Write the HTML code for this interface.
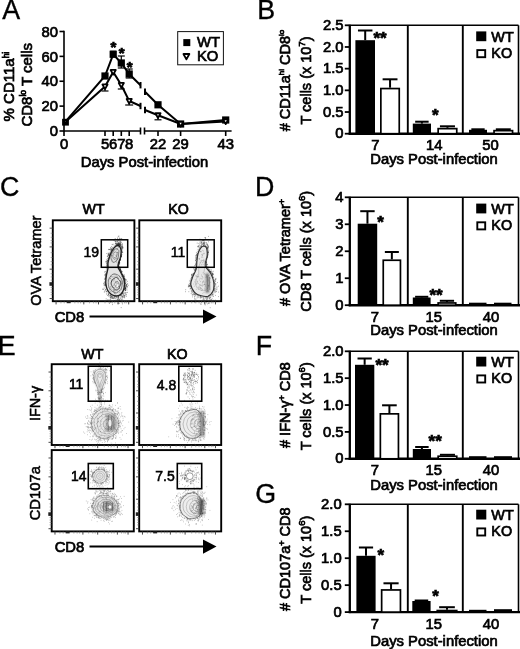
<!DOCTYPE html>
<html><head><meta charset="utf-8"><title>Figure</title>
<style>html,body{margin:0;padding:0;background:#fff}svg{display:block}text{font-family:"Liberation Sans",Arial,Helvetica,sans-serif;fill:#000;stroke:#000;stroke-width:0.7px}</style>
</head><body>
<svg width="520" height="649" viewBox="0 0 520 649">
<rect x="0" y="0" width="520" height="649" fill="#fff"/>
<defs><filter id="b1" x="-30%" y="-30%" width="160%" height="160%"><feGaussianBlur stdDeviation="1.2"/></filter><filter id="b2" x="-30%" y="-30%" width="160%" height="160%"><feGaussianBlur stdDeviation="0.5"/></filter></defs>
<text x="2.2" y="18.6" font-size="26.8" style="stroke-width:0.35px">A</text>
<text x="257.2" y="18.6" font-size="26.8" style="stroke-width:0.35px">B</text>
<text x="0" y="195.6" font-size="26.8" style="stroke-width:0.35px">C</text>
<text x="254.9" y="195.5" font-size="26.8" style="stroke-width:0.35px">D</text>
<text x="-2.2" y="354.6" font-size="26.8" style="stroke-width:0.35px">E</text>
<text x="255.7" y="354.6" font-size="26.8" style="stroke-width:0.35px">F</text>
<text x="255.3" y="502.9" font-size="26.8" style="stroke-width:0.35px">G</text>
<line x1="64" y1="30.75" x2="64" y2="131.75" stroke="#000" stroke-width="1.6"/>
<line x1="59.5" y1="131.0" x2="64" y2="131.0" stroke="#000" stroke-width="1.6"/>
<text x="58" y="136.2" text-anchor="end" font-size="14.8">0</text>
<line x1="59.5" y1="106.125" x2="64" y2="106.125" stroke="#000" stroke-width="1.6"/>
<text x="58" y="111.325" text-anchor="end" font-size="14.8">20</text>
<line x1="59.5" y1="81.25" x2="64" y2="81.25" stroke="#000" stroke-width="1.6"/>
<text x="58" y="86.45" text-anchor="end" font-size="14.8">40</text>
<line x1="59.5" y1="56.375" x2="64" y2="56.375" stroke="#000" stroke-width="1.6"/>
<text x="58" y="61.575" text-anchor="end" font-size="14.8">60</text>
<line x1="59.5" y1="31.5" x2="64" y2="31.5" stroke="#000" stroke-width="1.6"/>
<text x="58" y="36.7" text-anchor="end" font-size="14.8">80</text>
<line x1="64" y1="131" x2="140.5" y2="131" stroke="#000" stroke-width="1.6"/>
<line x1="144.5" y1="131" x2="231.6" y2="131" stroke="#000" stroke-width="1.6"/>
<line x1="140.5" y1="127.5" x2="140.5" y2="134.5" stroke="#000" stroke-width="1.6"/>
<line x1="144.5" y1="127.5" x2="144.5" y2="134.5" stroke="#000" stroke-width="1.6"/>
<line x1="64" y1="131" x2="64" y2="136" stroke="#000" stroke-width="1.6"/>
<text x="64" y="148.5" text-anchor="middle" font-size="14.8">0</text>
<line x1="105" y1="131" x2="105" y2="136" stroke="#000" stroke-width="1.6"/>
<text x="105" y="148.5" text-anchor="middle" font-size="14.8">5</text>
<line x1="113.2" y1="131" x2="113.2" y2="136" stroke="#000" stroke-width="1.6"/>
<text x="113.2" y="148.5" text-anchor="middle" font-size="14.8">6</text>
<line x1="121.3" y1="131" x2="121.3" y2="136" stroke="#000" stroke-width="1.6"/>
<text x="121.3" y="148.5" text-anchor="middle" font-size="14.8">7</text>
<line x1="129.2" y1="131" x2="129.2" y2="136" stroke="#000" stroke-width="1.6"/>
<text x="129.2" y="148.5" text-anchor="middle" font-size="14.8">8</text>
<line x1="158" y1="131" x2="158" y2="136" stroke="#000" stroke-width="1.6"/>
<text x="158" y="148.5" text-anchor="middle" font-size="14.8">22</text>
<line x1="180.6" y1="131" x2="180.6" y2="136" stroke="#000" stroke-width="1.6"/>
<text x="180.6" y="148.5" text-anchor="middle" font-size="14.8">29</text>
<line x1="225.7" y1="131" x2="225.7" y2="136" stroke="#000" stroke-width="1.6"/>
<text x="225.7" y="148.5" text-anchor="middle" font-size="14.8">43</text>
<text x="144.5" y="166.5" text-anchor="middle" font-size="14.8">Days Post-infection</text>
<text transform="translate(14.3,86.6) rotate(-90)" text-anchor="middle" font-size="15">% CD11a<tspan dy="-5.5" font-size="8.5">hi</tspan><tspan dy="5.5" font-size="14.8">&#8203;</tspan></text>
<text transform="translate(31.6,84.8) rotate(-90)" text-anchor="middle" font-size="15">CD8<tspan dy="-5.5" font-size="8.5">lo</tspan><tspan dy="5.5" font-size="14.8">&#8203;</tspan> T cells</text>
<polyline fill="none" stroke="#000" stroke-width="2" points="65,122.2 105,76 113.2,54.3 121.3,63 129.2,74 140.5,85.2"/>
<polyline fill="none" stroke="#000" stroke-width="2" points="145,91.7 158,104.8 180.6,124 225.7,120"/>
<polyline fill="none" stroke="#000" stroke-width="2" points="65,122.2 105,86.5 113.2,72 121.3,85 129.2,101 140.5,106"/>
<polyline fill="none" stroke="#000" stroke-width="2" points="145,110 158,115.3 180.6,124 225.7,121.5"/>
<line x1="140.5" y1="82.0" x2="140.5" y2="88.4" stroke="#000" stroke-width="2"/>
<line x1="145" y1="88.5" x2="145" y2="94.9" stroke="#000" stroke-width="2"/>
<line x1="140.5" y1="102.8" x2="140.5" y2="109.2" stroke="#000" stroke-width="2"/>
<line x1="145" y1="106.8" x2="145" y2="113.2" stroke="#000" stroke-width="2"/>
<line x1="121.3" y1="56" x2="121.3" y2="68" stroke="#000" stroke-width="1.2"/>
<line x1="117.8" y1="56" x2="124.8" y2="56" stroke="#000" stroke-width="1.2"/>
<line x1="117.8" y1="68" x2="124.8" y2="68" stroke="#000" stroke-width="1.2"/>
<line x1="129.2" y1="69" x2="129.2" y2="78" stroke="#000" stroke-width="1.2"/>
<line x1="125.69999999999999" y1="69" x2="132.7" y2="69" stroke="#000" stroke-width="1.2"/>
<line x1="125.69999999999999" y1="78" x2="132.7" y2="78" stroke="#000" stroke-width="1.2"/>
<line x1="105" y1="86.5" x2="105" y2="91.0" stroke="#000" stroke-width="1.2"/>
<line x1="101.5" y1="91.0" x2="108.5" y2="91.0" stroke="#000" stroke-width="1.2"/>
<line x1="121.3" y1="85" x2="121.3" y2="89" stroke="#000" stroke-width="1.2"/>
<line x1="117.8" y1="89" x2="124.8" y2="89" stroke="#000" stroke-width="1.2"/>
<line x1="129.2" y1="101" x2="129.2" y2="105" stroke="#000" stroke-width="1.2"/>
<line x1="125.19999999999999" y1="105" x2="133.2" y2="105" stroke="#000" stroke-width="1.2"/>
<line x1="158" y1="115.3" x2="158" y2="119.8" stroke="#000" stroke-width="1.2"/>
<line x1="154.5" y1="119.8" x2="161.5" y2="119.8" stroke="#000" stroke-width="1.2"/>
<line x1="113.2" y1="51.3" x2="113.2" y2="54.3" stroke="#000" stroke-width="1.2"/>
<line x1="110.2" y1="51.3" x2="116.2" y2="51.3" stroke="#000" stroke-width="1.2"/>
<rect x="101.4" y="72.4" width="7.2" height="7.2" fill="#000"/>
<rect x="109.60000000000001" y="50.699999999999996" width="7.2" height="7.2" fill="#000"/>
<rect x="117.7" y="59.4" width="7.2" height="7.2" fill="#000"/>
<rect x="125.6" y="70.4" width="7.2" height="7.2" fill="#000"/>
<rect x="154.4" y="101.2" width="7.2" height="7.2" fill="#000"/>
<rect x="177.0" y="120.4" width="7.2" height="7.2" fill="#000"/>
<rect x="222.1" y="116.4" width="7.2" height="7.2" fill="#000"/>
<polygon points="102.45,84.45 107.55,84.45 105,89.15" fill="#fff" stroke="#000" stroke-width="1.8" stroke-linejoin="round"/>
<polygon points="110.65,69.95 115.75,69.95 113.2,74.65" fill="#fff" stroke="#000" stroke-width="1.8" stroke-linejoin="round"/>
<polygon points="118.75,82.95 123.85,82.95 121.3,87.65" fill="#fff" stroke="#000" stroke-width="1.8" stroke-linejoin="round"/>
<polygon points="126.65,98.95 131.75,98.95 129.2,103.65" fill="#fff" stroke="#000" stroke-width="1.8" stroke-linejoin="round"/>
<polygon points="155.45,113.25 160.55,113.25 158,117.95" fill="#fff" stroke="#000" stroke-width="1.8" stroke-linejoin="round"/>
<polygon points="178.05,121.95 183.15,121.95 180.6,126.65" fill="#fff" stroke="#000" stroke-width="1.8" stroke-linejoin="round"/>
<polygon points="223.15,119.45 228.25,119.45 225.7,124.15" fill="#fff" stroke="#000" stroke-width="1.8" stroke-linejoin="round"/>
<rect x="62.1" y="118.8" width="6.8" height="6.8" fill="#000"/>
<polygon points="63.70,120.64 67.30,120.64 65.5,123.96" fill="#fff" stroke="#000" stroke-width="1.8" stroke-linejoin="round"/>
<text x="113.3" y="52" text-anchor="middle" font-size="15" font-weight="bold">*</text>
<text x="121.7" y="58.2" text-anchor="middle" font-size="15" font-weight="bold">*</text>
<text x="129.6" y="71.8" text-anchor="middle" font-size="15" font-weight="bold">*</text>
<rect x="177.7" y="31.6" width="45.7" height="33.2" fill="none" stroke="#111" stroke-width="1"/>
<rect x="183.3" y="39.1" width="7" height="7" fill="#000"/>
<text x="197" y="47" text-anchor="start" font-size="14.8">WT</text>
<polygon points="183.45,53.99 189.35,53.99 186.4,59.41" fill="#fff" stroke="#000" stroke-width="1.8" stroke-linejoin="round"/>
<text x="197" y="61" text-anchor="start" font-size="14.8">KO</text>
<line x1="349.8" y1="24.7" x2="349.8" y2="134.7" stroke="#000" stroke-width="2.3"/>
<line x1="349.8" y1="25.3" x2="518.5" y2="25.3" stroke="#000" stroke-width="1.6"/>
<line x1="518.5" y1="25.3" x2="518.5" y2="133.7" stroke="#000" stroke-width="1.6"/>
<line x1="348.7" y1="133.7" x2="520" y2="133.7" stroke="#000" stroke-width="2.4"/>
<line x1="407.8" y1="25.3" x2="407.8" y2="133.7" stroke="#000" stroke-width="1.9"/>
<line x1="462.8" y1="25.3" x2="462.8" y2="133.7" stroke="#000" stroke-width="1.9"/>
<line x1="344.8" y1="133.7" x2="349.8" y2="133.7" stroke="#000" stroke-width="1.8"/>
<text x="343.5" y="138.29999999999998" text-anchor="end" font-size="14.8">0</text>
<line x1="344.8" y1="112.01999999999998" x2="349.8" y2="112.01999999999998" stroke="#000" stroke-width="1.8"/>
<text x="343.5" y="116.61999999999998" text-anchor="end" font-size="14.8">0.5</text>
<line x1="344.8" y1="90.33999999999999" x2="349.8" y2="90.33999999999999" stroke="#000" stroke-width="1.8"/>
<text x="343.5" y="94.93999999999998" text-anchor="end" font-size="14.8">1.0</text>
<line x1="344.8" y1="68.66" x2="349.8" y2="68.66" stroke="#000" stroke-width="1.8"/>
<text x="343.5" y="73.25999999999999" text-anchor="end" font-size="14.8">1.5</text>
<line x1="344.8" y1="46.97999999999999" x2="349.8" y2="46.97999999999999" stroke="#000" stroke-width="1.8"/>
<text x="343.5" y="51.57999999999999" text-anchor="end" font-size="14.8">2.0</text>
<line x1="344.8" y1="25.299999999999983" x2="349.8" y2="25.299999999999983" stroke="#000" stroke-width="1.8"/>
<text x="343.5" y="29.899999999999984" text-anchor="end" font-size="14.8">2.5</text>
<line x1="365.2" y1="30.5" x2="365.2" y2="40.2" stroke="#000" stroke-width="2"/>
<line x1="357.948" y1="30.5" x2="372.452" y2="30.5" stroke="#000" stroke-width="2"/>
<rect x="355.4" y="40.2" width="19.600000000000023" height="93.49999999999999" fill="#000"/>
<line x1="390.05" y1="79.3" x2="390.05" y2="87.7" stroke="#000" stroke-width="2"/>
<line x1="382.613" y1="79.3" x2="397.487" y2="79.3" stroke="#000" stroke-width="2"/>
<rect x="380.85" y="88.55" width="18.400000000000023" height="45.149999999999984" fill="#fff" stroke="#000" stroke-width="1.7"/>
<line x1="421.9" y1="121.7" x2="421.9" y2="123.6" stroke="#000" stroke-width="2"/>
<line x1="415.166" y1="121.7" x2="428.63399999999996" y2="121.7" stroke="#000" stroke-width="2"/>
<rect x="412.8" y="123.6" width="18.19999999999999" height="10.099999999999994" fill="#000"/>
<line x1="447.45000000000005" y1="126.3" x2="447.45000000000005" y2="127.8" stroke="#000" stroke-width="2"/>
<line x1="439.939" y1="126.3" x2="454.96100000000007" y2="126.3" stroke="#000" stroke-width="2"/>
<rect x="438.15000000000003" y="128.65" width="18.600000000000012" height="5.049999999999992" fill="#fff" stroke="#000" stroke-width="1.7"/>
<line x1="478.0" y1="129.3" x2="478.0" y2="129.8" stroke="#000" stroke-width="2"/>
<line x1="471.34" y1="129.3" x2="484.66" y2="129.3" stroke="#000" stroke-width="2"/>
<rect x="469" y="129.8" width="18" height="3.8999999999999773" fill="#000"/>
<line x1="503.29999999999995" y1="129.3" x2="503.29999999999995" y2="129.8" stroke="#000" stroke-width="2"/>
<line x1="495.82599999999996" y1="129.3" x2="510.77399999999994" y2="129.3" stroke="#000" stroke-width="2"/>
<rect x="494.05" y="130.65" width="18.49999999999999" height="3.049999999999977" fill="#fff" stroke="#000" stroke-width="1.7"/>
<text x="380" y="44.1" text-anchor="middle" font-size="17" font-weight="bold">**</text>
<text x="435.4" y="120.6" text-anchor="middle" font-size="17" font-weight="bold">*</text>
<text x="375.4" y="149.9" text-anchor="middle" font-size="14.8">7</text>
<text x="434.2" y="149.9" text-anchor="middle" font-size="14.8">14</text>
<text x="490.5" y="149.9" text-anchor="middle" font-size="14.8">50</text>
<text x="434" y="164" text-anchor="middle" font-size="14.8">Days Post-infection</text>
<text transform="translate(289.5,80.5) rotate(-90)" text-anchor="middle" font-size="14.5"># CD11a<tspan dy="-5.6" font-size="8">hi</tspan><tspan dy="5.6" font-size="14.8">&#8203;</tspan> CD8<tspan dy="-5.6" font-size="8">lo</tspan><tspan dy="5.6" font-size="14.8">&#8203;</tspan></text>
<text transform="translate(310.5,80.5) rotate(-90)" text-anchor="middle" font-size="14.5">T cells (x 10<tspan dy="-5.3" font-size="9.5">7</tspan><tspan dy="5.3" font-size="14.8">&#8203;</tspan>)</text>
<rect x="476.2" y="31.4" width="10.1" height="9.8" fill="#000"/>
<text x="491.3" y="41.6" text-anchor="start" font-size="14.4">WT</text>
<rect x="477.3" y="50.1" width="7.9" height="7.1" fill="#fff" stroke="#000" stroke-width="1.9"/>
<text x="491.3" y="58.1" text-anchor="start" font-size="14.4">KO</text>
<line x1="349.8" y1="196.70000000000002" x2="349.8" y2="306.2" stroke="#000" stroke-width="2.3"/>
<line x1="349.8" y1="197.3" x2="518.5" y2="197.3" stroke="#000" stroke-width="1.6"/>
<line x1="518.5" y1="197.3" x2="518.5" y2="305.2" stroke="#000" stroke-width="1.6"/>
<line x1="348.7" y1="305.2" x2="520" y2="305.2" stroke="#000" stroke-width="2.4"/>
<line x1="407.8" y1="197.3" x2="407.8" y2="305.2" stroke="#000" stroke-width="1.9"/>
<line x1="462.8" y1="197.3" x2="462.8" y2="305.2" stroke="#000" stroke-width="1.9"/>
<line x1="344.8" y1="305.2" x2="349.8" y2="305.2" stroke="#000" stroke-width="1.8"/>
<text x="343.5" y="309.8" text-anchor="end" font-size="14.8">0</text>
<line x1="344.8" y1="278.225" x2="349.8" y2="278.225" stroke="#000" stroke-width="1.8"/>
<text x="343.5" y="282.82500000000005" text-anchor="end" font-size="14.8">1</text>
<line x1="344.8" y1="251.25" x2="349.8" y2="251.25" stroke="#000" stroke-width="1.8"/>
<text x="343.5" y="255.85" text-anchor="end" font-size="14.8">2</text>
<line x1="344.8" y1="224.275" x2="349.8" y2="224.275" stroke="#000" stroke-width="1.8"/>
<text x="343.5" y="228.875" text-anchor="end" font-size="14.8">3</text>
<line x1="344.8" y1="197.3" x2="349.8" y2="197.3" stroke="#000" stroke-width="1.8"/>
<text x="343.5" y="201.9" text-anchor="end" font-size="14.8">4</text>
<line x1="367.45" y1="211.2" x2="367.45" y2="223.7" stroke="#000" stroke-width="2"/>
<line x1="360.235" y1="211.2" x2="374.66499999999996" y2="211.2" stroke="#000" stroke-width="2"/>
<rect x="357.7" y="223.7" width="19.5" height="81.5" fill="#000"/>
<line x1="391.85" y1="252" x2="391.85" y2="259.4" stroke="#000" stroke-width="2"/>
<line x1="384.857" y1="252" x2="398.843" y2="252" stroke="#000" stroke-width="2"/>
<rect x="383.25" y="260.25" width="17.200000000000035" height="44.95000000000001" fill="#fff" stroke="#000" stroke-width="1.7"/>
<line x1="421.70000000000005" y1="296.8" x2="421.70000000000005" y2="297.5" stroke="#000" stroke-width="2"/>
<line x1="415.11400000000003" y1="296.8" x2="428.28600000000006" y2="296.8" stroke="#000" stroke-width="2"/>
<rect x="412.8" y="297.5" width="17.80000000000001" height="7.699999999999989" fill="#000"/>
<line x1="446.95000000000005" y1="300.8" x2="446.95000000000005" y2="302.1" stroke="#000" stroke-width="2"/>
<line x1="439.809" y1="300.8" x2="454.09100000000007" y2="300.8" stroke="#000" stroke-width="2"/>
<rect x="438.15000000000003" y="302.95000000000005" width="17.600000000000012" height="2.249999999999966" fill="#fff" stroke="#000" stroke-width="1.7"/>
<rect x="469" y="302.7" width="17.5" height="2.5" fill="#000"/>
<rect x="494" y="302.7" width="17.5" height="2.5" fill="#000"/>
<text x="380.5" y="227.6" text-anchor="middle" font-size="17" font-weight="bold">*</text>
<text x="436" y="300.8" text-anchor="middle" font-size="17" font-weight="bold">**</text>
<text x="374.8" y="321.6" text-anchor="middle" font-size="14.8">7</text>
<text x="433.8" y="321.6" text-anchor="middle" font-size="14.8">15</text>
<text x="491" y="321.6" text-anchor="middle" font-size="14.8">40</text>
<text x="434" y="334.8" text-anchor="middle" font-size="14.8">Days Post-infection</text>
<text transform="translate(289.5,252.45) rotate(-90)" text-anchor="middle" font-size="14.5"># OVA Tetramer<tspan dy="-4.2" font-size="9">+</tspan><tspan dy="4.2" font-size="14.8">&#8203;</tspan></text>
<text transform="translate(310.5,251.25) rotate(-90)" text-anchor="middle" font-size="14.5">CD8 T cells (x 10<tspan dy="-5.3" font-size="9.5">6</tspan><tspan dy="5.3" font-size="14.8">&#8203;</tspan>)</text>
<rect x="476.2" y="203.6" width="10.1" height="9.8" fill="#000"/>
<text x="491.3" y="213.79999999999998" text-anchor="start" font-size="14.4">WT</text>
<rect x="477.3" y="222.29999999999998" width="7.9" height="7.1" fill="#fff" stroke="#000" stroke-width="1.9"/>
<text x="491.3" y="230.29999999999998" text-anchor="start" font-size="14.4">KO</text>
<line x1="349.8" y1="350.7" x2="349.8" y2="459.8" stroke="#000" stroke-width="2.3"/>
<line x1="349.8" y1="351.3" x2="518.5" y2="351.3" stroke="#000" stroke-width="1.6"/>
<line x1="518.5" y1="351.3" x2="518.5" y2="458.8" stroke="#000" stroke-width="1.6"/>
<line x1="348.7" y1="458.8" x2="520" y2="458.8" stroke="#000" stroke-width="2.4"/>
<line x1="407.8" y1="351.3" x2="407.8" y2="458.8" stroke="#000" stroke-width="1.9"/>
<line x1="462.8" y1="351.3" x2="462.8" y2="458.8" stroke="#000" stroke-width="1.9"/>
<line x1="344.8" y1="458.8" x2="349.8" y2="458.8" stroke="#000" stroke-width="1.8"/>
<text x="343.5" y="463.40000000000003" text-anchor="end" font-size="14.8">0</text>
<line x1="344.8" y1="431.925" x2="349.8" y2="431.925" stroke="#000" stroke-width="1.8"/>
<text x="343.5" y="436.52500000000003" text-anchor="end" font-size="14.8">0.5</text>
<line x1="344.8" y1="405.05" x2="349.8" y2="405.05" stroke="#000" stroke-width="1.8"/>
<text x="343.5" y="409.65000000000003" text-anchor="end" font-size="14.8">1.0</text>
<line x1="344.8" y1="378.175" x2="349.8" y2="378.175" stroke="#000" stroke-width="1.8"/>
<text x="343.5" y="382.77500000000003" text-anchor="end" font-size="14.8">1.5</text>
<line x1="344.8" y1="351.3" x2="349.8" y2="351.3" stroke="#000" stroke-width="1.8"/>
<text x="343.5" y="355.90000000000003" text-anchor="end" font-size="14.8">2.0</text>
<line x1="364.65" y1="358.5" x2="364.65" y2="364.8" stroke="#000" stroke-width="2"/>
<line x1="357.50899999999996" y1="358.5" x2="371.791" y2="358.5" stroke="#000" stroke-width="2"/>
<rect x="355" y="364.8" width="19.30000000000001" height="94.0" fill="#000"/>
<line x1="389.4" y1="405.3" x2="389.4" y2="413" stroke="#000" stroke-width="2"/>
<line x1="382.07399999999996" y1="405.3" x2="396.726" y2="405.3" stroke="#000" stroke-width="2"/>
<rect x="380.35" y="413.85" width="18.100000000000012" height="44.95000000000001" fill="#fff" stroke="#000" stroke-width="1.7"/>
<line x1="421.9" y1="447" x2="421.9" y2="449" stroke="#000" stroke-width="2"/>
<line x1="415.166" y1="447" x2="428.63399999999996" y2="447" stroke="#000" stroke-width="2"/>
<rect x="412.8" y="449" width="18.19999999999999" height="9.800000000000011" fill="#000"/>
<line x1="447.45000000000005" y1="454.8" x2="447.45000000000005" y2="455.4" stroke="#000" stroke-width="2"/>
<line x1="439.939" y1="454.8" x2="454.96100000000007" y2="454.8" stroke="#000" stroke-width="2"/>
<rect x="438.15000000000003" y="456.25" width="18.600000000000012" height="2.550000000000034" fill="#fff" stroke="#000" stroke-width="1.7"/>
<rect x="469" y="456.2" width="17.5" height="2.6000000000000227" fill="#000"/>
<rect x="494" y="456.2" width="18" height="2.6000000000000227" fill="#000"/>
<text x="382" y="370.70000000000005" text-anchor="middle" font-size="17" font-weight="bold">**</text>
<text x="435.2" y="447.20000000000005" text-anchor="middle" font-size="17" font-weight="bold">**</text>
<text x="374.8" y="475.1" text-anchor="middle" font-size="14.8">7</text>
<text x="433.8" y="475.1" text-anchor="middle" font-size="14.8">15</text>
<text x="491" y="475.1" text-anchor="middle" font-size="14.8">40</text>
<text x="434" y="489.5" text-anchor="middle" font-size="14.8">Days Post-infection</text>
<text transform="translate(289.5,405.05) rotate(-90)" text-anchor="middle" font-size="14.5"># IFN-&#947;<tspan dy="-4.2" font-size="9">+</tspan><tspan dy="4.2" font-size="14.8">&#8203;</tspan> CD8</text>
<text transform="translate(310.5,406.25) rotate(-90)" text-anchor="middle" font-size="14.5">T cells (x 10<tspan dy="-5.3" font-size="9.5">6</tspan><tspan dy="5.3" font-size="14.8">&#8203;</tspan>)</text>
<rect x="476.2" y="356.7" width="10.1" height="9.8" fill="#000"/>
<text x="491.3" y="366.90000000000003" text-anchor="start" font-size="14.4">WT</text>
<rect x="477.3" y="375.40000000000003" width="7.9" height="7.1" fill="#fff" stroke="#000" stroke-width="1.9"/>
<text x="491.3" y="383.40000000000003" text-anchor="start" font-size="14.4">KO</text>
<line x1="349.8" y1="503.7" x2="349.8" y2="613.1" stroke="#000" stroke-width="2.3"/>
<line x1="349.8" y1="504.3" x2="518.5" y2="504.3" stroke="#000" stroke-width="1.6"/>
<line x1="518.5" y1="504.3" x2="518.5" y2="612.1" stroke="#000" stroke-width="1.6"/>
<line x1="348.7" y1="612.1" x2="520" y2="612.1" stroke="#000" stroke-width="2.4"/>
<line x1="407.8" y1="504.3" x2="407.8" y2="612.1" stroke="#000" stroke-width="1.9"/>
<line x1="462.8" y1="504.3" x2="462.8" y2="612.1" stroke="#000" stroke-width="1.9"/>
<line x1="344.8" y1="612.1" x2="349.8" y2="612.1" stroke="#000" stroke-width="1.8"/>
<text x="341.7" y="616.7" text-anchor="end" font-size="14.8">0</text>
<line x1="344.8" y1="585.15" x2="349.8" y2="585.15" stroke="#000" stroke-width="1.8"/>
<text x="341.7" y="589.75" text-anchor="end" font-size="14.8">0.5</text>
<line x1="344.8" y1="558.2" x2="349.8" y2="558.2" stroke="#000" stroke-width="1.8"/>
<text x="341.7" y="562.8000000000001" text-anchor="end" font-size="14.8">1.0</text>
<line x1="344.8" y1="531.25" x2="349.8" y2="531.25" stroke="#000" stroke-width="1.8"/>
<text x="341.7" y="535.85" text-anchor="end" font-size="14.8">1.5</text>
<line x1="344.8" y1="504.3" x2="349.8" y2="504.3" stroke="#000" stroke-width="1.8"/>
<text x="341.7" y="508.90000000000003" text-anchor="end" font-size="14.8">2.0</text>
<line x1="366.0" y1="547.5" x2="366.0" y2="555.8" stroke="#000" stroke-width="2"/>
<line x1="358.89599999999996" y1="547.5" x2="373.10400000000004" y2="547.5" stroke="#000" stroke-width="2"/>
<rect x="356.4" y="555.8" width="19.200000000000045" height="56.30000000000007" fill="#000"/>
<line x1="391.05" y1="583.3" x2="391.05" y2="589.1" stroke="#000" stroke-width="2"/>
<line x1="383.46500000000003" y1="583.3" x2="398.635" y2="583.3" stroke="#000" stroke-width="2"/>
<rect x="381.65000000000003" y="589.95" width="18.8" height="22.15" fill="#fff" stroke="#000" stroke-width="1.7"/>
<line x1="421.45000000000005" y1="600.5" x2="421.45000000000005" y2="601" stroke="#000" stroke-width="2"/>
<line x1="414.67900000000003" y1="600.5" x2="428.22100000000006" y2="600.5" stroke="#000" stroke-width="2"/>
<rect x="412.3" y="601" width="18.30000000000001" height="11.100000000000023" fill="#000"/>
<line x1="447.0" y1="607.2" x2="447.0" y2="609.7" stroke="#000" stroke-width="2"/>
<line x1="439.156" y1="607.2" x2="454.844" y2="607.2" stroke="#000" stroke-width="2"/>
<rect x="437.25" y="610.5500000000001" width="19.500000000000046" height="1.5499999999999772" fill="#fff" stroke="#000" stroke-width="1.7"/>
<rect x="469" y="609.8" width="17.5" height="2.300000000000068" fill="#000"/>
<rect x="494" y="609.2" width="18" height="2.8999999999999773" fill="#000"/>
<text x="380.8" y="560.7" text-anchor="middle" font-size="17" font-weight="bold">*</text>
<text x="435.6" y="602.1" text-anchor="middle" font-size="17" font-weight="bold">*</text>
<text x="374.8" y="628.6" text-anchor="middle" font-size="14.8">7</text>
<text x="433.8" y="628.6" text-anchor="middle" font-size="14.8">15</text>
<text x="491" y="628.6" text-anchor="middle" font-size="14.8">40</text>
<text x="434" y="645.6" text-anchor="middle" font-size="14.8">Days Post-infection</text>
<text transform="translate(289.5,559.2) rotate(-90)" text-anchor="middle" font-size="14.5"># CD107a<tspan dy="-4.2" font-size="9">+</tspan><tspan dy="4.2" font-size="14.8">&#8203;</tspan> CD8</text>
<text transform="translate(310.5,559.7) rotate(-90)" text-anchor="middle" font-size="14.5">T cells (x 10<tspan dy="-5.3" font-size="9.5">6</tspan><tspan dy="5.3" font-size="14.8">&#8203;</tspan>)</text>
<rect x="476.2" y="509.7" width="10.1" height="9.8" fill="#000"/>
<text x="491.3" y="519.9" text-anchor="start" font-size="14.4">WT</text>
<rect x="477.3" y="528.4" width="7.9" height="7.1" fill="#fff" stroke="#000" stroke-width="1.9"/>
<text x="491.3" y="536.4" text-anchor="start" font-size="14.4">KO</text>
<rect x="52.8" y="220.3" width="81.60000000000001" height="80.89999999999998" fill="none" stroke="#000" stroke-width="1.9"/>
<line x1="49.599999999999994" y1="228.1473" x2="52.8" y2="228.1473" stroke="#333" stroke-width="0.9"/>
<line x1="49.599999999999994" y1="246.9161" x2="52.8" y2="246.9161" stroke="#333" stroke-width="0.9"/>
<line x1="49.599999999999994" y1="269.1636" x2="52.8" y2="269.1636" stroke="#333" stroke-width="0.9"/>
<line x1="49.599999999999994" y1="298.5303" x2="52.8" y2="298.5303" stroke="#333" stroke-width="0.9"/>
<line x1="50.599999999999994" y1="233.244" x2="52.8" y2="233.244" stroke="#666" stroke-width="0.5"/>
<line x1="50.599999999999994" y1="237.28900000000002" x2="52.8" y2="237.28900000000002" stroke="#666" stroke-width="0.5"/>
<line x1="50.599999999999994" y1="240.525" x2="52.8" y2="240.525" stroke="#666" stroke-width="0.5"/>
<line x1="50.599999999999994" y1="242.952" x2="52.8" y2="242.952" stroke="#666" stroke-width="0.5"/>
<line x1="50.599999999999994" y1="252.66" x2="52.8" y2="252.66" stroke="#666" stroke-width="0.5"/>
<line x1="50.599999999999994" y1="257.514" x2="52.8" y2="257.514" stroke="#666" stroke-width="0.5"/>
<line x1="50.599999999999994" y1="261.55899999999997" x2="52.8" y2="261.55899999999997" stroke="#666" stroke-width="0.5"/>
<line x1="50.599999999999994" y1="264.795" x2="52.8" y2="264.795" stroke="#666" stroke-width="0.5"/>
<line x1="50.599999999999994" y1="273.694" x2="52.8" y2="273.694" stroke="#666" stroke-width="0.5"/>
<line x1="50.599999999999994" y1="276.93" x2="52.8" y2="276.93" stroke="#666" stroke-width="0.5"/>
<line x1="50.599999999999994" y1="280.166" x2="52.8" y2="280.166" stroke="#666" stroke-width="0.5"/>
<line x1="50.599999999999994" y1="287.447" x2="52.8" y2="287.447" stroke="#666" stroke-width="0.5"/>
<line x1="50.599999999999994" y1="289.874" x2="52.8" y2="289.874" stroke="#666" stroke-width="0.5"/>
<line x1="50.599999999999994" y1="292.301" x2="52.8" y2="292.301" stroke="#666" stroke-width="0.5"/>
<line x1="50.599999999999994" y1="294.728" x2="52.8" y2="294.728" stroke="#666" stroke-width="0.5"/>
<line x1="56.064" y1="301.2" x2="56.064" y2="304.4" stroke="#333" stroke-width="0.9"/>
<line x1="83.80799999999999" y1="301.2" x2="83.80799999999999" y2="304.4" stroke="#333" stroke-width="0.9"/>
<line x1="98.49600000000001" y1="301.2" x2="98.49600000000001" y2="304.4" stroke="#333" stroke-width="0.9"/>
<line x1="118.08000000000001" y1="301.2" x2="118.08000000000001" y2="304.4" stroke="#333" stroke-width="0.9"/>
<line x1="128.688" y1="301.2" x2="128.688" y2="304.4" stroke="#333" stroke-width="0.9"/>
<line x1="60.96" y1="301.2" x2="60.96" y2="303.4" stroke="#666" stroke-width="0.5"/>
<line x1="64.224" y1="301.2" x2="64.224" y2="303.4" stroke="#666" stroke-width="0.5"/>
<line x1="74.832" y1="301.2" x2="74.832" y2="303.4" stroke="#666" stroke-width="0.5"/>
<line x1="78.096" y1="301.2" x2="78.096" y2="303.4" stroke="#666" stroke-width="0.5"/>
<line x1="80.544" y1="301.2" x2="80.544" y2="303.4" stroke="#666" stroke-width="0.5"/>
<line x1="89.52000000000001" y1="301.2" x2="89.52000000000001" y2="303.4" stroke="#666" stroke-width="0.5"/>
<line x1="93.6" y1="301.2" x2="93.6" y2="303.4" stroke="#666" stroke-width="0.5"/>
<line x1="96.048" y1="301.2" x2="96.048" y2="303.4" stroke="#666" stroke-width="0.5"/>
<line x1="105.024" y1="301.2" x2="105.024" y2="303.4" stroke="#666" stroke-width="0.5"/>
<line x1="109.104" y1="301.2" x2="109.104" y2="303.4" stroke="#666" stroke-width="0.5"/>
<line x1="112.368" y1="301.2" x2="112.368" y2="303.4" stroke="#666" stroke-width="0.5"/>
<line x1="114.816" y1="301.2" x2="114.816" y2="303.4" stroke="#666" stroke-width="0.5"/>
<line x1="122.16" y1="301.2" x2="122.16" y2="303.4" stroke="#666" stroke-width="0.5"/>
<line x1="124.608" y1="301.2" x2="124.608" y2="303.4" stroke="#666" stroke-width="0.5"/>
<line x1="126.24000000000001" y1="301.2" x2="126.24000000000001" y2="303.4" stroke="#666" stroke-width="0.5"/>
<rect x="49.4" y="282.1885" width="3" height="3.6" fill="#222"/>
<rect x="66.672" y="301.2" width="4" height="2" fill="#222"/>
<rect x="139.3" y="220.3" width="81.89999999999998" height="80.89999999999998" fill="none" stroke="#000" stroke-width="1.9"/>
<line x1="136.10000000000002" y1="228.1473" x2="139.3" y2="228.1473" stroke="#333" stroke-width="0.9"/>
<line x1="136.10000000000002" y1="246.9161" x2="139.3" y2="246.9161" stroke="#333" stroke-width="0.9"/>
<line x1="136.10000000000002" y1="269.1636" x2="139.3" y2="269.1636" stroke="#333" stroke-width="0.9"/>
<line x1="136.10000000000002" y1="298.5303" x2="139.3" y2="298.5303" stroke="#333" stroke-width="0.9"/>
<line x1="137.10000000000002" y1="233.244" x2="139.3" y2="233.244" stroke="#666" stroke-width="0.5"/>
<line x1="137.10000000000002" y1="237.28900000000002" x2="139.3" y2="237.28900000000002" stroke="#666" stroke-width="0.5"/>
<line x1="137.10000000000002" y1="240.525" x2="139.3" y2="240.525" stroke="#666" stroke-width="0.5"/>
<line x1="137.10000000000002" y1="242.952" x2="139.3" y2="242.952" stroke="#666" stroke-width="0.5"/>
<line x1="137.10000000000002" y1="252.66" x2="139.3" y2="252.66" stroke="#666" stroke-width="0.5"/>
<line x1="137.10000000000002" y1="257.514" x2="139.3" y2="257.514" stroke="#666" stroke-width="0.5"/>
<line x1="137.10000000000002" y1="261.55899999999997" x2="139.3" y2="261.55899999999997" stroke="#666" stroke-width="0.5"/>
<line x1="137.10000000000002" y1="264.795" x2="139.3" y2="264.795" stroke="#666" stroke-width="0.5"/>
<line x1="137.10000000000002" y1="273.694" x2="139.3" y2="273.694" stroke="#666" stroke-width="0.5"/>
<line x1="137.10000000000002" y1="276.93" x2="139.3" y2="276.93" stroke="#666" stroke-width="0.5"/>
<line x1="137.10000000000002" y1="280.166" x2="139.3" y2="280.166" stroke="#666" stroke-width="0.5"/>
<line x1="137.10000000000002" y1="287.447" x2="139.3" y2="287.447" stroke="#666" stroke-width="0.5"/>
<line x1="137.10000000000002" y1="289.874" x2="139.3" y2="289.874" stroke="#666" stroke-width="0.5"/>
<line x1="137.10000000000002" y1="292.301" x2="139.3" y2="292.301" stroke="#666" stroke-width="0.5"/>
<line x1="137.10000000000002" y1="294.728" x2="139.3" y2="294.728" stroke="#666" stroke-width="0.5"/>
<line x1="142.57600000000002" y1="301.2" x2="142.57600000000002" y2="304.4" stroke="#333" stroke-width="0.9"/>
<line x1="170.422" y1="301.2" x2="170.422" y2="304.4" stroke="#333" stroke-width="0.9"/>
<line x1="185.164" y1="301.2" x2="185.164" y2="304.4" stroke="#333" stroke-width="0.9"/>
<line x1="204.82" y1="301.2" x2="204.82" y2="304.4" stroke="#333" stroke-width="0.9"/>
<line x1="215.46699999999998" y1="301.2" x2="215.46699999999998" y2="304.4" stroke="#333" stroke-width="0.9"/>
<line x1="147.49" y1="301.2" x2="147.49" y2="303.4" stroke="#666" stroke-width="0.5"/>
<line x1="150.76600000000002" y1="301.2" x2="150.76600000000002" y2="303.4" stroke="#666" stroke-width="0.5"/>
<line x1="161.413" y1="301.2" x2="161.413" y2="303.4" stroke="#666" stroke-width="0.5"/>
<line x1="164.689" y1="301.2" x2="164.689" y2="303.4" stroke="#666" stroke-width="0.5"/>
<line x1="167.14600000000002" y1="301.2" x2="167.14600000000002" y2="303.4" stroke="#666" stroke-width="0.5"/>
<line x1="176.155" y1="301.2" x2="176.155" y2="303.4" stroke="#666" stroke-width="0.5"/>
<line x1="180.25" y1="301.2" x2="180.25" y2="303.4" stroke="#666" stroke-width="0.5"/>
<line x1="182.707" y1="301.2" x2="182.707" y2="303.4" stroke="#666" stroke-width="0.5"/>
<line x1="191.716" y1="301.2" x2="191.716" y2="303.4" stroke="#666" stroke-width="0.5"/>
<line x1="195.81099999999998" y1="301.2" x2="195.81099999999998" y2="303.4" stroke="#666" stroke-width="0.5"/>
<line x1="199.087" y1="301.2" x2="199.087" y2="303.4" stroke="#666" stroke-width="0.5"/>
<line x1="201.54399999999998" y1="301.2" x2="201.54399999999998" y2="303.4" stroke="#666" stroke-width="0.5"/>
<line x1="208.915" y1="301.2" x2="208.915" y2="303.4" stroke="#666" stroke-width="0.5"/>
<line x1="211.37199999999999" y1="301.2" x2="211.37199999999999" y2="303.4" stroke="#666" stroke-width="0.5"/>
<line x1="213.01" y1="301.2" x2="213.01" y2="303.4" stroke="#666" stroke-width="0.5"/>
<rect x="135.9" y="282.1885" width="3" height="3.6" fill="#222"/>
<rect x="153.223" y="301.2" width="4" height="2" fill="#222"/>
<text x="93.6" y="214.3" text-anchor="middle" font-size="14.2" style="stroke-width:0.7px">WT</text>
<text x="178.6" y="214.3" text-anchor="middle" font-size="14.2" style="stroke-width:0.7px">KO</text>
<text transform="translate(40.5,260.7) rotate(-90)" text-anchor="middle" font-size="14.6" style="stroke-width:0.55px">OVA Tetramer</text>
<path d="M119.1 242.9C120.1 243.6 121.3 245.8 121.6 247.9C121.9 250.0 121.5 253.2 121.0 255.6C120.6 258.0 119.3 260.4 118.8 262.2C118.4 264.0 117.9 265.0 118.3 266.6C118.7 268.2 120.0 270.1 121.0 272.1C122.1 274.1 123.6 276.5 124.3 278.7C125.1 280.9 125.5 283.1 125.5 285.3C125.5 287.5 125.1 290.0 124.3 291.9C123.6 293.8 122.3 295.8 121.0 296.9C119.8 298.0 118.3 298.5 116.7 298.5C115.0 298.5 112.8 298.0 111.2 296.9C109.5 295.8 107.8 294.0 106.8 291.9C105.7 289.8 105.1 286.9 104.9 284.2C104.7 281.4 105.2 278.1 105.7 275.4C106.1 272.6 107.0 269.9 107.3 267.7C107.6 265.5 107.0 264.2 107.3 262.2C107.6 260.2 108.2 257.8 109.0 255.6C109.7 253.4 110.6 250.9 111.7 249.0C112.8 247.1 114.3 245.1 115.5 244.1C116.8 243.0 118.1 242.3 119.1 242.9Z" fill="#777" opacity="0.3" filter="url(#b1)"/>
<path d="M107.0 272.5h.7M125.5 286.0h.7M119.1 300.2h.7M118.7 300.3h.7M121.6 254.3h.7M121.1 271.8h.7M104.5 284.4h.7M114.7 241.3h.7M114.8 298.4h.7M105.2 275.1h.7M119.5 260.5h.7M120.9 254.5h.7M118.9 303.4h.7M117.7 295.9h.7M111.0 296.8h.7M118.3 264.8h.7M125.1 283.7h.7M105.1 284.8h.7M106.5 266.9h.7M120.4 271.1h.7M109.5 253.1h.7M105.1 284.3h.7M118.7 266.9h.7M120.8 242.8h.7M112.6 249.8h.7M110.0 253.2h.7M112.7 244.3h.7M118.2 239.7h.7M122.5 247.9h.7M109.1 249.5h.7M105.4 290.1h.7M123.7 278.6h.7M125.6 282.4h.7M119.0 261.8h.7M120.3 269.4h.7M119.0 261.6h.7M117.2 238.9h.7M117.2 238.0h.7M120.1 259.8h.7M107.7 265.4h.7M120.2 257.9h.7M106.0 261.8h.7M122.9 275.6h.7M109.2 303.3h.7M111.8 251.4h.7M119.7 259.7h.7M122.9 295.3h.7M124.8 288.6h.7M108.1 260.5h.7M127.2 286.6h.7M106.0 285.2h.7M107.2 295.4h.7M121.1 246.6h.7M118.6 245.0h.7M107.5 269.3h.7M110.6 297.8h.7M118.5 263.6h.7M119.1 242.7h.7M119.0 239.3h.7M119.0 261.7h.7M118.2 266.4h.7M106.0 261.4h.7M105.0 277.6h.7M104.4 291.1h.7M119.2 260.9h.7M119.8 269.9h.7M106.3 269.0h.7M106.2 263.1h.7M110.7 294.6h.7M118.3 265.0h.7M120.0 268.8h.7M125.5 279.9h.7M123.9 279.9h.7M123.5 297.4h.7M118.2 267.2h.7M114.8 238.5h.7M107.5 258.6h.7M109.4 254.6h.7M107.3 262.0h.7M120.7 248.1h.7M119.4 267.0h.7M109.4 256.0h.7M106.9 256.4h.7M109.5 256.2h.7M124.0 279.9h.7M108.4 253.9h.7M120.3 257.9h.7M107.4 260.6h.7M123.5 296.1h.7M124.2 288.9h.7M121.3 296.3h.7M106.1 274.3h.7M118.7 263.9h.7M103.7 285.1h.7M117.6 297.7h.7M110.7 295.3h.7M120.9 271.9h.7M102.2 289.2h.7M123.9 278.3h.7M105.7 275.4h.7M106.5 288.5h.7M110.9 297.8h.7M110.4 253.4h.7M107.9 257.3h.7M107.8 253.1h.7M125.7 294.6h.7M118.6 262.9h.7M123.7 274.6h.7M120.8 271.1h.7M123.8 296.3h.7M111.0 246.7h.7M120.5 257.2h.7M124.3 275.9h.7M119.6 260.1h.7M119.4 260.4h.7M118.7 264.0h.7M110.4 302.5h.7M116.1 241.6h.7M106.5 253.5h.7M124.8 293.6h.7M125.8 285.5h.7M125.2 281.1h.7M108.8 258.5h.7M126.0 296.2h.7M121.0 246.4h.7M107.7 266.6h.7M106.0 274.5h.7M106.8 264.3h.7M105.5 283.7h.7M125.2 287.8h.7M119.1 269.0h.7M118.2 266.9h.7M124.0 297.0h.7M105.2 285.0h.7M118.2 295.9h.7M121.3 273.0h.7M105.6 275.4h.7M109.8 253.2h.7M120.8 255.9h.7M120.2 243.3h.7M120.1 258.5h.7M109.2 258.3h.7M120.7 256.7h.7M121.4 251.0h.7M119.4 295.6h.7M108.0 254.9h.7M120.0 270.2h.7M103.1 289.4h.7M107.7 267.1h.7M122.0 252.0h.7M108.7 258.9h.7M122.0 271.7h.7M108.8 259.5h.7M114.8 246.7h.7M126.7 287.8h.7M118.5 264.1h.7M106.0 271.1h.7M125.6 289.7h.7M121.5 238.9h.7M108.8 253.9h.7M108.0 262.5h.7M119.3 260.9h.7M124.5 289.8h.7M105.1 271.7h.7M106.4 291.7h.7M121.1 253.0h.7M124.3 279.1h.7M118.3 298.0h.7M118.4 266.6h.7M118.3 265.5h.7M106.6 265.7h.7M107.5 269.6h.7M108.0 249.6h.7M119.6 245.4h.7M119.6 260.2h.7M122.6 292.5h.7M125.7 280.3h.7M121.5 297.9h.7M119.9 269.9h.7M118.5 265.3h.7M125.1 289.0h.7M121.2 272.1h.7M106.4 263.1h.7M104.6 281.7h.7M116.0 297.7h.7M111.9 298.0h.7M118.1 266.7h.7M119.6 295.5h.7M120.8 256.6h.7M107.8 290.4h.7M121.0 294.1h.7M118.1 296.8h.7M118.7 268.2h.7M126.2 285.1h.7M105.6 276.4h.7M109.9 249.8h.7M120.5 257.0h.7M120.5 270.1h.7M119.2 299.8h.7M122.7 275.3h.7M115.1 295.8h.7M124.4 297.8h.7M125.7 288.2h.7M122.9 276.2h.7M121.0 256.1h.7M125.1 288.5h.7M111.2 296.7h.7M124.0 279.7h.7M122.2 274.4h.7M121.5 295.2h.7M124.4 283.3h.7M104.8 278.1h.7M124.2 280.6h.7M122.1 293.7h.7M110.0 299.6h.7M123.6 278.6h.7M125.1 288.0h.7M117.4 299.4h.7M120.1 239.5h.7M107.1 262.1h.7M105.8 267.1h.7M107.8 254.6h.7M106.2 273.4h.7M109.1 256.3h.7M118.2 266.6h.7M104.5 275.3h.7M122.0 246.7h.7M121.6 251.9h.7M116.9 299.7h.7M105.0 278.4h.7M118.9 262.4h.7M127.4 284.0h.7M125.6 292.6h.7M106.9 273.1h.7M113.0 298.6h.7M125.1 289.4h.7M121.2 248.9h.7M119.7 242.8h.7M105.6 282.6h.7M109.8 297.6h.7M120.8 254.3h.7M105.9 291.5h.7M117.8 298.5h.7M123.8 279.9h.7M124.2 279.8h.7M121.5 301.6h.7M117.2 244.8h.7M105.5 276.3h.7M121.1 255.1h.7M124.7 279.1h.7M116.0 244.9h.7M106.6 287.2h.7M112.0 304.6h.7M115.6 295.9h.7M107.6 255.4h.7M105.6 284.8h.7M114.2 296.7h.7M120.0 258.6h.7M118.2 265.2h.7M117.6 300.0h.7M105.6 282.7h.7M111.4 249.3h.7M124.0 280.1h.7M104.2 283.0h.7M107.0 290.9h.7M121.0 251.5h.7M119.0 261.8h.7M115.7 243.6h.7M111.6 296.6h.7M119.4 238.8h.7M120.6 256.9h.7M106.5 267.8h.7M103.7 288.2h.7M121.2 271.7h.7M121.3 272.2h.7M119.8 270.0h.7M111.4 301.8h.7M115.8 244.6h.7M124.7 281.2h.7M121.6 250.7h.7M108.6 249.3h.7M120.2 258.0h.7M122.4 252.4h.7M104.7 274.5h.7M119.8 268.7h.7M111.0 248.5h.7M118.2 265.9h.7M123.4 294.5h.7M122.9 290.9h.7M119.2 268.1h.7M112.4 247.6h.7M124.5 287.9h.7M125.2 290.6h.7M121.6 248.4h.7M107.8 263.4h.7M110.6 298.7h.7M120.6 300.2h.7M112.5 248.6h.7M120.4 257.7h.7M122.1 296.7h.7M119.7 241.0h.7M124.7 279.2h.7M115.8 296.7h.7M118.2 242.5h.7M125.0 283.8h.7M110.1 297.4h.7M121.2 299.4h.7M107.7 267.6h.7M118.3 265.9h.7M109.3 255.2h.7M122.2 274.6h.7M120.8 307.6h.7M121.7 249.4h.7M105.2 283.6h.7M108.1 294.4h.7M120.2 244.8h.7M122.3 274.8h.7M108.8 295.9h.7M121.4 272.9h.7M107.1 289.9h.7M118.5 245.4h.7M109.9 295.6h.7M107.2 260.6h.7M124.4 280.4h.7M120.8 256.0h.7M107.3 289.5h.7M118.2 240.9h.7M125.3 290.4h.7M118.4 244.3h.7M124.4 279.0h.7M107.8 261.5h.7M124.2 278.8h.7M111.2 249.6h.7M116.1 301.5h.7M117.3 241.6h.7M103.8 282.9h.7M125.0 288.2h.7M105.5 274.2h.7M120.8 245.4h.7M118.0 245.5h.7M107.3 269.0h.7M121.1 255.6h.7M105.5 280.7h.7M122.2 246.2h.7M118.3 267.3h.7M106.0 260.0h.7M108.3 255.3h.7M122.1 243.9h.7M118.0 244.6h.7M107.3 266.1h.7M122.7 276.2h.7M108.3 294.3h.7M123.9 292.9h.7M106.0 274.2h.7M108.2 254.0h.7M117.2 245.3h.7M114.6 296.8h.7M122.6 296.8h.7M107.1 289.2h.7M107.5 262.0h.7M106.1 294.0h.7M118.6 263.6h.7M110.1 248.8h.7M123.8 295.7h.7M108.1 295.9h.7M105.0 273.9h.7M118.8 238.0h.7M123.3 293.4h.7M115.3 241.4h.7M121.9 248.2h.7M118.6 300.1h.7M121.4 249.2h.7M124.4 288.6h.7M113.2 249.0h.7M118.8 264.0h.7M118.3 296.3h.7M124.3 280.6h.7M121.4 247.8h.7M124.3 289.3h.7M120.3 271.4h.7M122.3 291.9h.7M111.6 251.1h.7M118.6 236.1h.7M107.0 266.2h.7M119.5 241.3h.7M124.7 285.4h.7M119.9 259.9h.7M119.6 268.8h.7M107.4 256.4h.7M116.1 246.1h.7M122.3 303.9h.7M105.2 261.8h.7M121.2 238.7h.7M119.6 260.0h.7M105.6 274.1h.7M121.0 250.8h.7M121.5 293.7h.7M104.4 279.0h.7M108.8 255.6h.7M126.9 281.4h.7M108.0 262.8h.7M125.7 285.3h.7M115.6 300.2h.7M104.6 285.6h.7M110.0 251.8h.7M120.8 242.1h.7M124.3 288.1h.7M117.6 243.1h.7M115.2 246.3h.7M118.3 265.3h.7M121.7 274.2h.7M121.1 250.3h.7M120.7 254.8h.7M114.6 246.1h.7M125.8 284.8h.7M120.0 259.4h.7M107.1 289.7h.7M121.0 255.5h.7M119.2 261.1h.7M118.8 262.7h.7M124.4 280.4h.7M109.9 295.9h.7M120.4 295.1h.7M117.9 236.4h.7M118.6 299.8h.7M105.9 279.1h.7M118.5 264.0h.7M126.1 284.6h.7M119.5 260.0h.7M107.1 260.1h.7M122.2 245.8h.7M123.5 277.9h.7M113.1 248.0h.7M122.1 274.0h.7M124.6 283.8h.7M120.0 258.8h.7M111.1 250.1h.7M104.8 285.0h.7M120.1 258.4h.7M120.0 298.1h.7M109.6 249.5h.7M125.7 294.3h.7M119.4 269.6h.7M122.5 247.0h.7M113.7 298.3h.7M110.8 249.9h.7M122.2 275.0h.7M125.5 286.5h.7M106.9 270.5h.7M124.1 295.4h.7M116.1 244.5h.7M113.3 297.7h.7M110.6 295.0h.7M118.8 262.9h.7M118.6 263.4h.7M117.8 297.6h.7M103.3 283.7h.7M124.8 295.8h.7M103.9 292.1h.7M106.0 277.6h.7M109.4 257.0h.7M121.9 293.5h.7M107.4 290.3h.7M113.7 240.6h.7M105.3 276.9h.7M115.0 241.9h.7M123.5 276.6h.7M118.2 266.4h.7M124.2 289.7h.7M122.4 299.3h.7M107.1 265.0h.7M124.2 278.2h.7M112.2 298.5h.7M118.9 262.1h.7M109.6 254.3h.7M127.8 285.4h.7M118.4 265.9h.7M107.8 265.3h.7M107.4 299.8h.7M126.6 286.9h.7M121.7 274.4h.7M116.8 243.9h.7M121.1 250.9h.7M119.9 259.0h.7M105.3 278.7h.7M119.1 262.4h.7M104.8 284.9h.7M106.5 287.1h.7M121.2 272.9h.7M126.8 283.9h.7M111.2 252.0h.7M105.3 280.0h.7M117.9 300.1h.7M106.3 265.1h.7M125.1 287.0h.7M105.5 278.2h.7M107.8 267.9h.7M125.1 290.3h.7M113.9 300.7h.7M110.4 296.3h.7M117.7 303.4h.7M112.3 297.6h.7M119.9 269.5h.7M120.0 241.7h.7M119.2 260.9h.7M120.6 271.3h.7M123.3 277.0h.7M105.4 285.6h.7M123.7 276.5h.7M121.0 256.6h.7M111.3 251.1h.7M124.9 282.2h.7M107.0 270.3h.7M105.4 281.7h.7M120.0 269.1h.7M120.1 270.5h.7M127.0 292.4h.7M119.4 244.1h.7M114.0 301.1h.7M106.3 272.5h.7M106.1 275.2h.7M108.4 293.7h.7M119.8 238.6h.7M112.3 296.7h.7M119.5 262.8h.7M121.1 250.8h.7M104.6 279.3h.7M108.7 299.5h.7M108.1 258.3h.7M114.3 297.2h.7M109.4 256.1h.7M106.9 265.2h.7M108.9 255.5h.7M125.2 283.2h.7M118.5 263.9h.7M115.5 243.3h.7M120.0 259.2h.7M106.0 287.2h.7M121.0 252.0h.7M107.8 264.8h.7M121.7 252.4h.7M116.1 243.2h.7M118.4 244.5h.7M107.3 270.6h.7M120.9 272.6h.7M118.2 266.5h.7M120.2 243.9h.7M110.2 247.7h.7M119.9 295.6h.7M114.2 247.9h.7M122.6 247.8h.7M105.8 278.7h.7M105.3 289.6h.7M115.5 246.2h.7M119.5 269.3h.7M107.7 266.8h.7M119.7 270.1h.7M118.0 266.9h.7M120.8 256.5h.7M122.2 296.3h.7M124.2 286.9h.7M105.8 298.9h.7M120.8 270.6h.7M107.1 265.0h.7M121.0 295.1h.7M121.1 249.8h.7M115.8 243.8h.7M125.6 279.5h.7M106.8 263.9h.7M104.2 272.0h.7M121.2 273.0h.7M123.6 276.5h.7M105.8 279.5h.7M122.3 297.8h.7M113.1 248.5h.7M116.9 240.2h.7M118.1 243.3h.7M118.2 295.6h.7M125.0 287.7h.7M125.6 292.7h.7M117.9 297.0h.7M123.2 276.1h.7M122.2 247.6h.7M111.8 244.5h.7M110.7 250.4h.7M119.8 259.3h.7M107.4 263.4h.7M126.7 290.0h.7M121.3 252.9h.7M121.9 293.2h.7M120.9 247.5h.7M108.3 291.4h.7M125.3 288.5h.7M108.4 260.9h.7M108.6 259.0h.7M123.8 277.5h.7M119.7 299.0h.7M108.9 256.9h.7M126.1 286.5h.7M118.3 264.5h.7" stroke="#222" stroke-width="0.7" fill="none" opacity="0.8"/>
<path d="M118.7 245.5C119.6 246.1 120.7 248.1 121.0 250.0C121.3 251.9 120.9 254.8 120.5 257.0C120.1 259.2 118.9 261.3 118.5 263.0C118.1 264.7 117.7 265.5 118.0 267.0C118.3 268.5 119.6 270.2 120.5 272.0C121.4 273.8 122.8 276.0 123.5 278.0C124.2 280.0 124.5 282.0 124.5 284.0C124.5 286.0 124.2 288.2 123.5 290.0C122.8 291.8 121.7 293.5 120.5 294.5C119.3 295.5 118.0 296.0 116.5 296.0C115.0 296.0 113.0 295.5 111.5 294.5C110.0 293.5 108.5 291.9 107.5 290.0C106.5 288.1 106.0 285.5 105.8 283.0C105.6 280.5 106.1 277.5 106.5 275.0C106.9 272.5 107.8 270.0 108.0 268.0C108.2 266.0 107.8 264.8 108.0 263.0C108.2 261.2 108.8 259.0 109.5 257.0C110.2 255.0 111.0 252.8 112.0 251.0C113.0 249.2 114.4 247.4 115.5 246.5C116.6 245.6 117.8 244.9 118.7 245.5Z" fill="#e6e6e6" fill-opacity="0.9" stroke="#222" stroke-width="1.3"/>
<path d="M122.3 282.6C122.3 283.8 122.2 285.0 121.9 286.2C121.7 287.4 121.3 288.8 120.7 289.7C120.1 290.6 119.2 291.2 118.5 291.7C117.8 292.2 117.2 292.8 116.4 292.9C115.5 292.9 114.3 292.6 113.5 292.2C112.6 291.8 112.0 291.1 111.3 290.4C110.5 289.6 109.5 288.6 109.0 287.6C108.5 286.6 108.5 285.3 108.4 284.2C108.3 283.0 108.2 281.8 108.4 280.7C108.6 279.6 109.2 278.6 109.7 277.6C110.3 276.7 111.1 275.4 111.8 274.8C112.6 274.3 113.3 274.1 114.2 274.1C115.2 274.1 116.4 274.2 117.4 274.7C118.3 275.1 119.2 275.9 119.9 276.7C120.6 277.5 121.3 278.5 121.7 279.5C122.0 280.4 122.2 281.5 122.3 282.6Z" fill="#ddd" fill-opacity="0.6" stroke="#555" stroke-width="0.7"/>
<path d="M120.9 283.5C120.9 284.2 120.3 284.9 120.1 285.5C119.8 286.2 119.6 286.8 119.4 287.4C119.2 288.0 119.1 288.7 118.6 289.1C118.1 289.6 117.0 290.0 116.3 290.0C115.7 290.0 115.2 289.6 114.7 289.2C114.2 288.9 113.8 288.4 113.4 288.0C113.1 287.6 112.8 287.4 112.5 286.7C112.1 286.1 111.4 284.9 111.2 284.2C111.0 283.4 111.2 282.9 111.3 282.1C111.5 281.4 111.9 280.4 112.3 279.8C112.8 279.2 113.5 278.9 114.1 278.5C114.6 278.1 115.0 277.5 115.5 277.4C116.0 277.2 116.6 277.3 117.2 277.6C117.7 277.9 118.1 278.8 118.6 279.4C119.1 280.0 119.7 280.3 120.1 281.0C120.5 281.7 120.9 282.7 120.9 283.5Z" fill="none" stroke="#333" stroke-width="0.9"/>
<path d="M119.3 284.4C119.3 284.7 119.1 285.1 119.0 285.5C118.9 285.9 118.8 286.2 118.6 286.5C118.4 286.9 118.2 287.3 118.0 287.5C117.8 287.7 117.7 287.8 117.4 287.9C117.1 287.9 116.5 287.9 116.2 287.7C115.9 287.5 115.8 287.0 115.6 286.7C115.4 286.3 115.2 286.0 115.1 285.7C114.9 285.4 114.7 285.0 114.7 284.7C114.6 284.4 114.7 284.1 114.8 283.8C114.9 283.4 115.2 283.2 115.4 282.8C115.5 282.4 115.5 281.7 115.7 281.5C115.9 281.4 116.1 281.8 116.4 281.8C116.6 281.8 117.1 281.4 117.4 281.5C117.7 281.6 117.8 281.9 118.1 282.2C118.3 282.5 118.6 283.0 118.8 283.4C119.0 283.7 119.2 284.0 119.3 284.4Z" fill="#fff" fill-opacity="0.7" stroke="#666" stroke-width="0.6"/>
<path d="M118.3 256.3C118.1 257.4 118.0 258.4 117.6 259.3C117.1 260.1 116.2 261.0 115.6 261.5C115.0 262.0 114.4 262.2 113.9 262.2C113.4 262.3 112.9 262.3 112.6 262.0C112.2 261.7 111.9 261.0 111.7 260.3C111.4 259.6 110.9 258.7 110.9 257.7C110.9 256.8 111.2 255.4 111.5 254.4C111.8 253.4 112.2 252.5 112.6 251.8C113.1 251.0 113.8 250.2 114.4 249.7C114.9 249.2 115.5 248.8 116.0 248.7C116.4 248.6 116.8 248.7 117.2 249.0C117.7 249.3 118.6 249.8 118.8 250.5C119.1 251.2 118.8 252.1 118.7 253.1C118.6 254.0 118.5 255.3 118.3 256.3Z" fill="#ddd" fill-opacity="0.5" stroke="#555" stroke-width="0.7"/>
<path d="M116.7 255.9C116.6 256.4 116.4 256.9 116.2 257.4C116.0 257.9 115.9 258.6 115.6 258.9C115.2 259.2 114.7 259.3 114.4 259.3C114.0 259.3 113.9 259.2 113.7 259.0C113.5 258.8 113.2 258.5 113.1 258.1C113.0 257.7 113.1 257.4 113.1 256.9C113.1 256.4 113.0 255.6 113.1 255.0C113.2 254.4 113.3 253.9 113.6 253.4C113.8 253.0 114.1 252.5 114.5 252.2C114.8 251.9 115.3 251.8 115.6 251.8C115.9 251.7 116.0 251.6 116.2 251.9C116.4 252.1 116.7 252.6 116.9 253.0C117.1 253.4 117.2 253.9 117.2 254.4C117.2 254.9 116.9 255.4 116.7 255.9Z" fill="#eee" fill-opacity="0.6" stroke="#777" stroke-width="0.6"/>
<path d="M118.6 244.0h.7M117.9 243.8h.7M117.8 244.2h.7M120.3 245.1h.7M117.3 241.8h.7M119.3 244.5h.7M117.2 244.8h.7M117.5 243.8h.7M120.3 244.4h.7M118.6 243.6h.7M119.3 245.9h.7M117.0 244.4h.7M121.4 244.7h.7M117.5 244.5h.7M120.2 242.9h.7M121.8 244.3h.7M119.7 245.6h.7M119.2 243.7h.7M119.5 244.4h.7M115.3 243.4h.7M119.1 244.5h.7M118.3 243.7h.7M115.4 246.1h.7M119.2 245.8h.7M118.6 247.4h.7M119.3 246.5h.7M116.9 248.8h.7M120.4 245.2h.7M119.1 244.7h.7M119.4 243.5h.7M117.4 243.7h.7M117.7 245.3h.7M117.7 246.1h.7M118.3 246.1h.7M115.8 245.6h.7M120.0 246.2h.7M119.9 246.4h.7M118.8 246.8h.7M118.7 246.4h.7M116.9 246.2h.7" stroke="#222" stroke-width="0.7" fill="none" opacity="0.8"/>
<path d="M116.3 283.0h.7M110.9 276.6h.7M110.2 278.6h.7M123.0 285.9h.7M119.9 285.6h.7M109.4 289.4h.7M113.7 273.6h.7M108.0 279.2h.7M113.1 289.8h.7M111.1 281.2h.7M119.3 290.7h.7M110.8 291.7h.7M114.9 282.5h.7M118.0 286.5h.7M113.7 287.9h.7M113.5 278.9h.7M110.9 286.8h.7M120.7 283.4h.7M122.9 286.7h.7M116.9 283.1h.7M119.5 277.0h.7M120.8 279.2h.7M110.3 276.4h.7M117.8 284.3h.7M116.0 284.4h.7M115.4 285.7h.7M118.9 287.7h.7M116.3 285.8h.7M122.7 280.8h.7M117.2 281.6h.7M108.8 277.8h.7M110.0 286.4h.7M121.0 276.5h.7M111.6 280.8h.7M114.7 274.1h.7M114.1 290.7h.7M114.0 278.6h.7M110.8 288.8h.7M110.2 291.2h.7M113.5 290.7h.7M115.9 281.7h.7M113.6 287.6h.7M107.7 280.4h.7M109.2 289.9h.7M119.4 292.6h.7M113.3 289.1h.7M114.4 293.7h.7M115.7 286.1h.7M121.2 284.6h.7M111.6 279.5h.7M112.1 276.9h.7M117.7 277.9h.7M115.8 275.6h.7M121.9 282.9h.7M120.0 280.6h.7M113.8 279.9h.7M117.1 291.7h.7M114.1 293.4h.7M121.4 289.2h.7M122.3 278.3h.7M114.6 292.2h.7M110.8 276.7h.7M113.1 285.3h.7M110.3 287.9h.7M119.0 288.2h.7M118.4 283.3h.7M117.8 278.8h.7M113.4 281.0h.7M119.3 276.2h.7M114.2 289.8h.7M111.8 289.9h.7M110.0 278.5h.7M122.2 283.9h.7M120.2 283.1h.7M113.5 291.2h.7M117.0 276.6h.7M112.5 287.2h.7M117.3 277.8h.7M121.4 281.8h.7M115.5 289.8h.7M122.7 281.7h.7M116.5 283.0h.7M115.0 293.9h.7M113.5 291.2h.7M112.9 291.5h.7M108.6 287.3h.7M114.5 276.4h.7M113.7 284.0h.7M112.9 276.9h.7M117.4 283.7h.7" stroke="#444" stroke-width="0.7" fill="none" opacity="0.55"/>
<path d="M115.3 261.1h.7M111.8 256.0h.7M116.4 254.6h.7M116.0 260.8h.7M112.1 260.1h.7M117.5 252.4h.7M113.8 249.5h.7M117.0 258.6h.7M114.3 257.6h.7M114.4 259.1h.7M113.8 252.4h.7M112.9 262.4h.7M111.1 255.6h.7M113.0 251.8h.7M115.7 252.7h.7M117.0 252.8h.7M117.8 258.2h.7M117.4 259.7h.7M112.7 251.0h.7M114.9 255.2h.7M118.4 256.1h.7M111.4 253.5h.7M114.0 257.5h.7M115.7 256.1h.7M116.6 262.3h.7M111.6 252.9h.7M117.3 252.5h.7M116.1 258.8h.7M113.8 254.2h.7M112.2 255.3h.7M116.1 256.4h.7M117.7 254.2h.7M112.4 257.1h.7M116.0 249.9h.7M113.8 250.4h.7M116.2 259.1h.7M114.9 257.4h.7M112.4 250.6h.7M116.0 255.4h.7M116.1 261.9h.7" stroke="#444" stroke-width="0.7" fill="none" opacity="0.55"/>
<path d="M203.4 243.6C204.5 243.5 206.3 243.8 206.9 245.6C207.6 247.4 207.8 251.3 207.6 254.2C207.4 257.0 205.8 260.5 205.5 262.6C205.3 264.8 205.1 264.9 206.2 266.8C207.2 268.8 210.4 271.4 211.9 274.2C213.4 277.0 214.6 280.6 215.0 283.8C215.3 286.9 215.1 290.8 214.0 293.2C212.9 295.7 210.7 297.8 208.6 298.6C206.5 299.4 203.7 298.9 201.2 298.2C198.8 297.5 195.8 296.4 193.9 294.3C191.9 292.3 190.0 288.7 189.7 285.9C189.3 283.0 190.8 280.2 191.8 277.4C192.8 274.6 194.8 271.7 195.6 268.9C196.4 266.1 196.1 263.3 196.4 260.4C196.7 257.6 197.0 254.4 197.6 252.0C198.2 249.6 199.3 247.5 200.2 246.2C201.2 244.8 202.3 243.7 203.4 243.6Z" fill="#888" opacity="0.3" filter="url(#b1)"/>
<path d="M191.3 290.4h.7M205.7 262.2h.7M196.4 262.1h.7M214.6 288.3h.7M188.5 285.5h.7M191.0 286.9h.7M210.3 297.4h.7M209.2 270.9h.7M197.7 254.5h.7M190.2 284.0h.7M193.1 274.2h.7M199.1 250.5h.7M210.0 299.9h.7M204.8 304.9h.7M197.2 255.6h.7M200.9 245.7h.7M206.6 264.4h.7M191.1 277.5h.7M207.7 269.2h.7M213.7 281.2h.7M211.7 293.8h.7M191.6 278.9h.7M200.0 295.5h.7M200.3 297.1h.7M191.1 275.6h.7M212.6 273.9h.7M212.1 274.5h.7M190.3 279.0h.7M205.6 246.4h.7M192.9 274.5h.7M206.3 261.9h.7M211.3 300.6h.7M207.4 248.2h.7M200.0 298.0h.7M208.2 246.7h.7M212.6 300.8h.7M200.9 242.0h.7M191.6 278.0h.7M205.8 266.5h.7M207.7 252.4h.7M207.2 255.3h.7M193.4 291.5h.7M190.0 280.4h.7M195.4 268.8h.7M214.9 300.1h.7M195.3 264.4h.7M191.7 287.3h.7M196.0 252.8h.7M218.0 292.1h.7M208.5 270.5h.7M214.9 284.1h.7M208.3 303.4h.7M215.4 283.9h.7M209.2 300.0h.7M213.0 277.6h.7M200.3 296.8h.7M199.6 250.0h.7M202.5 243.7h.7M211.4 273.7h.7M209.7 271.1h.7M212.1 294.8h.7M215.1 281.5h.7M210.9 271.1h.7M214.5 284.5h.7M201.2 297.0h.7M206.0 296.2h.7M205.9 265.7h.7M192.7 289.3h.7M190.8 282.9h.7M197.9 253.5h.7M197.8 251.5h.7M209.8 307.7h.7M199.8 241.6h.7M194.4 292.7h.7M207.0 257.6h.7M204.1 303.0h.7M208.3 252.4h.7M207.6 269.1h.7M218.0 286.2h.7M211.8 275.1h.7M196.0 294.3h.7M190.4 283.1h.7M187.9 286.9h.7M207.1 300.0h.7M207.2 245.9h.7M193.6 269.2h.7M214.5 288.5h.7M197.3 293.7h.7M206.9 256.7h.7M192.2 276.6h.7M207.6 252.5h.7M190.6 284.8h.7M201.6 246.2h.7M202.6 240.5h.7M191.0 300.5h.7M213.8 282.1h.7M215.2 279.0h.7M191.8 280.3h.7M197.9 251.7h.7M212.4 274.1h.7M206.4 259.6h.7M197.1 295.9h.7M195.6 259.3h.7M195.3 293.4h.7M203.1 243.6h.7M197.6 255.9h.7M210.4 271.7h.7M195.5 265.5h.7M210.7 295.6h.7M214.3 283.0h.7M216.3 291.5h.7M204.0 301.3h.7M213.3 287.3h.7M196.2 257.3h.7M206.3 265.2h.7M196.0 263.0h.7M196.0 258.1h.7M205.6 265.9h.7M200.6 246.3h.7M215.5 284.0h.7M213.5 287.8h.7M207.2 249.2h.7M207.8 246.0h.7M213.6 287.0h.7M206.8 264.3h.7M215.2 290.1h.7M191.1 283.4h.7M206.6 243.8h.7M206.1 262.8h.7M192.0 279.2h.7M207.5 252.6h.7M190.2 288.0h.7M205.6 262.7h.7M190.4 283.9h.7M196.0 259.3h.7M204.9 246.7h.7M205.9 261.1h.7M194.1 297.0h.7M194.9 270.3h.7M201.6 297.5h.7M203.7 241.0h.7M200.1 249.0h.7M207.4 244.3h.7M194.6 270.1h.7M214.3 281.0h.7M200.6 247.4h.7M192.3 288.8h.7M207.0 247.7h.7M191.2 279.7h.7M189.6 283.9h.7M192.2 288.1h.7M197.7 254.2h.7M206.9 252.7h.7M192.9 275.1h.7M203.5 242.6h.7M212.6 274.3h.7M207.4 254.1h.7M213.6 290.1h.7M205.6 264.4h.7M211.6 271.8h.7M194.2 294.3h.7M212.5 295.9h.7M193.3 274.5h.7M198.5 245.9h.7M209.6 297.6h.7M213.8 282.8h.7M196.2 255.1h.7M214.6 280.4h.7M207.9 269.0h.7M192.3 296.9h.7M214.4 289.2h.7M192.2 277.3h.7M191.7 277.7h.7M206.4 259.7h.7M190.9 285.7h.7M206.2 244.3h.7M206.7 297.4h.7M197.1 259.9h.7M195.1 294.2h.7M207.5 254.0h.7M207.1 245.6h.7M188.5 291.7h.7M204.6 237.7h.7M190.2 286.3h.7M213.8 285.8h.7M198.9 251.0h.7M192.3 294.8h.7M206.8 257.9h.7M189.8 288.8h.7M197.8 254.5h.7M208.3 236.4h.7M207.7 247.0h.7M193.0 293.4h.7M202.6 246.4h.7M206.9 257.2h.7M210.1 271.7h.7M191.8 294.9h.7M199.4 244.9h.7M195.6 299.1h.7M205.9 298.1h.7M203.1 245.9h.7M198.2 252.9h.7M189.8 284.8h.7M205.7 261.9h.7M206.9 267.7h.7M212.0 276.4h.7M189.4 280.9h.7M214.6 279.9h.7M192.1 278.8h.7M196.8 243.1h.7M191.6 278.2h.7M203.8 244.4h.7M203.7 243.5h.7M189.4 285.8h.7M191.2 274.4h.7M215.0 295.4h.7M204.4 243.7h.7M214.1 286.2h.7M195.7 262.9h.7M218.8 301.4h.7M215.2 279.8h.7M211.1 272.9h.7M200.2 303.8h.7M212.2 292.3h.7M195.7 256.4h.7M189.8 285.4h.7M195.3 255.7h.7M194.4 302.6h.7M205.6 263.4h.7M200.2 296.4h.7M189.6 285.4h.7M207.3 256.0h.7M195.5 270.0h.7M212.0 292.4h.7M203.6 243.0h.7M196.7 263.8h.7M203.5 245.0h.7M205.4 263.6h.7M200.3 248.4h.7M209.6 294.7h.7M212.9 271.3h.7M201.3 243.9h.7M199.6 239.2h.7M210.9 299.8h.7M203.5 299.2h.7M206.7 249.2h.7M207.5 247.9h.7M204.5 245.3h.7M207.9 249.1h.7M196.6 261.0h.7M205.6 297.9h.7M208.8 269.5h.7M195.0 269.9h.7M204.8 237.7h.7M203.1 246.2h.7M194.8 268.6h.7M215.5 291.8h.7M207.7 252.9h.7M207.9 246.0h.7M197.1 255.9h.7M191.3 291.7h.7M199.0 249.2h.7M191.8 275.7h.7M192.3 274.6h.7M207.4 255.7h.7M194.0 292.5h.7M208.5 296.1h.7M199.8 246.2h.7M190.5 281.6h.7M206.2 267.7h.7M201.4 246.9h.7M190.2 283.9h.7M212.0 275.5h.7M207.1 248.5h.7M192.0 278.4h.7M210.1 272.0h.7M191.3 276.9h.7M201.1 241.8h.7M206.8 257.2h.7M206.1 264.0h.7M199.5 247.8h.7M206.1 242.8h.7M190.4 282.0h.7M201.3 242.7h.7M193.5 275.0h.7M207.6 296.2h.7M215.6 278.4h.7M206.9 298.7h.7M195.9 258.3h.7M216.7 286.9h.7M197.0 294.4h.7M197.1 258.1h.7M207.2 252.6h.7M206.3 300.2h.7M194.6 270.1h.7M189.0 286.3h.7M216.6 289.1h.7M193.1 274.1h.7M195.2 263.8h.7M203.9 242.0h.7M197.7 253.3h.7M197.8 249.5h.7M207.2 256.5h.7M205.5 247.1h.7M216.4 289.8h.7M191.0 287.3h.7M197.0 260.4h.7M203.7 244.6h.7M205.6 261.9h.7M215.3 292.0h.7M199.5 242.9h.7M211.8 274.2h.7M207.5 253.1h.7M203.4 243.0h.7M214.0 282.8h.7M191.9 291.7h.7M196.8 297.8h.7M206.7 250.1h.7M209.4 298.2h.7M207.2 303.9h.7M206.7 266.9h.7M197.5 255.8h.7M207.9 269.7h.7M207.5 251.7h.7M205.6 242.4h.7M193.5 294.5h.7M209.5 296.9h.7M196.1 254.7h.7M197.0 259.5h.7M205.6 262.8h.7M205.7 261.8h.7M212.4 278.3h.7M195.3 295.1h.7M213.6 287.5h.7M196.5 259.7h.7M194.0 265.6h.7M203.5 300.0h.7M207.4 254.1h.7M206.3 267.2h.7M209.4 298.5h.7M191.6 287.3h.7M206.4 299.6h.7M215.4 285.8h.7M193.4 268.2h.7M192.5 290.7h.7M207.2 255.9h.7M211.4 272.2h.7M205.6 262.7h.7M185.4 289.7h.7M201.9 240.6h.7M196.8 300.8h.7M206.9 256.8h.7M202.2 300.1h.7M207.3 255.5h.7M197.8 247.2h.7M211.8 298.8h.7M200.7 304.5h.7M188.3 286.1h.7M210.3 271.7h.7M197.2 257.1h.7M190.4 288.5h.7M194.2 298.8h.7M195.5 257.5h.7M193.6 273.5h.7M207.2 244.5h.7M208.5 269.9h.7M190.5 284.5h.7M188.1 286.5h.7M207.3 255.7h.7M197.8 246.3h.7M207.7 297.7h.7M198.4 251.2h.7M205.4 264.7h.7M207.9 247.4h.7M192.2 277.5h.7M212.4 273.7h.7M201.0 246.3h.7M207.0 250.9h.7M213.6 289.3h.7M212.5 273.2h.7M204.8 245.5h.7M205.4 263.3h.7M216.5 287.9h.7M207.9 251.4h.7M206.2 259.8h.7M213.3 281.1h.7M194.2 291.9h.7M213.1 274.6h.7M195.2 260.5h.7M210.1 272.2h.7M211.9 275.5h.7M213.8 292.1h.7M191.8 287.0h.7M198.1 253.5h.7M202.8 240.5h.7M207.5 255.0h.7M207.1 254.3h.7M191.2 280.7h.7M199.6 250.2h.7M194.6 294.6h.7M197.5 253.8h.7M195.2 265.0h.7M201.1 242.8h.7M205.4 263.3h.7M203.0 297.7h.7M197.0 255.6h.7M198.5 243.6h.7M207.4 247.9h.7M194.4 270.6h.7M191.1 274.4h.7M207.3 255.4h.7M195.3 260.7h.7M205.0 238.1h.7M198.2 246.3h.7M198.0 295.6h.7M190.5 282.6h.7M197.5 256.4h.7M207.1 297.9h.7M196.8 256.6h.7M213.5 289.1h.7M207.4 248.0h.7M189.8 286.3h.7M189.0 285.5h.7M191.7 275.2h.7M185.2 291.7h.7M213.3 290.5h.7M215.6 279.3h.7M205.8 267.0h.7M196.8 254.8h.7M206.7 266.1h.7M202.4 242.1h.7M203.9 301.2h.7M206.4 258.9h.7M198.5 297.2h.7M195.8 269.6h.7M199.0 250.0h.7M203.7 242.8h.7M192.5 273.8h.7M203.0 245.5h.7M208.5 250.6h.7M197.0 246.4h.7M207.3 268.2h.7M200.2 243.1h.7M204.1 300.3h.7M213.1 296.4h.7M196.4 263.8h.7M193.2 273.3h.7M205.9 296.7h.7M199.9 248.4h.7M207.6 268.1h.7M206.6 249.1h.7M194.5 294.8h.7M194.6 293.0h.7M213.4 277.1h.7M198.2 251.2h.7M206.2 265.1h.7M188.0 284.8h.7M208.8 303.3h.7M197.1 256.4h.7M194.0 293.1h.7M203.1 301.2h.7M196.5 263.0h.7M205.5 296.9h.7M194.5 296.4h.7M205.4 264.4h.7M198.8 295.7h.7M191.3 282.6h.7M205.9 266.0h.7M196.3 261.9h.7M217.0 282.6h.7M206.9 264.6h.7M190.8 293.6h.7M199.8 248.1h.7M209.2 270.8h.7M201.5 244.4h.7M214.2 286.5h.7M205.4 262.8h.7M210.1 294.3h.7M193.1 275.4h.7M208.0 267.2h.7M213.0 300.3h.7M194.4 269.7h.7M210.0 271.6h.7M203.4 298.8h.7M201.2 247.2h.7M205.8 264.0h.7M206.5 258.3h.7M193.2 291.8h.7M197.2 255.3h.7M207.6 253.9h.7M206.7 247.4h.7M212.2 294.3h.7M189.6 286.5h.7M213.8 285.4h.7M204.3 242.8h.7M206.1 302.8h.7M205.3 263.1h.7M205.7 264.5h.7M203.4 240.7h.7M207.7 251.8h.7M192.1 287.3h.7M209.6 269.7h.7M196.8 259.3h.7M212.3 276.7h.7M214.0 283.6h.7M213.3 289.8h.7M214.1 290.9h.7M194.7 299.1h.7M206.4 246.7h.7M207.6 254.8h.7M195.1 268.6h.7M204.7 301.1h.7M213.3 279.4h.7M205.7 262.4h.7M213.3 280.3h.7M197.7 255.2h.7M192.8 294.8h.7M198.5 246.0h.7M205.6 262.3h.7M211.8 273.2h.7M202.0 244.2h.7M203.6 296.1h.7M218.3 296.6h.7M195.9 261.8h.7M192.0 276.2h.7M206.3 266.9h.7M213.6 289.6h.7M206.3 259.3h.7M208.2 241.8h.7M191.8 292.7h.7M197.1 256.7h.7M212.8 294.2h.7M189.6 283.4h.7M212.0 273.9h.7M196.4 255.0h.7M197.2 253.5h.7M207.6 252.6h.7M211.0 299.9h.7M199.4 248.0h.7M199.4 250.3h.7M206.2 260.0h.7M205.4 238.1h.7M209.8 294.5h.7M205.9 266.7h.7M213.7 290.5h.7M208.4 296.2h.7M210.6 300.1h.7M196.0 266.9h.7M210.9 269.8h.7M205.5 263.8h.7M200.8 246.2h.7M195.9 269.8h.7M203.9 239.9h.7M206.3 259.1h.7M206.2 259.9h.7M196.4 255.7h.7M205.2 246.5h.7M202.8 243.9h.7M196.8 259.0h.7M195.5 258.8h.7" stroke="#333" stroke-width="0.7" fill="none" opacity="0.75"/>
<path d="M203.3 246.2C204.3 246.1 205.9 246.4 206.5 248.0C207.1 249.6 207.3 253.2 207.1 255.8C206.9 258.4 205.4 261.6 205.2 263.5C205.0 265.4 204.8 265.6 205.8 267.3C206.8 269.1 209.7 271.4 211.0 274.0C212.3 276.6 213.5 279.8 213.8 282.7C214.1 285.6 213.9 289.1 212.9 291.3C211.9 293.6 209.9 295.4 208.0 296.2C206.1 296.9 203.5 296.4 201.3 295.8C199.1 295.2 196.3 294.2 194.6 292.3C192.8 290.4 191.1 287.2 190.8 284.6C190.5 282.0 191.8 279.5 192.7 276.9C193.6 274.3 195.5 271.8 196.2 269.2C196.9 266.6 196.6 264.1 196.9 261.5C197.2 258.9 197.4 256.0 198.0 253.8C198.6 251.6 199.5 249.8 200.4 248.5C201.3 247.2 202.3 246.3 203.3 246.2Z" fill="#ececec" fill-opacity="0.9" stroke="#333" stroke-width="1.1"/>
<path d="M202.8 260.3C203.4 260.3 204.4 260.7 204.7 261.7C205.0 262.7 204.9 264.5 204.8 266.1C204.7 267.7 204.3 270.0 204.1 271.2C204.0 272.3 203.5 272.1 204.0 273.0C204.6 274.0 206.4 275.5 207.3 277.1C208.1 278.6 208.9 280.7 209.1 282.5C209.3 284.2 209.1 286.1 208.4 287.4C207.8 288.7 206.5 289.7 205.3 290.2C204.2 290.8 203.0 290.8 201.7 290.4C200.4 290.1 198.4 289.2 197.4 288.1C196.4 287.0 195.7 285.4 195.6 283.8C195.4 282.3 195.9 280.3 196.5 278.8C197.0 277.2 198.3 276.0 198.7 274.5C199.0 272.9 198.6 271.0 198.7 269.4C198.8 267.9 198.9 266.5 199.3 265.2C199.7 263.9 200.6 262.5 201.1 261.7C201.7 260.9 202.3 260.3 202.8 260.3Z" fill="#e4e4e4" fill-opacity="0.5" stroke="#999" stroke-width="0.5"/>
<rect x="205.5" y="273" width="4" height="20" fill="#555" opacity="0.55" filter="url(#b1)"/>
<path d="M207 274 L208 292 M209.3 277 L209.8 290" stroke="#555" stroke-width="0.5" fill="none"/>
<path d="M208.8 277.8h.7M208.7 285.9h.7M200.8 288.4h.7M207.3 290.3h.7M202.9 281.5h.7M199.3 286.0h.7M206.6 292.1h.7M198.5 276.7h.7M196.4 276.3h.7M202.0 276.7h.7M202.3 281.8h.7M196.9 281.5h.7M196.8 281.2h.7M202.2 282.6h.7M202.6 277.7h.7M200.6 285.6h.7M202.9 284.8h.7M205.5 277.2h.7M200.8 285.4h.7M206.4 288.2h.7M202.5 285.5h.7M199.7 278.3h.7M209.5 277.7h.7M194.1 281.9h.7M197.1 276.5h.7M203.6 292.4h.7M207.7 276.9h.7M199.2 284.6h.7M208.7 280.2h.7M199.2 280.0h.7M206.5 281.1h.7M197.9 287.1h.7M204.6 282.2h.7M206.8 276.4h.7M196.6 277.0h.7M201.8 278.9h.7M204.1 284.2h.7M200.1 284.9h.7M201.2 275.0h.7M204.2 284.3h.7M194.8 279.7h.7M198.2 276.7h.7M208.2 275.7h.7M193.9 286.2h.7M201.8 289.9h.7M200.8 278.7h.7M210.4 282.3h.7M205.9 277.3h.7M200.2 287.5h.7M195.9 289.3h.7M205.2 286.1h.7M198.9 288.1h.7M196.1 275.9h.7M204.4 284.5h.7M203.5 274.2h.7M200.2 288.2h.7M208.0 285.2h.7M203.1 280.8h.7M201.9 286.3h.7M200.1 281.6h.7M200.7 288.5h.7M209.9 278.5h.7M197.9 289.4h.7M204.4 289.0h.7M201.6 276.3h.7M205.7 290.7h.7M208.0 275.5h.7M206.0 291.3h.7M203.4 282.2h.7M197.0 274.7h.7M202.7 272.9h.7M202.5 293.4h.7M201.9 284.0h.7M206.5 287.0h.7M198.7 287.3h.7M195.8 284.3h.7M207.2 288.2h.7M196.3 283.3h.7M193.4 284.0h.7M207.0 279.1h.7M205.6 284.8h.7M201.4 290.3h.7M202.4 289.4h.7M208.0 285.8h.7M197.8 283.5h.7M195.1 275.9h.7M207.0 280.1h.7M207.5 285.7h.7M208.1 285.7h.7M196.9 282.6h.7" stroke="#555" stroke-width="0.7" fill="none" opacity="0.5"/>
<path d="M203.9 260.3h.7M198.7 258.5h.7M202.3 254.2h.7M203.0 251.0h.7M203.5 259.4h.7M202.2 255.0h.7M201.3 251.7h.7M201.9 262.7h.7M199.8 251.8h.7M204.3 253.3h.7M201.8 255.7h.7M200.2 251.4h.7M201.3 254.4h.7M200.6 260.7h.7M203.5 254.0h.7M205.1 258.9h.7M200.4 251.6h.7M201.9 256.0h.7M199.1 258.8h.7M198.9 259.3h.7M201.2 264.7h.7M203.0 253.3h.7M201.4 260.3h.7M202.5 257.5h.7M203.1 261.1h.7M201.1 257.2h.7M199.7 262.3h.7M201.9 250.4h.7M202.8 264.4h.7M202.8 262.1h.7" stroke="#555" stroke-width="0.7" fill="none" opacity="0.5"/>
<rect x="101.3" y="239.8" width="26.4" height="27.5" fill="none" stroke="#000" stroke-width="1.5"/>
<rect x="187.3" y="239.8" width="26.9" height="27.5" fill="none" stroke="#000" stroke-width="1.5"/>
<text x="99" y="257.2" text-anchor="end" font-size="14" style="stroke-width:0.5px">19</text>
<text x="185.2" y="257.2" text-anchor="end" font-size="14" style="stroke-width:0.5px">11</text>
<text x="54.7" y="321.8" text-anchor="start" font-size="14.8">CD8</text>
<line x1="89.5" y1="316.6" x2="205" y2="316.6" stroke="#000" stroke-width="2"/>
<polygon points="203,309.5 216.5,316.6 203,323.7" fill="#000"/>
<rect x="51.7" y="364.2" width="82.10000000000001" height="80.80000000000001" fill="none" stroke="#000" stroke-width="1.9"/>
<line x1="48.5" y1="372.0376" x2="51.7" y2="372.0376" stroke="#333" stroke-width="0.9"/>
<line x1="48.5" y1="390.78319999999997" x2="51.7" y2="390.78319999999997" stroke="#333" stroke-width="0.9"/>
<line x1="48.5" y1="413.0032" x2="51.7" y2="413.0032" stroke="#333" stroke-width="0.9"/>
<line x1="48.5" y1="442.3336" x2="51.7" y2="442.3336" stroke="#333" stroke-width="0.9"/>
<line x1="49.5" y1="377.128" x2="51.7" y2="377.128" stroke="#666" stroke-width="0.5"/>
<line x1="49.5" y1="381.168" x2="51.7" y2="381.168" stroke="#666" stroke-width="0.5"/>
<line x1="49.5" y1="384.4" x2="51.7" y2="384.4" stroke="#666" stroke-width="0.5"/>
<line x1="49.5" y1="386.824" x2="51.7" y2="386.824" stroke="#666" stroke-width="0.5"/>
<line x1="49.5" y1="396.52" x2="51.7" y2="396.52" stroke="#666" stroke-width="0.5"/>
<line x1="49.5" y1="401.368" x2="51.7" y2="401.368" stroke="#666" stroke-width="0.5"/>
<line x1="49.5" y1="405.408" x2="51.7" y2="405.408" stroke="#666" stroke-width="0.5"/>
<line x1="49.5" y1="408.64" x2="51.7" y2="408.64" stroke="#666" stroke-width="0.5"/>
<line x1="49.5" y1="417.528" x2="51.7" y2="417.528" stroke="#666" stroke-width="0.5"/>
<line x1="49.5" y1="420.76" x2="51.7" y2="420.76" stroke="#666" stroke-width="0.5"/>
<line x1="49.5" y1="423.992" x2="51.7" y2="423.992" stroke="#666" stroke-width="0.5"/>
<line x1="49.5" y1="431.264" x2="51.7" y2="431.264" stroke="#666" stroke-width="0.5"/>
<line x1="49.5" y1="433.688" x2="51.7" y2="433.688" stroke="#666" stroke-width="0.5"/>
<line x1="49.5" y1="436.11199999999997" x2="51.7" y2="436.11199999999997" stroke="#666" stroke-width="0.5"/>
<line x1="49.5" y1="438.536" x2="51.7" y2="438.536" stroke="#666" stroke-width="0.5"/>
<line x1="54.984" y1="445" x2="54.984" y2="448.2" stroke="#333" stroke-width="0.9"/>
<line x1="82.89800000000001" y1="445" x2="82.89800000000001" y2="448.2" stroke="#333" stroke-width="0.9"/>
<line x1="97.67600000000002" y1="445" x2="97.67600000000002" y2="448.2" stroke="#333" stroke-width="0.9"/>
<line x1="117.38000000000001" y1="445" x2="117.38000000000001" y2="448.2" stroke="#333" stroke-width="0.9"/>
<line x1="128.053" y1="445" x2="128.053" y2="448.2" stroke="#333" stroke-width="0.9"/>
<line x1="59.910000000000004" y1="445" x2="59.910000000000004" y2="447.2" stroke="#666" stroke-width="0.5"/>
<line x1="63.194" y1="445" x2="63.194" y2="447.2" stroke="#666" stroke-width="0.5"/>
<line x1="73.867" y1="445" x2="73.867" y2="447.2" stroke="#666" stroke-width="0.5"/>
<line x1="77.15100000000001" y1="445" x2="77.15100000000001" y2="447.2" stroke="#666" stroke-width="0.5"/>
<line x1="79.614" y1="445" x2="79.614" y2="447.2" stroke="#666" stroke-width="0.5"/>
<line x1="88.64500000000001" y1="445" x2="88.64500000000001" y2="447.2" stroke="#666" stroke-width="0.5"/>
<line x1="92.75" y1="445" x2="92.75" y2="447.2" stroke="#666" stroke-width="0.5"/>
<line x1="95.21300000000001" y1="445" x2="95.21300000000001" y2="447.2" stroke="#666" stroke-width="0.5"/>
<line x1="104.244" y1="445" x2="104.244" y2="447.2" stroke="#666" stroke-width="0.5"/>
<line x1="108.349" y1="445" x2="108.349" y2="447.2" stroke="#666" stroke-width="0.5"/>
<line x1="111.63300000000001" y1="445" x2="111.63300000000001" y2="447.2" stroke="#666" stroke-width="0.5"/>
<line x1="114.096" y1="445" x2="114.096" y2="447.2" stroke="#666" stroke-width="0.5"/>
<line x1="121.48500000000001" y1="445" x2="121.48500000000001" y2="447.2" stroke="#666" stroke-width="0.5"/>
<line x1="123.94800000000001" y1="445" x2="123.94800000000001" y2="447.2" stroke="#666" stroke-width="0.5"/>
<line x1="125.59000000000002" y1="445" x2="125.59000000000002" y2="447.2" stroke="#666" stroke-width="0.5"/>
<rect x="48.300000000000004" y="426.012" width="3" height="3.6" fill="#222"/>
<rect x="65.65700000000001" y="445" width="4" height="2" fill="#222"/>
<rect x="139.2" y="364.2" width="82.0" height="80.80000000000001" fill="none" stroke="#000" stroke-width="1.9"/>
<line x1="136.0" y1="372.0376" x2="139.2" y2="372.0376" stroke="#333" stroke-width="0.9"/>
<line x1="136.0" y1="390.78319999999997" x2="139.2" y2="390.78319999999997" stroke="#333" stroke-width="0.9"/>
<line x1="136.0" y1="413.0032" x2="139.2" y2="413.0032" stroke="#333" stroke-width="0.9"/>
<line x1="136.0" y1="442.3336" x2="139.2" y2="442.3336" stroke="#333" stroke-width="0.9"/>
<line x1="137.0" y1="377.128" x2="139.2" y2="377.128" stroke="#666" stroke-width="0.5"/>
<line x1="137.0" y1="381.168" x2="139.2" y2="381.168" stroke="#666" stroke-width="0.5"/>
<line x1="137.0" y1="384.4" x2="139.2" y2="384.4" stroke="#666" stroke-width="0.5"/>
<line x1="137.0" y1="386.824" x2="139.2" y2="386.824" stroke="#666" stroke-width="0.5"/>
<line x1="137.0" y1="396.52" x2="139.2" y2="396.52" stroke="#666" stroke-width="0.5"/>
<line x1="137.0" y1="401.368" x2="139.2" y2="401.368" stroke="#666" stroke-width="0.5"/>
<line x1="137.0" y1="405.408" x2="139.2" y2="405.408" stroke="#666" stroke-width="0.5"/>
<line x1="137.0" y1="408.64" x2="139.2" y2="408.64" stroke="#666" stroke-width="0.5"/>
<line x1="137.0" y1="417.528" x2="139.2" y2="417.528" stroke="#666" stroke-width="0.5"/>
<line x1="137.0" y1="420.76" x2="139.2" y2="420.76" stroke="#666" stroke-width="0.5"/>
<line x1="137.0" y1="423.992" x2="139.2" y2="423.992" stroke="#666" stroke-width="0.5"/>
<line x1="137.0" y1="431.264" x2="139.2" y2="431.264" stroke="#666" stroke-width="0.5"/>
<line x1="137.0" y1="433.688" x2="139.2" y2="433.688" stroke="#666" stroke-width="0.5"/>
<line x1="137.0" y1="436.11199999999997" x2="139.2" y2="436.11199999999997" stroke="#666" stroke-width="0.5"/>
<line x1="137.0" y1="438.536" x2="139.2" y2="438.536" stroke="#666" stroke-width="0.5"/>
<line x1="142.48" y1="445" x2="142.48" y2="448.2" stroke="#333" stroke-width="0.9"/>
<line x1="170.35999999999999" y1="445" x2="170.35999999999999" y2="448.2" stroke="#333" stroke-width="0.9"/>
<line x1="185.12" y1="445" x2="185.12" y2="448.2" stroke="#333" stroke-width="0.9"/>
<line x1="204.8" y1="445" x2="204.8" y2="448.2" stroke="#333" stroke-width="0.9"/>
<line x1="215.45999999999998" y1="445" x2="215.45999999999998" y2="448.2" stroke="#333" stroke-width="0.9"/>
<line x1="147.39999999999998" y1="445" x2="147.39999999999998" y2="447.2" stroke="#666" stroke-width="0.5"/>
<line x1="150.67999999999998" y1="445" x2="150.67999999999998" y2="447.2" stroke="#666" stroke-width="0.5"/>
<line x1="161.33999999999997" y1="445" x2="161.33999999999997" y2="447.2" stroke="#666" stroke-width="0.5"/>
<line x1="164.61999999999998" y1="445" x2="164.61999999999998" y2="447.2" stroke="#666" stroke-width="0.5"/>
<line x1="167.07999999999998" y1="445" x2="167.07999999999998" y2="447.2" stroke="#666" stroke-width="0.5"/>
<line x1="176.1" y1="445" x2="176.1" y2="447.2" stroke="#666" stroke-width="0.5"/>
<line x1="180.2" y1="445" x2="180.2" y2="447.2" stroke="#666" stroke-width="0.5"/>
<line x1="182.66" y1="445" x2="182.66" y2="447.2" stroke="#666" stroke-width="0.5"/>
<line x1="191.68" y1="445" x2="191.68" y2="447.2" stroke="#666" stroke-width="0.5"/>
<line x1="195.77999999999997" y1="445" x2="195.77999999999997" y2="447.2" stroke="#666" stroke-width="0.5"/>
<line x1="199.06" y1="445" x2="199.06" y2="447.2" stroke="#666" stroke-width="0.5"/>
<line x1="201.51999999999998" y1="445" x2="201.51999999999998" y2="447.2" stroke="#666" stroke-width="0.5"/>
<line x1="208.89999999999998" y1="445" x2="208.89999999999998" y2="447.2" stroke="#666" stroke-width="0.5"/>
<line x1="211.35999999999999" y1="445" x2="211.35999999999999" y2="447.2" stroke="#666" stroke-width="0.5"/>
<line x1="213.0" y1="445" x2="213.0" y2="447.2" stroke="#666" stroke-width="0.5"/>
<rect x="135.79999999999998" y="426.012" width="3" height="3.6" fill="#222"/>
<rect x="153.14" y="445" width="4" height="2" fill="#222"/>
<rect x="51.7" y="450.1" width="82.10000000000001" height="81.29999999999995" fill="none" stroke="#000" stroke-width="1.9"/>
<line x1="48.5" y1="457.9861" x2="51.7" y2="457.9861" stroke="#333" stroke-width="0.9"/>
<line x1="48.5" y1="476.84770000000003" x2="51.7" y2="476.84770000000003" stroke="#333" stroke-width="0.9"/>
<line x1="48.5" y1="499.2052" x2="51.7" y2="499.2052" stroke="#333" stroke-width="0.9"/>
<line x1="48.5" y1="528.7171" x2="51.7" y2="528.7171" stroke="#333" stroke-width="0.9"/>
<line x1="49.5" y1="463.108" x2="51.7" y2="463.108" stroke="#666" stroke-width="0.5"/>
<line x1="49.5" y1="467.173" x2="51.7" y2="467.173" stroke="#666" stroke-width="0.5"/>
<line x1="49.5" y1="470.425" x2="51.7" y2="470.425" stroke="#666" stroke-width="0.5"/>
<line x1="49.5" y1="472.86400000000003" x2="51.7" y2="472.86400000000003" stroke="#666" stroke-width="0.5"/>
<line x1="49.5" y1="482.62" x2="51.7" y2="482.62" stroke="#666" stroke-width="0.5"/>
<line x1="49.5" y1="487.498" x2="51.7" y2="487.498" stroke="#666" stroke-width="0.5"/>
<line x1="49.5" y1="491.563" x2="51.7" y2="491.563" stroke="#666" stroke-width="0.5"/>
<line x1="49.5" y1="494.815" x2="51.7" y2="494.815" stroke="#666" stroke-width="0.5"/>
<line x1="49.5" y1="503.758" x2="51.7" y2="503.758" stroke="#666" stroke-width="0.5"/>
<line x1="49.5" y1="507.01" x2="51.7" y2="507.01" stroke="#666" stroke-width="0.5"/>
<line x1="49.5" y1="510.262" x2="51.7" y2="510.262" stroke="#666" stroke-width="0.5"/>
<line x1="49.5" y1="517.579" x2="51.7" y2="517.579" stroke="#666" stroke-width="0.5"/>
<line x1="49.5" y1="520.018" x2="51.7" y2="520.018" stroke="#666" stroke-width="0.5"/>
<line x1="49.5" y1="522.457" x2="51.7" y2="522.457" stroke="#666" stroke-width="0.5"/>
<line x1="49.5" y1="524.896" x2="51.7" y2="524.896" stroke="#666" stroke-width="0.5"/>
<line x1="54.984" y1="531.4" x2="54.984" y2="534.6" stroke="#333" stroke-width="0.9"/>
<line x1="82.89800000000001" y1="531.4" x2="82.89800000000001" y2="534.6" stroke="#333" stroke-width="0.9"/>
<line x1="97.67600000000002" y1="531.4" x2="97.67600000000002" y2="534.6" stroke="#333" stroke-width="0.9"/>
<line x1="117.38000000000001" y1="531.4" x2="117.38000000000001" y2="534.6" stroke="#333" stroke-width="0.9"/>
<line x1="128.053" y1="531.4" x2="128.053" y2="534.6" stroke="#333" stroke-width="0.9"/>
<line x1="59.910000000000004" y1="531.4" x2="59.910000000000004" y2="533.6" stroke="#666" stroke-width="0.5"/>
<line x1="63.194" y1="531.4" x2="63.194" y2="533.6" stroke="#666" stroke-width="0.5"/>
<line x1="73.867" y1="531.4" x2="73.867" y2="533.6" stroke="#666" stroke-width="0.5"/>
<line x1="77.15100000000001" y1="531.4" x2="77.15100000000001" y2="533.6" stroke="#666" stroke-width="0.5"/>
<line x1="79.614" y1="531.4" x2="79.614" y2="533.6" stroke="#666" stroke-width="0.5"/>
<line x1="88.64500000000001" y1="531.4" x2="88.64500000000001" y2="533.6" stroke="#666" stroke-width="0.5"/>
<line x1="92.75" y1="531.4" x2="92.75" y2="533.6" stroke="#666" stroke-width="0.5"/>
<line x1="95.21300000000001" y1="531.4" x2="95.21300000000001" y2="533.6" stroke="#666" stroke-width="0.5"/>
<line x1="104.244" y1="531.4" x2="104.244" y2="533.6" stroke="#666" stroke-width="0.5"/>
<line x1="108.349" y1="531.4" x2="108.349" y2="533.6" stroke="#666" stroke-width="0.5"/>
<line x1="111.63300000000001" y1="531.4" x2="111.63300000000001" y2="533.6" stroke="#666" stroke-width="0.5"/>
<line x1="114.096" y1="531.4" x2="114.096" y2="533.6" stroke="#666" stroke-width="0.5"/>
<line x1="121.48500000000001" y1="531.4" x2="121.48500000000001" y2="533.6" stroke="#666" stroke-width="0.5"/>
<line x1="123.94800000000001" y1="531.4" x2="123.94800000000001" y2="533.6" stroke="#666" stroke-width="0.5"/>
<line x1="125.59000000000002" y1="531.4" x2="125.59000000000002" y2="533.6" stroke="#666" stroke-width="0.5"/>
<rect x="48.300000000000004" y="512.2945" width="3" height="3.6" fill="#222"/>
<rect x="65.65700000000001" y="531.4" width="4" height="2" fill="#222"/>
<rect x="139.2" y="450.1" width="82.0" height="81.29999999999995" fill="none" stroke="#000" stroke-width="1.9"/>
<line x1="136.0" y1="457.9861" x2="139.2" y2="457.9861" stroke="#333" stroke-width="0.9"/>
<line x1="136.0" y1="476.84770000000003" x2="139.2" y2="476.84770000000003" stroke="#333" stroke-width="0.9"/>
<line x1="136.0" y1="499.2052" x2="139.2" y2="499.2052" stroke="#333" stroke-width="0.9"/>
<line x1="136.0" y1="528.7171" x2="139.2" y2="528.7171" stroke="#333" stroke-width="0.9"/>
<line x1="137.0" y1="463.108" x2="139.2" y2="463.108" stroke="#666" stroke-width="0.5"/>
<line x1="137.0" y1="467.173" x2="139.2" y2="467.173" stroke="#666" stroke-width="0.5"/>
<line x1="137.0" y1="470.425" x2="139.2" y2="470.425" stroke="#666" stroke-width="0.5"/>
<line x1="137.0" y1="472.86400000000003" x2="139.2" y2="472.86400000000003" stroke="#666" stroke-width="0.5"/>
<line x1="137.0" y1="482.62" x2="139.2" y2="482.62" stroke="#666" stroke-width="0.5"/>
<line x1="137.0" y1="487.498" x2="139.2" y2="487.498" stroke="#666" stroke-width="0.5"/>
<line x1="137.0" y1="491.563" x2="139.2" y2="491.563" stroke="#666" stroke-width="0.5"/>
<line x1="137.0" y1="494.815" x2="139.2" y2="494.815" stroke="#666" stroke-width="0.5"/>
<line x1="137.0" y1="503.758" x2="139.2" y2="503.758" stroke="#666" stroke-width="0.5"/>
<line x1="137.0" y1="507.01" x2="139.2" y2="507.01" stroke="#666" stroke-width="0.5"/>
<line x1="137.0" y1="510.262" x2="139.2" y2="510.262" stroke="#666" stroke-width="0.5"/>
<line x1="137.0" y1="517.579" x2="139.2" y2="517.579" stroke="#666" stroke-width="0.5"/>
<line x1="137.0" y1="520.018" x2="139.2" y2="520.018" stroke="#666" stroke-width="0.5"/>
<line x1="137.0" y1="522.457" x2="139.2" y2="522.457" stroke="#666" stroke-width="0.5"/>
<line x1="137.0" y1="524.896" x2="139.2" y2="524.896" stroke="#666" stroke-width="0.5"/>
<line x1="142.48" y1="531.4" x2="142.48" y2="534.6" stroke="#333" stroke-width="0.9"/>
<line x1="170.35999999999999" y1="531.4" x2="170.35999999999999" y2="534.6" stroke="#333" stroke-width="0.9"/>
<line x1="185.12" y1="531.4" x2="185.12" y2="534.6" stroke="#333" stroke-width="0.9"/>
<line x1="204.8" y1="531.4" x2="204.8" y2="534.6" stroke="#333" stroke-width="0.9"/>
<line x1="215.45999999999998" y1="531.4" x2="215.45999999999998" y2="534.6" stroke="#333" stroke-width="0.9"/>
<line x1="147.39999999999998" y1="531.4" x2="147.39999999999998" y2="533.6" stroke="#666" stroke-width="0.5"/>
<line x1="150.67999999999998" y1="531.4" x2="150.67999999999998" y2="533.6" stroke="#666" stroke-width="0.5"/>
<line x1="161.33999999999997" y1="531.4" x2="161.33999999999997" y2="533.6" stroke="#666" stroke-width="0.5"/>
<line x1="164.61999999999998" y1="531.4" x2="164.61999999999998" y2="533.6" stroke="#666" stroke-width="0.5"/>
<line x1="167.07999999999998" y1="531.4" x2="167.07999999999998" y2="533.6" stroke="#666" stroke-width="0.5"/>
<line x1="176.1" y1="531.4" x2="176.1" y2="533.6" stroke="#666" stroke-width="0.5"/>
<line x1="180.2" y1="531.4" x2="180.2" y2="533.6" stroke="#666" stroke-width="0.5"/>
<line x1="182.66" y1="531.4" x2="182.66" y2="533.6" stroke="#666" stroke-width="0.5"/>
<line x1="191.68" y1="531.4" x2="191.68" y2="533.6" stroke="#666" stroke-width="0.5"/>
<line x1="195.77999999999997" y1="531.4" x2="195.77999999999997" y2="533.6" stroke="#666" stroke-width="0.5"/>
<line x1="199.06" y1="531.4" x2="199.06" y2="533.6" stroke="#666" stroke-width="0.5"/>
<line x1="201.51999999999998" y1="531.4" x2="201.51999999999998" y2="533.6" stroke="#666" stroke-width="0.5"/>
<line x1="208.89999999999998" y1="531.4" x2="208.89999999999998" y2="533.6" stroke="#666" stroke-width="0.5"/>
<line x1="211.35999999999999" y1="531.4" x2="211.35999999999999" y2="533.6" stroke="#666" stroke-width="0.5"/>
<line x1="213.0" y1="531.4" x2="213.0" y2="533.6" stroke="#666" stroke-width="0.5"/>
<rect x="135.79999999999998" y="512.2945" width="3" height="3.6" fill="#222"/>
<rect x="153.14" y="531.4" width="4" height="2" fill="#222"/>
<text x="92.3" y="359.3" text-anchor="middle" font-size="14.2" style="stroke-width:0.7px">WT</text>
<text x="177.3" y="359.3" text-anchor="middle" font-size="14.2" style="stroke-width:0.7px">KO</text>
<text transform="translate(39.9,403.5) rotate(-90)" text-anchor="middle" font-size="14.4" style="stroke-width:0.55px">IFN-&#947;</text>
<text transform="translate(40.4,493.2) rotate(-90)" text-anchor="middle" font-size="14.8" style="stroke-width:0.55px">CD107a</text>
<path d="M119.4 423.5 L119.0 427.1 L117.9 430.5 L116.2 433.6 L113.9 436.2 L111.1 438.1 L108.0 439.3 L104.8 439.7 L101.6 439.3 L98.5 438.1 L95.7 436.2 L93.4 433.6 L91.7 430.5 L90.6 427.1 L90.2 423.5 L90.6 419.9 L91.7 416.5 L93.4 413.4 L95.7 410.8 L98.5 408.9 L101.6 407.7 L104.8 407.3 L108.0 407.7 L111.1 408.9 L113.9 410.8 L116.2 413.4 L117.9 416.5 L119.0 419.9Z" fill="#aaa" opacity="0.28" filter="url(#b1)"/>
<path d="M118.0 423.5 L118.3 426.9 L116.7 429.9 L115.9 433.3 L113.4 435.5 L110.4 436.4 L107.7 437.7 L104.8 438.4 L101.7 438.4 L98.9 437.1 L96.2 435.5 L94.5 432.6 L92.2 430.2 L92.1 426.7 L90.9 423.5 L91.5 420.1 L92.7 417.0 L94.2 414.1 L96.5 411.9 L99.1 410.3 L101.8 408.8 L104.8 408.8 L107.8 409.0 L110.9 409.4 L113.6 411.2 L115.0 414.5 L116.7 417.1 L118.3 420.1Z" fill="none" stroke="#777" stroke-width="0.5"/>
<path d="M116.5 423.7 L116.5 426.4 L115.4 428.9 L114.7 431.7 L112.9 433.8 L110.4 434.7 L108.1 436.0 L105.6 435.9 L103.2 435.5 L100.6 435.2 L98.3 433.9 L96.6 431.6 L95.9 428.9 L94.7 426.4 L94.0 423.7 L94.1 420.7 L95.0 418.0 L97.2 416.2 L98.4 413.6 L100.9 412.7 L103.2 411.9 L105.6 411.7 L108.1 411.6 L110.4 412.6 L112.8 413.7 L114.6 415.7 L115.9 418.2 L116.6 420.9Z" fill="none" stroke="#999" stroke-width="0.5"/>
<path d="M115.5 423.8 L115.3 426.1 L114.8 428.3 L113.4 430.0 L112.1 431.7 L110.4 433.0 L108.4 433.6 L106.4 434.0 L104.5 433.4 L102.6 432.8 L100.6 432.0 L99.0 430.4 L98.1 428.3 L97.7 426.1 L97.0 423.8 L97.8 421.6 L98.0 419.3 L99.2 417.4 L101.0 416.3 L102.4 414.6 L104.5 414.3 L106.4 413.9 L108.5 413.6 L110.4 414.8 L112.0 416.1 L113.7 417.4 L115.0 419.3 L115.6 421.5Z" fill="none" stroke="#888" stroke-width="0.5"/>
<path d="M114.1 424.0 L113.8 425.7 L113.7 427.5 L112.9 429.0 L111.4 429.7 L110.4 431.2 L108.8 431.5 L107.3 431.5 L105.8 431.1 L104.2 431.0 L103.0 429.9 L101.8 428.8 L101.2 427.3 L100.6 425.7 L100.5 424.0 L100.2 422.2 L101.0 420.6 L101.7 419.1 L103.1 418.3 L104.3 417.1 L105.7 416.3 L107.3 416.3 L108.8 416.5 L110.2 417.1 L111.5 418.1 L112.5 419.3 L113.5 420.7 L113.8 422.3Z" fill="none" stroke="#999" stroke-width="0.5"/>
<path d="M112.8 424.2 L112.2 426.4 L111.1 428.3 L109.1 429.3 L107.0 429.3 L105.1 428.3 L103.9 426.4 L103.6 424.2 L103.8 421.9 L105.2 420.2 L107.0 419.1 L109.1 419.3 L110.9 420.2 L112.3 421.9Z" fill="none" stroke="#777" stroke-width="0.5"/>
<path d="M111.4 424.3 L111.1 425.5 L110.5 426.5 L109.4 427.0 L108.4 426.9 L107.5 426.3 L106.7 425.5 L106.4 424.3 L106.7 423.1 L107.5 422.3 L108.3 421.6 L109.4 421.7 L110.4 422.2 L111.1 423.1Z" fill="none" stroke="#888" stroke-width="0.5"/>
<path d="M119.7 426.6h.7M122.1 435.0h.7M104.9 439.0h.7M117.0 413.7h.7M107.6 409.5h.7M116.7 431.0h.7M116.9 431.9h.7M120.2 432.0h.7M96.3 436.7h.7M118.4 408.3h.7M97.0 438.6h.7M103.4 439.2h.7M126.1 433.5h.7M115.9 436.9h.7M115.0 411.1h.7M115.6 438.2h.7M88.9 409.8h.7M104.9 408.7h.7M113.2 408.6h.7M119.1 425.2h.7M98.4 440.9h.7M118.4 430.1h.7M112.9 436.2h.7M88.0 427.2h.7M112.0 404.9h.7M87.0 427.0h.7M84.4 433.2h.7M107.7 438.3h.7M115.2 405.4h.7M90.2 423.4h.7M91.4 421.4h.7M106.7 439.0h.7M120.2 426.1h.7M102.2 409.3h.7M91.6 427.8h.7M120.0 422.0h.7M119.3 423.0h.7M117.8 429.5h.7M89.1 427.6h.7M97.2 405.2h.7M100.6 408.4h.7M88.3 420.8h.7M100.2 437.4h.7M100.4 440.9h.7M98.9 436.4h.7M94.3 411.1h.7M105.3 441.6h.7M107.7 408.9h.7M101.4 404.9h.7M87.7 426.3h.7M98.0 442.2h.7M93.7 411.4h.7M86.8 431.8h.7M89.1 422.0h.7M87.2 429.9h.7M87.0 434.7h.7M99.3 402.5h.7M102.5 407.7h.7M97.1 443.3h.7M117.6 432.2h.7M120.9 414.0h.7M122.4 416.2h.7M87.5 416.2h.7M119.6 427.2h.7M95.8 408.3h.7M95.3 439.9h.7M88.3 421.2h.7M101.0 404.2h.7M102.9 399.7h.7M97.8 409.3h.7M91.1 420.6h.7M111.6 407.2h.7M92.6 413.2h.7M93.8 434.0h.7M109.6 409.1h.7M117.6 411.9h.7M90.8 427.7h.7M117.3 418.3h.7M117.4 417.9h.7M107.3 441.9h.7M110.9 439.2h.7M89.8 436.7h.7M109.1 438.8h.7M121.5 412.6h.7M88.7 424.5h.7M110.1 406.2h.7M124.7 427.4h.7M100.3 409.5h.7M120.1 420.9h.7M102.8 406.8h.7M113.7 409.7h.7M121.9 430.5h.7M118.1 423.5h.7M108.7 405.7h.7M104.4 439.0h.7M117.9 423.3h.7M107.1 441.4h.7M124.2 416.4h.7M99.8 440.2h.7M101.5 440.4h.7M122.5 416.1h.7M105.3 408.7h.7M107.4 400.4h.7M111.5 406.8h.7M91.9 405.2h.7M112.2 438.7h.7M113.3 436.6h.7M96.8 440.6h.7M92.0 429.4h.7M101.2 406.6h.7M94.8 403.1h.7M112.1 439.0h.7M98.8 437.6h.7M124.7 417.0h.7M119.8 406.5h.7M108.9 407.3h.7M117.2 402.6h.7M90.9 426.4h.7M92.3 426.9h.7M102.2 400.9h.7M95.4 436.0h.7M115.1 413.6h.7M118.5 412.9h.7M94.7 413.6h.7M84.4 423.8h.7M95.0 410.3h.7M98.5 440.7h.7M96.2 412.1h.7M116.9 411.9h.7M96.7 436.8h.7M111.7 411.2h.7M119.1 414.1h.7M87.4 409.5h.7M116.6 429.5h.7M83.2 432.0h.7M106.7 438.4h.7M110.4 446.9h.7M96.5 409.2h.7M115.1 410.2h.7M88.1 428.1h.7M91.2 416.5h.7M117.9 423.4h.7M110.5 437.8h.7M104.2 404.0h.7M116.3 433.0h.7M121.7 430.7h.7M92.1 439.2h.7M113.1 437.6h.7M94.0 409.6h.7M97.9 438.0h.7M128.4 422.1h.7M90.9 424.3h.7M105.1 400.2h.7M94.2 414.4h.7M92.5 436.7h.7M115.3 442.9h.7M122.4 425.7h.7M119.6 437.6h.7M92.0 416.9h.7M91.5 423.0h.7M118.3 412.8h.7M100.6 404.1h.7M108.1 439.9h.7M107.9 438.0h.7M112.7 436.0h.7M113.5 434.6h.7M99.0 407.9h.7M107.9 439.4h.7M91.4 407.9h.7M109.7 407.6h.7M118.3 413.1h.7M86.4 418.5h.7M106.4 439.1h.7M111.8 438.8h.7M118.2 408.1h.7M115.4 433.3h.7M90.1 427.4h.7M112.2 409.8h.7M89.2 432.4h.7M117.9 423.7h.7M117.5 408.3h.7M86.9 415.7h.7M92.8 431.3h.7M108.0 439.9h.7M87.2 418.1h.7M121.2 423.1h.7M107.0 440.5h.7M90.4 430.3h.7M99.0 439.8h.7M114.9 437.5h.7M91.9 414.5h.7M91.6 431.9h.7M112.0 410.9h.7M86.8 426.9h.7M101.9 442.5h.7M91.5 422.7h.7M91.6 423.5h.7M92.5 435.8h.7M121.2 432.0h.7M96.2 439.5h.7M100.3 406.5h.7M87.5 427.8h.7M111.9 410.1h.7M107.6 409.2h.7M85.8 426.6h.7M99.1 410.3h.7M118.7 418.7h.7M96.5 410.4h.7M104.4 402.4h.7M95.7 413.2h.7M97.9 407.8h.7M91.3 416.3h.7M107.4 438.3h.7M90.5 418.1h.7M97.0 411.5h.7M117.1 414.1h.7M122.9 420.4h.7M88.3 430.7h.7M102.7 438.5h.7M92.5 419.1h.7M109.3 405.1h.7M120.7 439.3h.7M104.3 442.2h.7M114.9 409.5h.7M118.0 425.1h.7M110.1 408.8h.7M90.0 406.4h.7M101.6 438.0h.7M88.3 424.1h.7M117.5 430.8h.7M108.1 437.5h.7M99.2 439.0h.7M107.6 439.6h.7M118.2 420.8h.7M117.0 414.6h.7M91.3 418.5h.7M117.8 421.1h.7M112.7 409.2h.7M123.6 428.8h.7M93.4 430.3h.7M95.5 412.6h.7M115.5 435.6h.7M100.0 439.2h.7M118.4 427.3h.7M98.4 436.9h.7M90.1 427.3h.7M115.8 433.2h.7M120.1 416.9h.7M110.8 443.1h.7M96.5 441.6h.7M90.3 433.8h.7M119.0 425.9h.7M97.9 408.9h.7M115.9 413.6h.7M109.4 405.3h.7M88.8 429.9h.7M91.4 409.1h.7M88.7 418.0h.7M117.6 410.8h.7M117.9 425.6h.7M94.5 410.8h.7M115.0 438.5h.7M118.1 428.1h.7M87.2 423.9h.7M98.7 407.0h.7M87.1 423.5h.7M118.7 415.4h.7M117.1 403.3h.7M96.0 435.0h.7M93.6 435.1h.7M96.9 409.1h.7M90.1 414.5h.7M122.0 421.0h.7M112.1 444.3h.7M119.1 422.9h.7M90.8 409.9h.7M120.8 424.0h.7M95.7 410.9h.7M91.8 417.8h.7M90.2 415.4h.7M85.2 417.0h.7M120.0 422.3h.7M91.4 424.2h.7M92.3 430.3h.7M118.5 432.2h.7M90.3 422.7h.7M99.7 404.1h.7M113.5 434.2h.7M92.8 436.6h.7M89.5 430.8h.7M114.7 413.5h.7M91.2 428.5h.7M91.0 440.1h.7M100.4 438.9h.7M116.9 429.3h.7M110.3 444.7h.7M87.0 422.5h.7M106.3 409.3h.7M99.6 408.1h.7M95.2 410.1h.7M98.5 439.1h.7M122.7 418.2h.7M120.7 428.8h.7M99.4 443.9h.7M91.0 412.1h.7M121.2 415.9h.7M94.3 439.2h.7M103.6 444.9h.7M91.1 422.9h.7M116.2 430.7h.7M108.6 407.5h.7M92.9 413.8h.7M116.0 411.2h.7M112.5 409.9h.7M90.5 410.6h.7M105.5 407.5h.7M95.9 410.8h.7M112.8 438.3h.7M116.6 414.8h.7M108.2 446.2h.7M103.9 440.2h.7M118.5 423.2h.7M100.2 438.5h.7M95.2 433.1h.7M93.8 411.3h.7M93.2 431.0h.7M91.7 426.3h.7M94.3 434.0h.7M94.6 407.3h.7M109.3 437.6h.7M104.0 440.0h.7M99.4 436.7h.7M120.4 409.1h.7M87.9 427.1h.7M118.1 416.9h.7M91.3 423.7h.7M119.2 420.9h.7M118.1 433.6h.7M89.5 439.5h.7M85.0 423.7h.7" stroke="#555" stroke-width="0.7" fill="none" opacity="0.6"/>
<path d="M103.3 431.7h.7M100.0 420.6h.7M105.7 415.4h.7M92.5 427.2h.7M97.2 425.9h.7M107.0 409.7h.7M101.8 414.0h.7M110.0 420.7h.7M115.0 420.4h.7M107.4 429.1h.7M107.4 430.8h.7M102.1 411.7h.7M97.6 418.6h.7M105.7 427.2h.7M94.3 422.4h.7M104.9 416.4h.7M110.2 428.5h.7M109.4 427.3h.7M95.5 417.8h.7M103.5 437.7h.7M110.7 427.5h.7M113.4 416.1h.7M97.1 422.7h.7M102.4 413.2h.7M108.9 433.5h.7M117.1 422.5h.7M105.8 430.1h.7M112.0 431.2h.7M104.0 409.3h.7M101.1 415.5h.7M106.9 423.4h.7M95.9 416.6h.7M94.3 429.5h.7M112.1 417.0h.7M93.9 429.4h.7M106.9 423.8h.7M112.8 426.7h.7M96.9 421.7h.7M99.4 429.8h.7M113.1 433.8h.7M98.2 431.3h.7M107.4 428.3h.7M113.7 431.8h.7M109.9 429.2h.7M101.1 421.7h.7M96.0 423.7h.7M104.8 411.1h.7M105.2 428.9h.7M105.7 423.0h.7M111.0 418.2h.7M106.6 410.4h.7M97.6 418.5h.7M102.2 423.9h.7M117.6 421.3h.7M117.1 427.9h.7M105.0 426.3h.7M110.0 420.6h.7M104.1 436.2h.7M105.0 415.1h.7M114.7 429.5h.7M115.0 429.3h.7M94.6 427.4h.7M108.8 431.9h.7M108.6 421.5h.7M92.3 422.3h.7M97.0 418.2h.7M115.9 422.7h.7M104.2 410.4h.7M106.5 416.0h.7M107.6 424.3h.7M93.7 421.9h.7M107.8 432.1h.7M105.6 430.1h.7M104.3 433.3h.7M105.3 433.4h.7M101.6 412.2h.7M111.5 429.0h.7M98.0 421.7h.7M100.5 428.9h.7M100.9 416.4h.7M113.0 425.7h.7M106.7 420.3h.7M107.5 425.3h.7M107.2 430.4h.7M99.2 417.0h.7M102.0 416.9h.7M115.0 431.6h.7M96.8 419.8h.7M114.0 427.8h.7M108.4 420.3h.7M112.6 427.4h.7M103.7 421.6h.7M109.9 436.7h.7M102.6 410.9h.7M105.7 419.7h.7M106.8 416.8h.7M107.1 437.4h.7M104.2 429.4h.7M108.8 415.4h.7M107.2 418.3h.7M99.7 425.8h.7M111.3 431.4h.7M99.1 426.5h.7M113.6 417.0h.7M104.5 428.4h.7M106.2 419.4h.7M105.7 429.1h.7M107.5 420.5h.7M101.4 434.0h.7M111.2 413.2h.7M93.1 418.4h.7M92.9 428.5h.7M107.4 410.5h.7M97.7 421.8h.7M107.9 435.4h.7M110.2 429.7h.7M92.7 418.3h.7M97.1 415.5h.7M106.1 425.1h.7M95.7 428.3h.7M111.6 425.6h.7M112.4 431.3h.7M97.3 426.5h.7M94.0 425.3h.7M111.4 415.8h.7M98.0 421.4h.7M105.9 421.2h.7M104.5 431.7h.7M100.2 412.2h.7M111.9 414.2h.7M101.1 424.7h.7M98.1 432.5h.7M110.7 410.7h.7M94.7 428.6h.7M104.5 432.3h.7M114.4 424.6h.7M100.3 431.3h.7M95.4 427.8h.7M114.1 414.9h.7M100.8 435.7h.7M100.0 431.9h.7M102.7 411.3h.7M106.4 427.8h.7M108.8 436.5h.7M109.3 424.9h.7M100.3 431.5h.7M111.5 421.5h.7M107.7 428.2h.7M97.9 414.0h.7M102.9 426.4h.7" stroke="#666" stroke-width="0.7" fill="none" opacity="0.5"/>
<rect x="106" y="414" width="9" height="17" fill="#555" opacity="0.4" filter="url(#b1)"/>
<path d="M108.5 415v16M111.5 416v14M114 417v12" stroke="#555" stroke-width="0.6" fill="none" opacity="0.8"/>
<ellipse cx="110" cy="423" rx="1.6" ry="3.5" fill="#fff" opacity="0.8"/>
<path d="M99.8 367.7C101.3 367.7 103.3 368.5 104.4 369.6C105.5 370.8 106.3 372.9 106.5 374.8C106.7 376.7 106.1 379.0 105.5 381.1C105.0 383.3 103.7 385.4 103.0 387.5C102.3 389.6 101.6 391.5 101.2 393.8C100.7 396.1 100.7 400.0 100.4 401.3C100.0 402.5 99.6 402.5 99.2 401.3C98.9 400.0 98.9 396.1 98.4 393.8C98.0 391.5 97.3 389.6 96.6 387.5C95.9 385.4 94.6 383.3 94.0 381.1C93.5 379.0 92.9 376.7 93.1 374.8C93.3 372.9 94.1 370.8 95.2 369.6C96.3 368.5 98.3 367.7 99.8 367.7Z" fill="#bbb" opacity="0.4" filter="url(#b1)"/>
<path d="M95.4 383.3h.7M105.2 382.5h.7M94.8 382.4h.7M95.9 385.1h.7M92.5 375.0h.7M105.2 382.4h.7M101.1 392.5h.7M104.7 381.7h.7M100.1 401.0h.7M95.9 385.9h.7M93.9 380.8h.7M103.0 393.5h.7M94.3 372.5h.7M99.8 398.6h.7M95.2 383.3h.7M95.5 390.1h.7M106.0 379.7h.7M98.6 368.1h.7M105.9 369.5h.7M105.4 368.1h.7M105.5 368.9h.7M99.1 396.8h.7M92.9 371.6h.7M106.5 370.5h.7M99.2 399.4h.7M104.0 387.6h.7M100.6 402.8h.7M102.7 389.8h.7M105.6 372.9h.7M101.0 405.3h.7M96.9 390.7h.7M106.0 369.5h.7M100.4 401.6h.7M100.5 368.1h.7M93.1 379.6h.7M102.4 388.2h.7M98.2 365.8h.7M90.7 371.8h.7M100.2 406.5h.7M94.2 380.7h.7M97.7 389.9h.7M93.7 379.9h.7M106.0 376.5h.7M94.7 382.4h.7M93.6 377.8h.7M106.9 378.9h.7M94.3 371.3h.7M93.6 379.7h.7M92.8 382.8h.7M93.3 378.0h.7M100.6 395.8h.7M98.7 399.1h.7M105.4 379.9h.7M95.1 383.3h.7M92.5 381.5h.7M101.4 391.8h.7M104.9 370.2h.7M103.1 366.8h.7M104.8 384.0h.7M97.6 394.7h.7M106.7 375.6h.7M100.4 367.6h.7M101.4 396.9h.7M104.7 369.4h.7M93.9 373.3h.7M109.2 370.7h.7M98.5 399.9h.7M103.3 369.9h.7M93.1 372.4h.7M90.5 375.8h.7M94.7 383.7h.7M97.5 391.2h.7M98.8 365.6h.7M107.0 383.6h.7M95.0 369.6h.7M102.0 388.8h.7M107.1 381.8h.7M98.8 398.1h.7M97.1 392.5h.7M99.1 365.2h.7M100.9 397.3h.7M92.3 374.3h.7M107.3 377.3h.7M97.9 398.6h.7M103.6 386.0h.7M101.0 402.7h.7M104.7 371.4h.7M102.3 389.6h.7M94.1 382.1h.7M95.6 365.0h.7M98.9 365.0h.7M93.3 375.4h.7M94.7 370.5h.7M99.6 362.3h.7M99.3 406.0h.7M100.2 401.7h.7M105.4 368.8h.7M101.5 400.8h.7M99.9 400.6h.7M94.4 382.0h.7M107.0 377.2h.7M97.7 390.0h.7M104.6 369.2h.7M103.7 369.9h.7M93.2 377.2h.7M99.7 368.7h.7M93.9 376.8h.7M92.4 378.3h.7M106.7 369.9h.7M93.6 372.9h.7M101.7 389.7h.7M94.4 381.8h.7M100.6 368.9h.7M105.3 370.1h.7M106.0 376.4h.7M101.2 397.7h.7M94.7 373.5h.7M107.3 367.2h.7M104.9 372.5h.7M104.4 382.2h.7M101.5 366.0h.7M97.4 392.4h.7M102.8 392.1h.7M92.9 370.6h.7M99.7 407.5h.7M102.6 388.1h.7M99.4 400.1h.7M102.5 368.2h.7M97.7 401.8h.7M95.7 390.9h.7M106.4 372.2h.7M99.9 367.0h.7M93.8 378.0h.7M105.8 380.2h.7M99.6 399.0h.7M93.4 378.4h.7M103.3 366.9h.7M100.7 396.0h.7M105.4 383.4h.7M103.4 388.7h.7" stroke="#555" stroke-width="0.7" fill="none" opacity="0.6"/>
<path d="M99.8 369.3C101.1 369.3 102.8 370.0 103.8 371.0C104.8 372.0 105.4 373.8 105.6 375.5C105.8 377.2 105.3 379.2 104.8 381.0C104.3 382.8 103.2 384.7 102.6 386.5C102.0 388.3 101.4 390.0 101.0 392.0C100.6 394.0 100.6 397.4 100.3 398.5C100.0 399.6 99.6 399.6 99.3 398.5C99.0 397.4 99.0 394.0 98.6 392.0C98.2 390.0 97.6 388.3 97.0 386.5C96.4 384.7 95.3 382.8 94.8 381.0C94.3 379.2 93.8 377.2 94.0 375.5C94.2 373.8 94.8 372.0 95.8 371.0C96.8 370.0 98.5 369.3 99.8 369.3Z" fill="#eee" fill-opacity="0.7" stroke="#777" stroke-width="0.6"/>
<path d="M99.7 371.4C100.7 371.4 102.1 371.7 102.8 372.4C103.4 373.1 103.7 374.6 103.8 375.8C104.0 377.0 103.9 378.3 103.6 379.7C103.3 381.0 102.4 382.5 101.9 383.9C101.5 385.2 101.0 386.3 100.7 387.7C100.5 389.1 100.4 391.7 100.2 392.4C100.0 393.2 99.8 393.0 99.6 392.2C99.4 391.4 99.2 389.1 98.9 387.7C98.6 386.2 98.2 384.9 97.8 383.5C97.3 382.2 96.7 381.0 96.4 379.7C96.0 378.4 95.4 377.0 95.5 375.8C95.6 374.6 96.3 373.2 97.0 372.5C97.7 371.8 98.8 371.4 99.7 371.4Z" fill="none" stroke="#999" stroke-width="0.5"/>
<path d="M99.8 373.1C100.5 373.1 101.4 373.4 101.9 373.9C102.3 374.4 102.6 375.2 102.6 375.9C102.7 376.7 102.6 377.6 102.4 378.5C102.1 379.4 101.4 380.4 101.1 381.3C100.8 382.3 100.5 383.1 100.3 384.0C100.1 384.9 100.1 386.4 99.9 386.9C99.8 387.5 99.6 387.7 99.5 387.2C99.3 386.7 99.3 384.7 99.1 383.7C98.9 382.8 98.6 382.2 98.3 381.3C98.0 380.5 97.7 379.7 97.5 378.8C97.3 377.9 97.1 376.8 97.2 376.0C97.3 375.2 97.5 374.2 98.0 373.7C98.4 373.2 99.2 373.0 99.8 373.1Z" fill="none" stroke="#888" stroke-width="0.5"/>
<ellipse cx="99.8" cy="375.8" rx="1.6" ry="1.8" fill="none" stroke="#999" stroke-width="0.5"/>
<path d="M100.9 389.7h.7M100.9 391.0h.7M101.2 389.2h.7M102.9 398.6h.7M103.5 396.2h.7M100.4 393.0h.7M98.5 394.0h.7M99.6 397.8h.7M103.2 393.7h.7M99.3 398.5h.7M105.3 392.6h.7M97.2 393.4h.7M99.3 392.9h.7M101.2 397.1h.7M98.1 396.9h.7M100.8 392.3h.7M101.1 392.4h.7M97.9 392.9h.7M102.5 395.7h.7M98.6 394.1h.7M98.8 392.2h.7M98.9 394.8h.7M98.9 398.5h.7M101.1 391.2h.7M99.6 397.9h.7M102.0 392.6h.7M97.0 394.5h.7M100.1 399.8h.7M95.3 399.2h.7M101.2 391.9h.7M100.8 390.2h.7M101.9 398.9h.7M100.9 390.5h.7M99.7 392.7h.7M98.4 398.9h.7M96.1 400.7h.7M100.9 398.4h.7M100.7 390.7h.7M101.0 399.4h.7M97.6 397.6h.7M102.2 391.7h.7M99.4 392.2h.7M100.7 399.1h.7M103.0 394.1h.7M99.6 398.9h.7M98.0 398.1h.7M98.2 398.0h.7M98.6 399.6h.7M98.4 393.8h.7M99.5 392.8h.7" stroke="#555" stroke-width="0.7" fill="none" opacity="0.6"/>
<path d="M203.9 424.0 L203.8 426.4 L203.5 429.0 L202.8 431.7 L201.5 434.4 L199.5 437.0 L196.8 438.9 L193.5 439.7 L190.1 439.3 L186.9 438.1 L184.1 436.2 L181.7 433.8 L179.9 430.8 L178.8 427.5 L178.4 424.0 L178.8 420.5 L179.9 417.2 L181.7 414.2 L184.1 411.8 L186.9 409.9 L190.1 408.7 L193.5 408.3 L196.8 409.1 L199.5 411.0 L201.5 413.6 L202.8 416.3 L203.5 419.0 L203.8 421.6Z" fill="#bbb" opacity="0.25" filter="url(#b1)"/>
<path d="M202.9 424.0 L203.1 426.3 L202.6 428.5 L202.0 431.0 L201.1 433.8 L199.2 436.3 L196.5 437.8 L193.5 438.4 L190.4 438.2 L187.2 437.4 L184.6 435.6 L182.8 432.9 L180.9 430.3 L180.1 427.2 L179.8 424.0 L179.5 420.7 L180.9 417.7 L182.6 415.0 L184.6 412.4 L187.4 410.9 L190.5 410.2 L193.5 409.5 L196.6 409.8 L199.2 411.7 L201.1 414.1 L202.0 417.0 L202.5 419.5 L202.9 421.8Z" fill="none" stroke="#555" stroke-width="0.7"/>
<path d="M203.1 424.0 L203.0 425.9 L202.4 427.8 L202.0 429.9 L201.0 432.0 L199.5 434.1 L197.4 435.8 L194.8 435.8 L192.1 436.1 L189.8 434.9 L187.6 433.3 L185.6 431.6 L184.3 429.2 L183.5 426.7 L183.0 424.0 L183.7 421.4 L184.3 418.8 L185.8 416.6 L187.7 414.8 L189.7 413.0 L192.3 412.5 L194.8 411.6 L197.4 412.3 L199.5 413.9 L201.1 415.9 L202.0 418.0 L202.7 420.1 L202.8 422.1Z" fill="none" stroke="#888" stroke-width="0.5"/>
<path d="M202.5 424.0 L202.5 425.5 L202.5 427.2 L201.9 428.8 L201.1 430.4 L199.8 431.9 L198.1 433.1 L196.1 434.0 L194.0 433.7 L192.0 432.9 L190.3 431.5 L188.8 430.1 L187.8 428.2 L187.1 426.1 L186.6 424.0 L187.2 421.9 L187.6 419.8 L188.8 417.9 L190.4 416.6 L192.1 415.4 L194.0 414.4 L196.1 414.0 L198.1 414.8 L199.8 416.0 L201.1 417.5 L201.9 419.2 L202.3 420.9 L202.5 422.5Z" fill="none" stroke="#999" stroke-width="0.5"/>
<path d="M202.4 424.0 L202.4 425.2 L202.2 426.4 L201.7 427.5 L201.1 428.8 L200.3 430.2 L199.0 431.1 L197.4 431.5 L195.9 431.1 L194.4 430.5 L193.0 429.8 L192.0 428.5 L191.1 427.2 L190.4 425.7 L190.3 424.0 L190.7 422.4 L190.9 420.7 L191.8 419.3 L193.1 418.4 L194.4 417.4 L195.9 417.0 L197.4 416.8 L199.0 416.8 L200.3 417.8 L201.2 419.1 L201.7 420.5 L202.1 421.7 L202.2 422.9Z" fill="none" stroke="#888" stroke-width="0.5"/>
<path d="M202.0 424.0 L201.9 425.6 L201.3 427.3 L199.8 428.8 L197.7 428.8 L195.8 427.8 L194.3 426.2 L194.1 424.0 L194.5 421.9 L195.7 420.0 L197.7 419.2 L199.8 419.3 L201.4 420.6 L201.8 422.5Z" fill="none" stroke="#777" stroke-width="0.5"/>
<path d="M201.8 424.0 L201.8 424.8 L201.4 425.8 L200.6 426.5 L199.5 426.5 L198.5 426.0 L197.8 425.1 L197.6 424.0 L197.8 422.9 L198.4 421.9 L199.5 421.4 L200.6 421.5 L201.4 422.2 L201.7 423.2Z" fill="none" stroke="#666" stroke-width="0.5"/>
<path d="M178.8 421.4h.7M185.6 411.4h.7M175.4 424.2h.7M204.1 425.7h.7M191.1 402.6h.7M200.9 413.1h.7M187.8 440.6h.7M180.2 414.5h.7M184.5 407.4h.7M201.8 417.5h.7M184.4 436.8h.7M184.0 413.7h.7M180.0 413.4h.7M194.9 438.9h.7M202.2 406.5h.7M199.0 406.2h.7M181.9 405.0h.7M182.1 410.7h.7M178.0 415.1h.7M187.2 442.6h.7M204.1 416.3h.7M186.3 411.2h.7M201.3 434.7h.7M195.4 403.4h.7M194.1 440.1h.7M192.3 439.2h.7M191.6 406.3h.7M189.6 404.1h.7M203.2 422.7h.7M203.9 437.3h.7M198.1 410.9h.7M179.4 429.8h.7M203.0 415.5h.7M180.2 428.7h.7M201.8 411.3h.7M183.8 434.7h.7M180.0 421.5h.7M202.1 432.6h.7M203.7 406.9h.7M187.9 411.4h.7M193.2 409.4h.7M182.7 434.5h.7M203.1 419.4h.7M201.5 416.1h.7M204.2 409.4h.7M178.4 425.3h.7M202.8 408.2h.7M203.3 438.7h.7M188.4 438.1h.7M202.6 418.2h.7M192.7 440.1h.7M179.6 429.9h.7M176.0 421.5h.7M210.7 421.5h.7M202.6 434.0h.7M178.1 436.8h.7M201.6 434.9h.7M199.3 407.7h.7M181.0 414.0h.7M180.4 438.1h.7M200.3 434.0h.7M201.6 415.4h.7M197.4 436.8h.7M187.4 436.8h.7M192.4 404.1h.7M198.9 408.7h.7M178.8 420.1h.7M182.1 432.4h.7M199.8 437.9h.7M209.6 424.7h.7M203.2 417.5h.7M179.5 428.4h.7M206.4 428.6h.7M202.7 432.6h.7M181.5 433.4h.7M176.0 431.7h.7M183.6 438.8h.7M200.9 413.5h.7M203.7 413.7h.7M189.5 439.2h.7M204.1 433.9h.7M198.9 437.6h.7M201.8 415.4h.7M181.3 411.8h.7M202.8 430.1h.7M180.0 429.1h.7M177.5 432.1h.7M195.0 437.8h.7M188.4 407.5h.7M199.5 439.9h.7M207.0 424.5h.7M206.6 420.9h.7M184.2 438.6h.7M190.5 405.9h.7M203.4 430.0h.7M180.9 432.3h.7M203.2 434.5h.7M188.6 445.0h.7M201.6 415.2h.7M178.9 411.1h.7M182.7 413.4h.7M177.2 424.0h.7M204.0 425.1h.7M190.3 445.5h.7M171.6 418.7h.7M201.2 415.9h.7M168.4 436.8h.7M191.5 408.4h.7M189.0 410.2h.7M183.7 412.1h.7M203.4 423.5h.7M182.4 436.0h.7M185.5 410.6h.7M177.2 431.5h.7M182.9 433.2h.7M203.7 433.3h.7M193.4 409.5h.7M180.9 403.1h.7M179.5 417.1h.7M182.5 412.3h.7M176.2 423.2h.7M183.3 433.2h.7M202.8 424.0h.7M179.0 424.0h.7M175.9 422.7h.7M207.1 429.2h.7M188.7 439.9h.7M178.7 424.2h.7M188.4 440.8h.7M204.0 429.7h.7M191.8 408.8h.7M203.7 430.9h.7M203.8 439.2h.7M184.1 435.5h.7M201.7 434.5h.7M203.6 434.4h.7M204.8 430.3h.7M176.1 436.6h.7M190.3 401.2h.7M191.1 447.3h.7M176.5 427.6h.7M206.8 419.1h.7M201.9 417.7h.7M190.1 408.1h.7M198.3 411.9h.7M188.6 438.6h.7M184.5 434.8h.7M199.2 408.9h.7M176.6 417.7h.7M186.2 440.4h.7M203.9 424.6h.7M181.6 410.4h.7M180.2 438.3h.7M195.9 437.4h.7M197.8 440.7h.7M176.1 426.5h.7M183.2 437.5h.7M208.3 432.8h.7M204.6 411.1h.7M179.3 414.8h.7M187.2 406.8h.7M175.5 424.2h.7M178.0 430.9h.7M198.0 441.7h.7M209.0 422.2h.7M186.6 437.9h.7M196.0 409.3h.7M187.1 407.9h.7M201.0 433.0h.7M178.3 408.4h.7M200.7 413.2h.7M200.4 440.2h.7M204.8 416.3h.7M202.9 425.4h.7M188.9 439.7h.7M201.2 434.5h.7M181.3 431.6h.7M178.6 414.4h.7M204.3 421.4h.7M176.0 435.0h.7M179.5 405.9h.7M195.0 407.6h.7M186.2 408.2h.7M185.2 410.7h.7M202.9 422.2h.7M195.6 440.8h.7M196.1 409.6h.7M184.4 438.4h.7M191.5 408.1h.7M177.3 422.6h.7M204.4 420.6h.7M182.8 410.9h.7M183.6 439.6h.7M202.2 429.5h.7M205.0 417.9h.7M180.2 422.5h.7M200.6 408.6h.7M183.1 413.5h.7M192.3 440.0h.7M205.1 416.6h.7M194.0 438.1h.7M195.3 444.7h.7M193.7 437.8h.7M177.4 421.5h.7M202.2 433.7h.7M203.3 411.9h.7M179.8 438.4h.7M195.4 440.0h.7M178.9 422.3h.7M186.0 435.6h.7M204.0 430.5h.7M176.1 422.5h.7M205.2 413.7h.7M178.5 422.3h.7M201.7 435.5h.7M179.6 415.8h.7M184.5 439.9h.7M196.9 408.4h.7M197.0 437.0h.7M179.3 424.8h.7M178.6 425.1h.7M206.1 421.6h.7M184.3 400.4h.7M196.1 440.3h.7M194.8 409.0h.7M198.8 438.1h.7M178.6 418.0h.7M204.3 430.0h.7M204.0 432.3h.7M183.4 413.5h.7M198.9 408.5h.7M185.7 436.2h.7M199.0 411.0h.7M199.9 437.5h.7M198.0 439.9h.7M200.0 440.4h.7M190.7 404.1h.7M177.9 421.1h.7M201.2 412.4h.7M179.8 421.6h.7M174.1 425.5h.7M193.2 440.2h.7M205.3 416.9h.7M177.4 421.0h.7M191.4 440.7h.7M201.2 414.7h.7M194.3 444.2h.7M186.9 410.7h.7M191.3 442.0h.7M202.0 417.4h.7M179.7 430.2h.7M206.1 422.9h.7M172.7 424.2h.7M203.6 413.2h.7M178.3 434.7h.7M201.4 440.1h.7M197.0 403.0h.7M175.0 423.6h.7M202.5 419.7h.7M202.6 432.3h.7M203.1 419.1h.7M201.1 413.3h.7M178.4 420.5h.7M203.5 436.1h.7M202.2 429.9h.7M204.7 427.5h.7M200.3 439.3h.7M202.6 413.9h.7M184.9 410.7h.7M180.5 432.8h.7M193.6 408.5h.7M187.2 409.7h.7M179.3 427.4h.7M180.8 419.2h.7M198.0 441.7h.7M191.0 401.7h.7M176.0 431.1h.7M184.3 440.4h.7M174.8 421.5h.7M201.4 435.0h.7M186.8 408.2h.7M203.4 424.5h.7M180.6 416.9h.7M186.8 436.7h.7M182.2 411.8h.7M179.0 422.2h.7M178.2 422.3h.7M188.8 439.9h.7M180.4 412.9h.7M202.4 432.0h.7M179.2 424.4h.7M204.0 426.6h.7M180.5 418.2h.7M189.9 409.5h.7M203.6 412.9h.7M207.5 414.6h.7M195.0 440.1h.7M200.8 409.2h.7M203.5 413.7h.7M203.1 432.9h.7" stroke="#555" stroke-width="0.7" fill="none" opacity="0.6"/>
<path d="M200.8 434.8h.7M199.2 416.4h.7M193.8 433.5h.7M196.0 412.9h.7M204.8 417.5h.7M194.7 426.8h.7M197.2 415.4h.7M191.8 418.4h.7M204.4 419.6h.7M202.6 431.9h.7M203.1 424.4h.7M191.2 423.8h.7M204.1 424.0h.7M194.5 426.2h.7M199.9 421.6h.7M192.4 416.3h.7M197.2 414.7h.7M204.7 421.7h.7M204.9 428.8h.7M202.0 424.8h.7M201.1 421.9h.7M190.7 424.0h.7M193.7 426.4h.7M200.1 435.6h.7M195.0 422.9h.7M202.1 423.2h.7M203.6 418.4h.7M191.6 427.6h.7M196.2 434.5h.7M199.4 433.9h.7M193.5 419.5h.7M202.9 416.2h.7M201.3 434.4h.7M195.5 435.3h.7M201.1 423.4h.7M196.8 426.1h.7M201.0 414.7h.7M201.4 435.1h.7M196.2 429.1h.7M205.2 422.6h.7M203.3 433.0h.7M205.2 423.9h.7M191.8 423.2h.7M202.2 431.9h.7M205.0 422.9h.7M197.4 434.6h.7M197.9 418.4h.7M200.4 423.1h.7M201.4 428.5h.7M191.8 424.0h.7M205.2 422.9h.7M199.5 413.6h.7M197.4 421.1h.7M197.8 414.2h.7M194.7 415.8h.7M204.0 425.4h.7M199.5 421.3h.7M192.9 415.2h.7M200.0 432.5h.7M191.1 420.8h.7M190.9 427.4h.7M195.3 436.2h.7M198.5 415.8h.7M199.3 412.7h.7M191.6 420.4h.7M197.8 411.3h.7M201.7 415.9h.7M196.9 416.8h.7M197.1 434.0h.7M198.7 435.4h.7M202.3 428.1h.7M192.2 419.3h.7M195.8 429.7h.7M192.7 415.4h.7M203.6 421.7h.7M196.3 433.5h.7M202.7 418.1h.7M202.8 425.5h.7M195.1 423.6h.7M202.9 421.4h.7M195.2 421.4h.7M196.4 426.7h.7M193.7 414.4h.7M199.9 424.5h.7M199.8 430.6h.7M201.2 413.0h.7M203.6 422.0h.7M202.1 434.3h.7M194.5 416.3h.7M197.1 429.2h.7M192.9 426.7h.7M199.9 430.5h.7M201.0 429.6h.7M198.3 431.9h.7M199.4 414.8h.7M193.7 418.6h.7M198.0 420.0h.7M198.0 414.3h.7M192.8 415.3h.7M192.3 419.8h.7M200.6 430.1h.7M198.7 422.7h.7M200.8 427.2h.7M202.8 420.8h.7M201.9 421.9h.7M204.5 427.8h.7M197.6 428.5h.7M194.3 432.6h.7M202.8 420.0h.7M197.0 421.8h.7M195.8 434.3h.7M201.6 428.3h.7M204.3 427.8h.7M191.5 421.9h.7M194.3 431.6h.7M193.5 419.3h.7M199.4 426.6h.7M202.3 416.4h.7M195.8 414.1h.7M196.5 425.1h.7M201.8 420.9h.7M200.9 421.2h.7M203.0 419.1h.7M200.7 428.8h.7M194.7 412.5h.7M192.1 427.7h.7M198.1 423.6h.7M198.3 430.2h.7M196.8 412.9h.7M202.4 420.5h.7M200.3 420.6h.7M202.4 414.3h.7M198.3 414.1h.7M205.1 421.7h.7M205.3 424.3h.7M198.5 431.3h.7M191.4 419.8h.7M199.3 422.9h.7M195.4 425.8h.7M195.9 420.7h.7" stroke="#555" stroke-width="0.7" fill="none" opacity="0.5"/>
<rect x="199.5" y="411" width="5" height="26" fill="#444" opacity="0.5" filter="url(#b1)"/>
<path d="M202 412v24" stroke="#fff" stroke-width="0.7" fill="none" opacity="0.8"/>
<path d="M185.2 373.0h.7M187.3 384.2h.7M188.6 368.4h.7M188.9 370.7h.7M189.8 377.2h.7M183.3 378.7h.7M185.7 381.8h.7M196.0 378.6h.7M195.2 374.2h.7M194.8 380.7h.7M191.2 385.1h.7M187.3 372.4h.7M183.4 375.4h.7M196.0 374.5h.7M184.7 376.2h.7M183.2 378.2h.7M194.2 377.1h.7M185.8 380.1h.7M183.8 377.0h.7M183.1 375.1h.7M188.7 373.7h.7M190.8 382.1h.7M187.7 382.6h.7M190.3 378.6h.7M183.8 382.0h.7M191.7 371.7h.7M189.5 369.3h.7M184.8 374.1h.7M193.1 383.1h.7M193.7 372.8h.7M196.9 382.8h.7M187.7 384.3h.7M189.2 377.4h.7M189.2 368.5h.7M193.1 374.1h.7M186.2 382.9h.7M186.8 374.2h.7M183.8 373.0h.7M185.2 382.9h.7M197.6 374.5h.7M187.2 384.5h.7M191.7 374.2h.7M190.8 376.1h.7M194.8 370.3h.7M182.8 379.7h.7M189.0 381.6h.7M190.1 377.5h.7M191.6 383.4h.7M190.3 383.0h.7M188.4 376.9h.7M184.0 375.9h.7M189.1 375.5h.7M184.2 374.8h.7M186.0 382.4h.7M196.4 373.1h.7M189.8 378.7h.7M190.2 378.7h.7M192.3 378.2h.7M185.0 375.3h.7M184.5 379.4h.7M187.4 383.4h.7M190.4 380.5h.7M197.2 375.4h.7M192.1 368.9h.7M186.8 378.9h.7M193.4 384.7h.7M193.3 368.9h.7M186.6 384.8h.7M183.5 378.8h.7M190.5 385.0h.7M184.0 373.6h.7M197.3 382.3h.7M183.4 375.2h.7M197.2 380.5h.7M192.7 372.6h.7M184.3 382.3h.7M189.5 381.5h.7M187.5 369.6h.7M187.8 376.6h.7M184.7 380.1h.7M187.6 370.2h.7M188.7 368.3h.7M197.8 379.0h.7M189.7 379.6h.7M190.2 382.2h.7M194.7 381.4h.7M196.3 374.4h.7M191.0 382.0h.7M195.5 381.7h.7M194.5 381.6h.7M198.2 377.2h.7M192.0 371.2h.7M193.2 382.4h.7M185.0 379.7h.7M189.4 374.8h.7M185.3 375.0h.7M194.0 379.6h.7M192.6 369.1h.7M196.2 381.4h.7M183.8 382.4h.7M188.4 379.9h.7M194.2 372.5h.7M194.4 375.3h.7M195.6 381.6h.7M193.1 375.2h.7M186.2 382.8h.7M192.0 373.3h.7M183.7 380.4h.7M194.1 372.3h.7M184.6 377.7h.7M191.2 374.0h.7M191.5 386.1h.7M189.5 379.7h.7M193.0 380.2h.7M182.9 379.7h.7M194.5 373.0h.7M185.5 381.6h.7M187.1 377.0h.7M198.2 376.6h.7M195.4 383.4h.7" stroke="#444" stroke-width="0.7" fill="none" opacity="0.7"/>
<path d="M189.2 378.4h.7M191.3 379.9h.7M191.9 380.5h.7M191.6 380.5h.7M194.1 374.2h.7M190.4 371.4h.7M193.6 377.5h.7M193.9 376.4h.7M191.1 375.8h.7M194.3 374.8h.7M192.3 372.3h.7M188.2 379.6h.7M193.7 376.4h.7M188.6 373.7h.7M189.1 375.0h.7M192.2 372.3h.7M187.6 376.8h.7M190.9 371.4h.7M188.4 376.5h.7M190.9 375.6h.7M190.6 374.7h.7M187.2 377.6h.7M186.8 375.3h.7M191.2 372.6h.7M191.1 374.7h.7M192.0 374.3h.7M187.6 379.0h.7M187.4 375.2h.7M192.9 375.1h.7M191.1 380.1h.7M187.9 373.4h.7M187.2 375.5h.7M193.4 375.2h.7M192.0 379.1h.7M188.4 373.0h.7M192.2 376.1h.7M190.7 378.1h.7M193.0 376.0h.7M192.0 373.7h.7M189.1 373.0h.7" stroke="#444" stroke-width="0.7" fill="none" opacity="0.7"/>
<path d="M192.1 388.3h.7M190.8 392.1h.7M192.6 399.1h.7M192.0 396.7h.7M193.4 390.0h.7M194.1 392.7h.7M189.0 394.0h.7M194.1 389.4h.7M192.5 392.9h.7M187.3 390.1h.7M192.1 389.7h.7M190.7 390.2h.7M192.9 392.1h.7M194.0 387.7h.7M188.4 387.9h.7M191.2 396.2h.7M189.0 387.9h.7M185.7 393.6h.7M185.9 394.0h.7M186.0 393.1h.7M191.5 395.2h.7M189.3 398.7h.7M188.9 386.3h.7M192.0 385.7h.7M188.2 386.0h.7M186.5 389.7h.7M195.9 395.1h.7M190.6 385.1h.7M192.2 388.8h.7M193.2 396.5h.7M187.7 396.9h.7M186.1 392.2h.7M189.0 384.7h.7M192.9 394.6h.7M190.0 394.2h.7M187.9 391.4h.7M187.3 387.9h.7M190.1 389.7h.7M186.6 392.6h.7M192.9 386.7h.7M194.5 397.4h.7M185.8 393.8h.7M193.4 391.6h.7M188.7 390.6h.7M187.0 387.2h.7M186.6 390.3h.7M192.4 397.2h.7M192.7 387.9h.7M192.4 389.7h.7M189.2 392.4h.7" stroke="#555" stroke-width="0.7" fill="none" opacity="0.65"/>
<path d="M118.5 506.5 L118.2 509.1 L117.2 511.7 L115.6 513.9 L113.4 515.8 L110.9 517.2 L108.0 518.1 L105.0 518.4 L102.0 518.1 L99.1 517.2 L96.6 515.8 L94.4 513.9 L92.8 511.7 L91.8 509.1 L91.5 506.5 L91.8 503.9 L92.8 501.3 L94.4 499.1 L96.6 497.2 L99.1 495.8 L102.0 494.9 L105.0 494.6 L108.0 494.9 L110.9 495.8 L113.4 497.2 L115.6 499.1 L117.2 501.3 L118.2 503.9Z" fill="#aaa" opacity="0.3" filter="url(#b1)"/>
<path d="M117.6 506.5 L117.8 509.1 L116.7 511.5 L115.2 513.7 L112.6 514.9 L110.3 516.1 L107.8 517.1 L105.0 517.1 L102.2 517.1 L99.7 516.2 L97.3 515.0 L95.3 513.3 L93.7 511.3 L93.2 508.9 L92.0 506.5 L93.2 504.1 L93.6 501.6 L95.6 499.9 L97.0 497.7 L99.5 496.4 L102.1 495.2 L105.0 495.5 L107.9 495.3 L110.3 496.9 L112.5 498.2 L114.7 499.7 L116.2 501.7 L117.4 504.0Z" fill="none" stroke="#777" stroke-width="0.5"/>
<path d="M115.8 506.6 L115.8 508.7 L115.4 510.8 L113.3 512.1 L112.3 514.1 L109.8 514.5 L107.9 515.7 L105.5 515.8 L103.1 516.0 L100.8 515.1 L99.2 513.5 L97.4 512.2 L95.7 510.7 L95.4 508.6 L94.6 506.6 L95.4 504.6 L95.9 502.5 L97.3 500.8 L98.9 499.3 L100.7 497.9 L103.1 497.4 L105.5 497.7 L107.9 497.5 L110.2 498.0 L112.2 499.2 L114.0 500.6 L114.5 502.8 L115.5 504.6Z" fill="none" stroke="#888" stroke-width="0.5"/>
<path d="M114.1 506.7 L113.9 508.3 L113.5 509.8 L112.8 511.5 L111.2 512.4 L109.6 513.3 L107.9 514.0 L106.0 513.7 L104.1 514.1 L102.4 513.3 L100.9 512.3 L99.5 511.2 L98.1 510.0 L97.8 508.3 L97.4 506.7 L97.6 505.0 L98.1 503.3 L99.3 502.0 L101.0 501.1 L102.3 500.0 L104.1 499.5 L106.0 499.2 L107.8 499.7 L109.8 499.8 L111.1 501.0 L112.5 502.1 L113.2 503.6 L114.5 505.0Z" fill="none" stroke="#777" stroke-width="0.5"/>
<path d="M112.8 506.7 L113.0 508.0 L112.2 509.2 L111.3 510.2 L110.4 511.0 L109.3 511.8 L107.9 512.2 L106.5 512.4 L105.1 512.0 L103.8 511.7 L102.7 511.0 L101.4 510.3 L100.9 509.1 L100.3 508.0 L100.1 506.7 L100.1 505.5 L101.0 504.4 L101.3 503.1 L102.4 502.2 L103.8 501.8 L105.1 501.4 L106.5 501.4 L107.9 501.3 L109.3 501.7 L110.4 502.4 L111.2 503.4 L112.3 504.3 L112.9 505.5Z" fill="none" stroke="#666" stroke-width="0.5"/>
<path d="M111.2 506.8 L110.9 508.5 L109.7 509.9 L107.9 510.4 L106.0 510.7 L104.3 509.8 L102.9 508.5 L102.8 506.8 L103.1 505.2 L104.3 503.9 L106.0 503.2 L107.9 503.1 L109.6 504.0 L110.8 505.2Z" fill="none" stroke="#555" stroke-width="0.5"/>
<path d="M109.6 506.9 L109.5 507.8 L108.8 508.4 L108.0 508.9 L107.0 508.8 L106.0 508.5 L105.4 507.8 L105.1 506.9 L105.3 506.0 L106.1 505.4 L106.9 504.9 L107.9 505.0 L108.8 505.4 L109.5 506.0Z" fill="none" stroke="#555" stroke-width="0.5"/>
<path d="M116.4 513.8h.7M115.6 511.5h.7M116.4 496.6h.7M118.9 498.9h.7M115.0 515.4h.7M109.8 520.0h.7M91.3 506.7h.7M103.7 518.1h.7M120.9 507.0h.7M102.8 493.5h.7M106.3 518.2h.7M116.0 514.1h.7M101.6 517.8h.7M96.0 497.3h.7M117.4 499.8h.7M118.1 499.6h.7M116.7 503.4h.7M108.1 516.9h.7M108.1 495.1h.7M117.7 501.3h.7M117.6 510.2h.7M106.9 519.6h.7M104.6 519.6h.7M116.5 496.2h.7M114.1 513.4h.7M109.2 524.0h.7M114.1 498.0h.7M98.6 517.7h.7M95.9 514.2h.7M118.0 503.1h.7M94.8 512.7h.7M119.2 511.9h.7M116.9 512.5h.7M104.3 496.0h.7M114.6 513.0h.7M96.6 496.0h.7M107.2 492.9h.7M115.4 513.0h.7M100.9 496.0h.7M91.7 505.9h.7M93.2 508.2h.7M119.8 515.2h.7M98.2 517.8h.7M98.0 516.6h.7M106.4 519.8h.7M118.5 510.1h.7M97.8 517.6h.7M110.0 493.7h.7M111.3 495.4h.7M92.5 507.3h.7M107.7 516.8h.7M113.1 514.5h.7M106.7 493.6h.7M122.0 514.4h.7M111.2 517.3h.7M116.1 500.9h.7M115.9 512.9h.7M118.8 505.1h.7M111.0 496.6h.7M92.9 512.2h.7M91.7 506.0h.7M110.3 516.2h.7M116.4 509.7h.7M103.4 493.9h.7M94.3 515.5h.7M118.7 509.0h.7M117.7 499.5h.7M117.5 510.7h.7M98.5 494.7h.7M94.9 499.9h.7M89.5 513.7h.7M93.0 500.5h.7M120.5 507.6h.7M103.8 521.4h.7M87.3 503.1h.7M115.2 501.0h.7M116.0 512.9h.7M117.7 508.6h.7M115.8 495.9h.7M106.0 520.3h.7M98.5 517.0h.7M99.1 495.5h.7M95.8 515.0h.7M93.7 496.9h.7M118.7 508.5h.7M94.9 498.4h.7M103.9 517.7h.7M106.9 519.4h.7M119.6 514.5h.7M114.8 514.3h.7M91.5 505.3h.7M96.6 496.7h.7M88.3 507.5h.7M94.2 511.7h.7M117.3 507.7h.7M116.8 510.1h.7M118.2 502.4h.7M118.2 503.5h.7M118.5 513.7h.7M97.3 515.0h.7M105.0 518.4h.7M94.8 515.6h.7M93.7 515.7h.7M118.9 509.9h.7M95.8 513.9h.7M112.2 514.9h.7M98.0 515.6h.7M107.1 495.1h.7M111.5 521.5h.7M123.8 496.4h.7M118.9 503.6h.7M116.9 503.8h.7M94.1 512.4h.7M93.1 500.7h.7M94.1 518.3h.7M114.6 494.3h.7M108.1 490.2h.7M93.7 498.4h.7M99.4 515.8h.7M120.1 496.7h.7M100.9 492.2h.7M108.3 519.9h.7M115.1 517.6h.7M91.7 499.9h.7M92.1 517.3h.7M96.8 521.6h.7M116.0 500.0h.7M102.8 491.1h.7M113.8 516.3h.7M101.2 517.0h.7M108.2 522.4h.7M99.9 518.5h.7M92.1 503.7h.7M95.8 515.9h.7M96.2 513.9h.7M119.4 511.4h.7M114.1 498.5h.7M115.8 512.9h.7M113.7 516.9h.7M116.9 506.5h.7M121.1 501.9h.7M108.7 518.7h.7M92.0 499.8h.7M98.0 496.4h.7M100.7 520.3h.7M113.0 494.6h.7M88.3 509.8h.7M95.3 493.8h.7M98.9 495.8h.7M91.5 505.8h.7M117.9 512.0h.7M105.7 519.3h.7M92.7 510.9h.7M118.0 505.4h.7M97.4 496.7h.7M113.8 493.3h.7M111.7 497.8h.7M96.6 514.4h.7M93.5 502.9h.7M103.3 520.4h.7M91.0 511.8h.7M116.4 510.0h.7M116.3 511.4h.7M98.9 496.6h.7M111.6 497.4h.7M117.8 508.1h.7M95.9 498.6h.7M93.4 498.7h.7M109.1 518.3h.7M92.0 503.5h.7M115.2 515.1h.7M116.9 503.4h.7M114.3 495.9h.7M92.4 498.4h.7M105.5 518.7h.7M108.7 520.4h.7M117.9 505.5h.7M108.4 494.0h.7M95.8 515.7h.7M107.9 495.8h.7M93.4 502.7h.7M89.1 507.2h.7M109.7 516.7h.7M120.5 506.2h.7M118.7 507.6h.7M99.6 516.8h.7M91.5 505.5h.7M113.0 498.6h.7M95.8 515.1h.7M97.3 515.3h.7M111.9 521.2h.7M117.9 504.2h.7M109.5 491.4h.7M117.8 511.7h.7M93.1 507.7h.7M91.1 507.9h.7M90.3 503.3h.7M103.3 495.2h.7M90.6 499.7h.7M91.4 520.1h.7M117.2 511.5h.7M87.6 501.8h.7M111.8 493.6h.7M100.1 495.6h.7M117.9 506.5h.7M118.4 513.5h.7M92.6 513.8h.7M115.6 500.2h.7M113.9 496.7h.7M85.9 501.0h.7M113.2 497.2h.7M93.4 508.9h.7M101.6 494.1h.7M115.2 494.7h.7M120.5 512.0h.7M107.4 495.9h.7M116.4 501.2h.7M96.7 517.0h.7M112.0 494.9h.7M121.2 498.5h.7M107.9 518.0h.7M114.7 499.9h.7M91.3 507.1h.7M107.3 518.6h.7M92.5 500.1h.7M120.1 504.3h.7M93.6 511.8h.7M96.1 517.4h.7M93.0 497.4h.7M106.6 519.9h.7M112.5 496.4h.7M88.0 510.0h.7M101.3 496.4h.7M119.8 514.1h.7M121.3 513.6h.7M106.2 495.9h.7M93.2 503.6h.7M87.3 508.9h.7M116.7 501.9h.7M94.7 513.1h.7M118.0 511.2h.7M118.4 506.0h.7M123.0 505.6h.7M116.7 510.9h.7M114.0 499.4h.7M119.6 503.9h.7M92.0 509.8h.7M114.1 496.3h.7M109.9 517.8h.7M103.4 518.5h.7M99.3 518.3h.7M97.6 495.0h.7M92.4 507.0h.7M92.1 512.0h.7M94.1 501.1h.7M94.8 493.8h.7M121.6 510.4h.7M113.1 517.1h.7M106.7 494.6h.7M116.4 502.1h.7" stroke="#555" stroke-width="0.7" fill="none" opacity="0.6"/>
<path d="M105.5 498.4h.7M99.1 511.5h.7M105.9 508.6h.7M105.9 510.1h.7M93.6 505.8h.7M98.4 504.9h.7M98.5 506.0h.7M114.6 505.5h.7M114.3 508.4h.7M98.2 504.5h.7M102.3 497.4h.7M115.7 509.2h.7M106.3 498.5h.7M105.8 496.9h.7M113.9 509.2h.7M100.9 505.6h.7M112.1 498.7h.7M97.8 506.3h.7M107.7 502.4h.7M108.8 505.8h.7M97.9 504.0h.7M108.3 512.2h.7M107.7 497.5h.7M110.3 506.0h.7M108.1 505.5h.7M112.4 512.7h.7M98.3 503.0h.7M112.5 508.3h.7M98.8 510.9h.7M111.5 509.7h.7M98.0 503.4h.7M111.7 508.1h.7M96.2 506.5h.7M99.7 504.8h.7M102.1 506.6h.7M108.3 509.1h.7M103.6 506.3h.7M96.0 507.2h.7M95.4 501.6h.7M103.0 512.9h.7M109.8 499.8h.7M107.4 516.2h.7M105.5 514.3h.7M101.0 505.8h.7M113.6 508.3h.7M110.9 509.9h.7M105.8 496.9h.7M105.5 504.9h.7M98.7 513.1h.7M110.7 510.6h.7M106.9 510.5h.7M102.6 497.9h.7M96.5 509.3h.7M111.7 510.4h.7M98.7 512.1h.7M95.2 505.0h.7M101.9 499.2h.7M99.9 511.7h.7M106.3 510.1h.7M99.9 507.4h.7M96.3 500.2h.7M105.4 512.9h.7M108.9 500.3h.7M112.2 507.0h.7M110.4 501.9h.7M94.5 508.2h.7M104.9 497.7h.7M106.5 512.3h.7M106.4 501.3h.7M110.6 514.8h.7M110.8 509.8h.7M108.1 505.2h.7M110.8 512.9h.7M110.7 503.7h.7M102.4 502.8h.7M113.6 506.4h.7M106.9 503.6h.7M104.4 505.6h.7M96.6 501.3h.7M97.0 509.0h.7M108.8 503.8h.7M106.4 499.3h.7M102.1 508.0h.7M104.8 502.6h.7M102.8 506.1h.7M115.0 505.3h.7M94.1 505.8h.7M113.3 507.5h.7M114.4 510.2h.7M104.7 509.2h.7M103.8 502.7h.7M94.8 507.8h.7M114.8 507.1h.7M103.4 498.7h.7M112.3 502.6h.7M106.4 503.1h.7M113.6 510.2h.7M109.7 508.0h.7M104.2 514.8h.7M106.5 511.9h.7M100.9 506.4h.7M101.4 507.7h.7M106.5 499.5h.7M112.3 509.6h.7M110.1 508.4h.7M102.7 503.1h.7M105.8 509.9h.7M103.8 500.8h.7M108.0 506.9h.7M97.4 513.6h.7M100.5 511.1h.7M103.5 512.3h.7M116.0 505.6h.7M113.2 503.7h.7M110.7 505.1h.7M106.6 515.4h.7M107.1 503.1h.7M107.4 501.8h.7M105.8 506.9h.7M96.4 505.8h.7" stroke="#666" stroke-width="0.7" fill="none" opacity="0.5"/>
<rect x="104" y="501.5" width="9" height="10" fill="#444" opacity="0.4" filter="url(#b1)"/>
<path d="M103.5 502v9M106.5 502v9.5M112.5 503v8" stroke="#444" stroke-width="0.6" fill="none" opacity="0.8"/>
<ellipse cx="110" cy="507" rx="1.5" ry="1.7" fill="#fff" opacity="0.9"/>
<path d="M107.4 476.2 L107.2 477.9 L106.6 479.5 L105.7 480.9 L104.5 482.1 L103.1 483.0 L101.5 483.6 L99.8 483.8 L98.1 483.6 L96.5 483.0 L95.1 482.1 L93.9 480.9 L93.0 479.5 L92.4 477.9 L92.2 476.2 L92.4 474.5 L93.0 472.9 L93.9 471.5 L95.1 470.3 L96.5 469.4 L98.1 468.8 L99.8 468.6 L101.5 468.8 L103.1 469.4 L104.5 470.3 L105.7 471.5 L106.6 472.9 L107.2 474.5Z" fill="#ccc" opacity="0.45" filter="url(#b1)"/>
<path d="M106.9 476.2 L106.8 477.8 L106.0 479.2 L105.4 480.7 L104.2 481.7 L102.8 482.5 L101.3 482.9 L99.8 483.2 L98.2 483.1 L96.7 482.6 L95.6 481.5 L94.2 480.7 L93.6 479.2 L92.9 477.8 L92.6 476.2 L92.9 474.6 L93.4 473.1 L94.3 471.8 L95.3 470.6 L96.8 469.9 L98.2 469.3 L99.8 469.2 L101.4 469.4 L102.8 469.9 L104.1 470.8 L105.3 471.8 L106.0 473.2 L106.5 474.7Z" fill="none" stroke="#777" stroke-width="0.5"/>
<path d="M104.8 476.2 L104.7 477.3 L104.3 478.3 L103.8 479.4 L102.9 480.1 L101.9 480.7 L100.9 481.2 L99.8 481.2 L98.7 481.1 L97.5 480.9 L96.5 480.3 L95.7 479.5 L95.3 478.4 L94.9 477.3 L94.7 476.2 L94.7 475.0 L95.2 474.0 L95.8 473.0 L96.6 472.2 L97.5 471.5 L98.7 471.2 L99.8 471.2 L100.9 471.3 L102.0 471.7 L102.9 472.3 L103.8 473.0 L104.3 474.0 L104.8 475.1Z" fill="none" stroke="#999" stroke-width="0.5"/>
<path d="M103.1 476.2 L102.9 476.9 L102.6 477.6 L102.3 478.2 L101.7 478.6 L101.2 479.0 L100.5 479.3 L99.8 479.3 L99.1 479.3 L98.4 479.1 L97.8 478.7 L97.4 478.1 L96.9 477.6 L96.7 476.9 L96.6 476.2 L96.7 475.5 L96.9 474.8 L97.3 474.2 L97.9 473.8 L98.5 473.4 L99.1 473.1 L99.8 473.0 L100.5 473.2 L101.2 473.3 L101.8 473.7 L102.3 474.2 L102.7 474.8 L102.9 475.5Z" fill="none" stroke="#888" stroke-width="0.5"/>
<path d="M101.1 476.2 L101.0 476.8 L100.6 477.2 L100.1 477.4 L99.5 477.4 L99.0 477.2 L98.7 476.7 L98.5 476.2 L98.7 475.7 L99.0 475.2 L99.5 474.9 L100.1 475.0 L100.6 475.2 L100.9 475.7Z" fill="none" stroke="#aaa" stroke-width="0.5"/>
<path d="M107.9 471.5h.7M105.9 481.7h.7M96.3 470.1h.7M93.9 485.1h.7M99.3 467.1h.7M91.0 471.7h.7M108.8 479.3h.7M94.0 471.8h.7M97.1 486.1h.7M103.8 470.9h.7M109.5 474.5h.7M106.6 482.5h.7M96.1 467.4h.7M107.7 474.2h.7M104.2 470.5h.7M98.4 467.4h.7M95.6 481.5h.7M105.5 470.9h.7M91.9 472.3h.7M104.7 481.5h.7M102.7 469.1h.7M98.0 485.1h.7M106.8 471.1h.7M108.6 477.8h.7M100.2 483.0h.7M104.0 470.5h.7M92.5 474.5h.7M91.3 476.2h.7M104.3 469.4h.7M88.7 468.1h.7M105.4 467.4h.7M103.5 468.8h.7M92.0 475.8h.7M97.5 469.3h.7M106.1 469.6h.7M92.6 471.2h.7M92.9 476.5h.7M107.5 482.6h.7M93.4 480.8h.7M95.3 481.4h.7M105.4 482.0h.7M91.0 471.0h.7M92.9 479.8h.7M96.8 486.3h.7M88.1 477.3h.7M91.9 483.0h.7M109.0 475.6h.7M104.7 485.3h.7M93.9 486.0h.7M102.7 487.0h.7M94.2 472.3h.7M98.9 485.9h.7M101.4 483.6h.7M92.7 482.0h.7M96.1 470.0h.7M92.0 474.8h.7M97.8 469.6h.7M106.0 472.0h.7M106.5 474.3h.7M106.5 476.6h.7M109.7 479.0h.7M92.7 480.7h.7M98.0 484.0h.7M87.4 479.1h.7M100.0 484.0h.7M90.3 476.2h.7M97.0 482.5h.7M104.0 468.6h.7M89.6 474.8h.7M96.5 467.1h.7M91.1 477.6h.7M94.5 482.4h.7M100.4 467.5h.7M91.9 476.1h.7M94.9 482.2h.7M106.8 478.8h.7M95.8 485.1h.7M91.3 476.6h.7M98.0 468.8h.7M96.4 483.6h.7M107.2 476.5h.7M102.6 487.0h.7M98.4 469.6h.7M99.8 488.1h.7M90.1 482.8h.7M106.4 477.0h.7M101.2 487.0h.7M93.7 469.5h.7M99.0 467.0h.7M101.0 467.2h.7M100.9 484.4h.7M107.2 487.6h.7M99.8 487.1h.7M98.4 467.5h.7M101.5 483.1h.7M107.0 475.8h.7M105.9 480.0h.7M96.0 469.8h.7M106.8 480.4h.7M104.4 469.5h.7M107.6 476.3h.7M99.7 464.6h.7M107.4 478.0h.7M99.2 469.2h.7M109.0 474.5h.7M102.8 467.4h.7M97.6 468.9h.7M101.0 468.8h.7M94.1 472.5h.7M92.0 474.3h.7M107.4 472.5h.7M93.0 477.3h.7M94.6 482.3h.7M101.9 469.4h.7M92.8 473.2h.7M93.3 479.9h.7M106.5 475.4h.7M109.1 475.8h.7M107.3 474.4h.7M102.2 485.2h.7M103.8 465.5h.7M102.0 469.0h.7M101.4 483.4h.7M91.6 475.5h.7M105.7 479.7h.7M106.1 471.6h.7M90.3 479.1h.7M91.2 476.3h.7M105.6 480.0h.7M102.7 482.7h.7M103.8 470.3h.7M92.3 473.6h.7M90.8 471.1h.7M105.5 483.5h.7M90.4 471.6h.7M98.8 487.0h.7M101.0 469.2h.7M108.9 472.1h.7M107.3 476.2h.7M108.6 474.2h.7M96.1 488.1h.7M96.2 484.2h.7M105.9 472.0h.7M108.9 481.4h.7M103.6 467.7h.7M107.0 471.5h.7M95.4 471.1h.7M90.2 474.6h.7M102.8 467.9h.7M106.7 484.9h.7M95.0 482.8h.7M94.7 480.9h.7M99.2 469.4h.7M106.9 479.0h.7M105.8 481.6h.7M107.1 475.8h.7M93.1 472.8h.7M91.6 475.2h.7M102.3 482.6h.7M93.4 472.7h.7M98.0 468.5h.7M91.2 469.7h.7M108.0 480.6h.7M108.0 477.6h.7M94.5 480.5h.7M108.6 472.3h.7M99.7 485.6h.7M97.9 469.4h.7M97.5 483.3h.7M94.4 480.5h.7M103.2 469.6h.7M102.9 469.4h.7M93.5 473.0h.7M108.8 476.9h.7M106.2 478.7h.7M100.8 484.6h.7M91.9 472.6h.7M106.3 473.1h.7M108.2 484.0h.7M108.9 482.8h.7M92.2 486.6h.7M107.6 479.7h.7M94.3 471.9h.7M102.5 482.8h.7M95.3 470.0h.7M108.3 476.7h.7M108.8 476.9h.7M92.4 480.4h.7M107.4 475.4h.7M102.9 483.6h.7M96.4 482.1h.7M111.1 472.3h.7M107.3 473.7h.7M92.7 472.8h.7M101.6 467.2h.7M92.3 473.8h.7M92.0 477.0h.7M109.2 470.3h.7M104.4 471.1h.7M105.0 472.1h.7" stroke="#555" stroke-width="0.7" fill="none" opacity="0.55"/>
<path d="M104.4 493.2h.7M108.3 491.6h.7M102.8 492.6h.7M106.2 491.2h.7M96.4 491.7h.7M105.9 493.0h.7M107.6 490.2h.7M105.0 489.5h.7M101.7 492.5h.7M99.5 493.4h.7M106.6 492.2h.7M99.2 490.4h.7M112.0 493.4h.7M101.6 490.4h.7M107.4 490.6h.7M102.6 494.0h.7M100.7 491.6h.7M104.6 490.6h.7M100.1 491.8h.7M103.2 491.0h.7M101.2 492.8h.7M96.7 492.1h.7M105.4 493.6h.7M105.8 493.5h.7M103.5 493.0h.7M108.8 491.8h.7M110.0 490.6h.7M100.4 490.6h.7M107.4 493.0h.7M102.9 490.4h.7M95.5 491.3h.7M99.8 493.0h.7M95.7 490.5h.7M95.1 492.8h.7M102.4 493.0h.7M104.1 491.0h.7M103.9 490.9h.7M99.5 493.6h.7M110.5 491.8h.7M100.4 493.2h.7M105.9 494.0h.7M103.1 493.3h.7M103.9 491.4h.7M105.7 493.5h.7M94.4 492.8h.7M97.7 491.2h.7M108.5 492.9h.7M109.9 491.5h.7M104.7 490.9h.7M100.4 492.2h.7" stroke="#555" stroke-width="0.7" fill="none" opacity="0.6"/>
<path d="M202.6 506.0 L202.5 508.2 L202.2 510.5 L201.5 512.9 L200.4 515.3 L198.5 517.7 L195.9 519.4 L192.8 520.0 L189.6 519.7 L186.6 518.6 L183.9 517.0 L181.7 514.8 L180.0 512.1 L178.9 509.1 L178.5 506.0 L178.9 502.9 L180.0 499.9 L181.7 497.2 L183.9 495.0 L186.6 493.4 L189.6 492.3 L192.8 492.0 L195.9 492.6 L198.5 494.3 L200.4 496.7 L201.5 499.1 L202.2 501.5 L202.5 503.8Z" fill="#bbb" opacity="0.25" filter="url(#b1)"/>
<path d="M202.0 506.0 L202.1 508.1 L201.4 510.1 L200.9 512.3 L200.0 514.9 L198.2 517.0 L195.6 518.2 L192.8 518.6 L189.8 519.0 L186.9 518.0 L184.8 515.9 L182.2 514.3 L181.2 511.5 L179.8 508.9 L179.9 506.0 L180.3 503.2 L181.2 500.5 L182.6 498.0 L184.7 496.0 L186.9 494.0 L189.9 493.3 L192.8 492.6 L195.7 493.3 L198.0 495.3 L199.7 497.5 L200.8 499.7 L201.5 501.9 L201.9 503.9Z" fill="none" stroke="#555" stroke-width="0.7"/>
<path d="M201.4 506.3 L201.6 508.0 L201.2 509.8 L200.6 511.6 L199.6 513.4 L198.3 515.3 L196.3 516.5 L193.9 517.2 L191.5 516.8 L189.2 516.1 L187.3 514.6 L185.5 512.9 L184.0 511.0 L183.3 508.7 L183.0 506.3 L183.1 503.9 L183.9 501.5 L185.3 499.5 L187.2 498.0 L189.1 496.4 L191.5 495.9 L193.9 495.6 L196.3 496.2 L198.3 497.4 L199.9 499.0 L200.8 501.0 L201.1 502.9 L201.3 504.7Z" fill="none" stroke="#888" stroke-width="0.5"/>
<path d="M201.1 506.7 L201.0 508.0 L200.9 509.4 L200.4 510.8 L199.9 512.5 L198.7 514.0 L197.1 515.1 L195.1 515.6 L193.1 515.2 L191.3 514.4 L189.4 513.7 L188.1 512.2 L187.0 510.5 L186.6 508.6 L186.2 506.7 L186.7 504.8 L187.0 502.8 L188.1 501.2 L189.4 499.7 L191.3 499.0 L193.1 497.9 L195.1 497.9 L197.0 498.5 L198.7 499.2 L199.7 500.9 L200.5 502.4 L200.8 503.9 L201.3 505.3Z" fill="none" stroke="#999" stroke-width="0.5"/>
<path d="M200.9 507.0 L200.8 508.0 L200.7 509.1 L200.4 510.2 L199.9 511.5 L198.9 512.4 L197.7 513.3 L196.2 513.5 L194.8 513.3 L193.3 513.0 L192.0 512.2 L191.1 511.0 L190.1 509.9 L189.7 508.4 L189.7 507.0 L189.9 505.5 L190.3 504.2 L191.0 502.9 L191.9 501.7 L193.3 501.0 L194.7 500.5 L196.2 500.6 L197.7 500.8 L198.9 501.5 L199.8 502.6 L200.4 503.7 L200.5 504.9 L200.9 505.9Z" fill="none" stroke="#888" stroke-width="0.5"/>
<path d="M200.5 507.3 L200.4 508.8 L199.8 510.3 L198.4 511.5 L196.4 511.7 L194.6 510.7 L193.4 509.2 L192.8 507.3 L193.3 505.4 L194.5 503.8 L196.4 502.9 L198.4 503.1 L199.8 504.3 L200.4 505.9Z" fill="none" stroke="#777" stroke-width="0.5"/>
<path d="M200.2 507.6 L200.1 508.4 L199.8 509.2 L199.0 509.8 L198.0 510.0 L197.1 509.4 L196.4 508.7 L196.1 507.6 L196.4 506.6 L197.1 505.8 L198.0 505.3 L199.1 505.4 L199.8 506.1 L200.1 506.9Z" fill="none" stroke="#666" stroke-width="0.5"/>
<path d="M202.4 502.4h.7M201.0 515.3h.7M202.0 500.9h.7M201.3 516.3h.7M190.4 520.2h.7M188.4 490.5h.7M179.1 502.8h.7M182.5 493.4h.7M205.4 507.6h.7M179.9 506.3h.7M201.2 519.9h.7M203.9 505.5h.7M202.1 513.7h.7M186.3 517.4h.7M188.2 522.2h.7M176.7 508.5h.7M204.7 511.5h.7M199.6 516.2h.7M180.7 515.2h.7M177.2 505.7h.7M200.9 493.5h.7M203.3 505.7h.7M185.3 490.9h.7M179.8 507.3h.7M199.8 514.5h.7M188.3 489.6h.7M185.2 489.4h.7M203.0 501.8h.7M180.0 508.3h.7M190.2 518.8h.7M206.5 498.2h.7M209.6 510.4h.7M199.8 498.0h.7M202.6 513.8h.7M187.8 521.2h.7M189.3 518.5h.7M201.4 511.7h.7M179.2 497.8h.7M195.2 519.5h.7M196.9 490.8h.7M196.9 518.3h.7M175.0 509.3h.7M198.6 490.9h.7M196.2 524.2h.7M201.1 511.5h.7M201.8 491.6h.7M181.2 519.8h.7M202.5 517.8h.7M202.3 503.8h.7M201.9 525.1h.7M184.4 518.5h.7M202.3 519.8h.7M203.7 508.5h.7M189.1 493.2h.7M197.7 487.4h.7M185.9 516.8h.7M197.6 492.1h.7M186.4 490.4h.7M193.2 491.3h.7M186.5 520.8h.7M178.0 499.2h.7M172.4 508.7h.7M180.6 499.0h.7M200.6 491.0h.7M203.1 506.4h.7M204.5 515.2h.7M205.1 502.1h.7M175.2 497.8h.7M193.3 492.6h.7M204.3 500.3h.7M196.4 493.7h.7M179.2 515.2h.7M205.1 509.4h.7M197.5 518.7h.7M176.2 501.3h.7M177.5 494.0h.7M173.5 510.6h.7M197.2 493.9h.7M178.7 512.7h.7M190.4 493.6h.7M199.9 498.4h.7M182.5 497.0h.7M194.1 491.6h.7M180.1 497.1h.7M198.2 520.8h.7M176.0 496.2h.7M192.2 491.3h.7M187.5 519.2h.7M203.3 507.4h.7M194.3 492.4h.7M184.2 491.9h.7M180.6 510.2h.7M201.4 502.7h.7M187.9 525.3h.7M202.1 501.1h.7M185.4 493.3h.7M200.1 522.0h.7M176.7 505.2h.7M179.0 501.1h.7M197.4 494.4h.7M201.8 499.9h.7M204.1 517.0h.7M173.8 502.4h.7M185.8 495.7h.7M201.6 504.8h.7M189.1 524.5h.7M205.6 509.9h.7M181.0 497.4h.7M203.2 505.2h.7M184.4 495.6h.7M197.2 518.4h.7M188.4 493.5h.7M181.4 512.7h.7M176.1 514.5h.7M175.7 503.1h.7M183.7 518.0h.7M194.0 520.4h.7M198.6 494.8h.7M202.3 520.6h.7M199.0 496.8h.7M179.7 507.6h.7M202.2 513.3h.7M196.5 493.4h.7M201.7 496.2h.7M187.4 493.3h.7M201.3 510.3h.7M187.2 518.4h.7M188.3 522.8h.7M179.9 512.6h.7M199.0 497.1h.7M186.7 518.7h.7M200.4 517.1h.7M204.1 513.9h.7M203.7 501.1h.7M200.3 498.1h.7M201.7 502.3h.7M203.8 504.0h.7M179.2 505.6h.7M207.6 499.9h.7M196.2 493.9h.7M203.4 497.6h.7M184.6 517.9h.7M183.1 521.8h.7M205.2 513.0h.7M201.5 501.0h.7M196.2 523.7h.7M202.0 513.5h.7M182.5 496.2h.7M184.8 496.0h.7M201.8 492.7h.7M171.3 508.2h.7M203.8 503.0h.7M200.6 494.9h.7M201.9 501.9h.7M190.4 493.1h.7M174.4 507.1h.7M196.5 487.3h.7M188.2 493.2h.7M178.0 503.8h.7M183.6 495.8h.7M178.8 516.3h.7M200.9 499.7h.7M178.8 506.3h.7M206.0 503.5h.7M201.3 503.3h.7M206.4 498.1h.7M202.1 502.9h.7M181.5 498.4h.7M206.0 502.9h.7M178.9 509.9h.7M204.6 504.8h.7M197.0 520.7h.7M203.5 493.3h.7M204.1 500.8h.7M202.2 512.9h.7M203.8 509.7h.7M185.9 493.6h.7M198.1 518.9h.7M198.1 493.8h.7M181.8 498.0h.7M201.2 513.3h.7M176.8 495.7h.7M204.7 512.1h.7M181.2 516.4h.7M193.6 487.1h.7M204.8 504.2h.7M186.7 519.8h.7M201.8 495.2h.7M193.4 488.5h.7M205.5 506.4h.7M206.4 486.7h.7M198.5 491.0h.7M208.3 519.5h.7M182.9 496.5h.7M202.5 501.1h.7M198.9 496.1h.7M182.1 484.6h.7M180.2 497.0h.7M178.3 501.0h.7M200.7 496.0h.7M202.9 508.1h.7M201.4 508.8h.7M200.8 511.7h.7M204.6 501.3h.7M199.0 517.0h.7M195.2 524.0h.7M205.4 513.3h.7M190.0 518.8h.7M193.7 487.9h.7M172.8 505.6h.7M180.5 497.6h.7M187.0 492.2h.7M201.9 516.0h.7M194.5 492.5h.7M201.1 513.5h.7M202.4 513.5h.7M202.7 503.4h.7M180.2 510.2h.7M202.4 500.0h.7M199.4 518.9h.7M197.6 492.3h.7M199.8 495.2h.7M187.0 519.3h.7M194.8 492.0h.7M204.7 492.3h.7M201.8 501.4h.7M178.0 500.6h.7M204.5 509.4h.7M201.6 504.4h.7M184.9 495.0h.7M204.9 501.8h.7M189.2 525.8h.7M178.2 503.4h.7M185.0 524.0h.7M203.8 493.3h.7M180.1 494.2h.7M179.1 514.8h.7M203.0 509.6h.7M197.3 491.8h.7M203.1 499.5h.7M188.6 519.2h.7M202.4 494.9h.7M203.8 500.2h.7M199.6 515.3h.7M201.6 504.3h.7M182.3 513.7h.7M200.3 492.8h.7M201.7 513.8h.7M184.2 486.9h.7M180.2 500.6h.7M193.7 493.1h.7M180.4 520.5h.7M193.2 491.7h.7M199.9 514.4h.7M203.6 503.1h.7M201.9 492.9h.7M189.4 520.0h.7M177.3 513.7h.7M183.1 492.4h.7M200.0 513.5h.7M204.8 512.2h.7M172.6 499.6h.7M180.2 502.5h.7M180.3 511.2h.7M190.7 490.7h.7M198.1 520.7h.7M194.1 489.6h.7M193.7 493.2h.7M178.7 493.0h.7M185.3 490.2h.7M199.4 489.6h.7M177.6 496.6h.7M170.2 502.4h.7M205.9 499.9h.7M182.7 496.7h.7M177.2 516.8h.7M172.4 506.9h.7M179.5 515.9h.7M187.1 517.6h.7M191.9 520.6h.7M182.6 520.2h.7M196.9 517.0h.7M186.8 518.3h.7M176.0 495.5h.7M187.8 490.3h.7M193.2 493.3h.7M183.0 498.0h.7M198.5 519.6h.7M180.0 505.4h.7M201.5 510.2h.7M180.2 513.1h.7M202.8 512.6h.7M201.5 501.2h.7M201.0 516.4h.7M205.4 503.7h.7M182.2 517.5h.7M176.2 496.1h.7M206.0 504.7h.7M202.2 496.4h.7M180.0 499.2h.7" stroke="#555" stroke-width="0.7" fill="none" opacity="0.6"/>
<path d="M190.7 509.3h.7M198.6 496.5h.7M196.7 503.0h.7M196.6 505.5h.7M197.7 502.8h.7M203.0 500.6h.7M198.8 498.0h.7M199.5 504.5h.7M197.4 498.2h.7M196.0 502.2h.7M196.0 511.9h.7M200.5 504.9h.7M200.1 513.5h.7M203.0 498.5h.7M198.4 508.1h.7M200.4 497.5h.7M191.6 507.8h.7M194.9 499.0h.7M201.7 501.4h.7M204.6 503.5h.7M193.5 504.8h.7M200.4 509.7h.7M194.9 513.3h.7M199.8 505.1h.7M194.7 505.0h.7M194.6 513.1h.7M192.9 513.7h.7M203.7 505.3h.7M196.5 512.1h.7M195.8 504.9h.7M204.6 507.6h.7M192.2 499.8h.7M195.6 508.2h.7M200.8 499.6h.7M202.4 505.0h.7M197.0 510.9h.7M200.1 508.2h.7M199.6 502.2h.7M199.7 517.7h.7M201.5 513.8h.7M199.7 517.2h.7M198.8 499.6h.7M200.9 514.5h.7M200.7 515.0h.7M191.8 510.6h.7M198.3 501.4h.7M197.1 502.5h.7M201.4 516.4h.7M205.0 510.0h.7M196.5 507.4h.7M202.9 513.3h.7M200.3 511.7h.7M198.7 516.8h.7M201.4 505.7h.7M199.4 502.4h.7M197.8 497.1h.7M197.1 509.7h.7M204.5 506.7h.7M194.8 513.1h.7M191.7 503.3h.7M198.3 513.0h.7M192.7 512.3h.7M197.1 498.2h.7M192.6 506.7h.7M201.1 498.6h.7M195.9 507.5h.7M192.8 507.3h.7M193.0 505.9h.7M192.8 507.9h.7M196.0 501.2h.7M200.9 515.0h.7M193.1 509.8h.7M202.9 498.7h.7M203.0 508.0h.7M195.1 517.2h.7M201.8 501.2h.7M193.9 504.8h.7M193.2 504.0h.7M201.0 508.1h.7M204.0 513.3h.7M191.1 505.9h.7M201.0 501.0h.7M191.2 510.6h.7M198.1 505.8h.7M191.1 511.9h.7M198.5 507.0h.7M197.6 496.6h.7M196.6 509.9h.7M204.0 512.5h.7M196.0 506.3h.7M193.1 513.6h.7M201.4 510.3h.7M198.9 512.0h.7M196.6 516.3h.7M197.7 503.5h.7M199.3 503.5h.7M197.2 502.1h.7M195.8 501.5h.7M202.5 508.7h.7M195.8 500.7h.7M195.4 510.9h.7M192.6 500.0h.7M194.9 508.6h.7M192.2 506.8h.7M197.2 498.0h.7M195.1 501.0h.7M190.5 510.7h.7M198.7 499.2h.7M200.5 512.8h.7M198.7 510.1h.7M199.6 502.3h.7M198.9 513.8h.7M199.6 509.5h.7M194.1 500.0h.7M203.1 509.0h.7M198.7 516.2h.7M194.1 512.7h.7M200.4 504.9h.7M198.3 504.6h.7M197.5 508.2h.7M192.5 512.0h.7M194.4 503.5h.7M195.5 510.7h.7M194.4 514.2h.7M195.4 508.9h.7M190.2 508.8h.7M192.3 510.6h.7M196.1 515.7h.7M197.7 507.3h.7M201.7 512.3h.7M191.7 508.3h.7M196.0 517.2h.7M196.8 499.5h.7M198.3 499.3h.7M197.4 504.4h.7M191.1 506.0h.7M196.8 512.1h.7M190.7 511.6h.7M197.8 499.7h.7M198.8 517.0h.7" stroke="#555" stroke-width="0.7" fill="none" opacity="0.5"/>
<rect x="198.5" y="499" width="5.5" height="16" fill="#333" opacity="0.55" filter="url(#b1)"/>
<circle cx="189.8" cy="476.2" r="3.4" fill="#fff" stroke="#555" stroke-width="0.6"/>
<path d="M186.9 470.4h.7M175.4 479.0h.7M192.1 480.3h.7M198.2 479.2h.7M182.2 478.0h.7M194.4 479.9h.7M195.8 479.6h.7M190.6 470.5h.7M185.3 473.0h.7M184.7 477.3h.7M195.6 477.3h.7M182.7 477.9h.7M194.9 467.7h.7M184.6 478.7h.7M193.1 480.7h.7M194.2 472.1h.7M195.1 477.7h.7M181.2 476.0h.7M198.1 478.1h.7M197.1 467.3h.7M184.8 474.8h.7M190.6 481.8h.7M192.1 471.8h.7M194.4 479.9h.7M191.9 471.8h.7M188.3 469.0h.7M190.7 481.1h.7M180.8 479.9h.7M192.8 483.7h.7M187.3 469.2h.7M190.2 469.8h.7M193.7 479.9h.7M185.7 471.8h.7M184.1 478.9h.7M198.9 479.8h.7M198.0 472.1h.7M190.1 483.7h.7M190.0 470.4h.7M189.8 471.1h.7M186.5 481.0h.7M199.2 474.4h.7M195.7 475.4h.7M188.7 470.6h.7M181.8 475.4h.7M185.6 470.6h.7M198.4 472.9h.7M187.4 486.3h.7M191.6 483.0h.7M184.3 479.2h.7M195.5 473.5h.7M180.3 475.7h.7M185.1 485.8h.7M187.5 470.4h.7M184.0 478.6h.7M184.1 466.1h.7M191.8 471.0h.7M185.2 475.4h.7M179.2 473.5h.7M190.3 483.4h.7M186.4 481.0h.7M196.8 472.6h.7M194.3 475.0h.7M196.1 475.6h.7M193.1 481.1h.7M180.3 475.9h.7M193.2 479.9h.7M195.6 474.9h.7M185.2 475.6h.7M194.2 477.2h.7M186.0 481.0h.7M187.3 480.6h.7M189.3 468.8h.7M184.6 473.5h.7M187.4 481.7h.7M184.7 478.0h.7M182.3 477.9h.7M194.3 475.0h.7M185.0 474.5h.7M181.4 472.4h.7M184.5 478.0h.7M185.0 478.5h.7M184.3 479.2h.7M184.0 475.1h.7M185.6 471.8h.7M182.5 475.4h.7M186.7 480.0h.7M183.4 474.7h.7M184.8 477.6h.7M196.1 474.2h.7M181.5 475.0h.7M188.7 469.0h.7M190.5 466.2h.7M190.6 484.0h.7M188.0 485.6h.7M185.3 475.4h.7M190.0 481.3h.7M184.5 472.4h.7M193.7 485.1h.7M183.7 476.0h.7M192.7 471.6h.7M185.9 481.6h.7M189.9 470.4h.7M187.6 470.9h.7M190.7 483.5h.7M188.3 480.7h.7M196.5 476.8h.7M183.7 474.1h.7M182.4 477.1h.7M190.5 482.1h.7M198.0 482.5h.7M195.7 469.9h.7M188.5 470.3h.7M191.0 471.2h.7M190.5 481.9h.7M181.7 475.0h.7M191.8 480.5h.7M185.4 477.9h.7M188.2 471.3h.7M183.9 478.9h.7M179.0 483.6h.7M184.8 479.8h.7M193.6 479.0h.7M187.5 480.9h.7M178.8 481.6h.7M186.0 479.0h.7M191.6 470.9h.7M188.0 471.5h.7M196.8 473.2h.7M191.5 480.8h.7M189.5 468.7h.7M185.3 475.3h.7M184.7 475.0h.7M181.7 478.8h.7M192.7 481.4h.7M186.4 470.9h.7M196.7 472.5h.7M196.0 478.6h.7M184.0 477.8h.7M199.8 478.1h.7M184.6 479.4h.7M195.8 481.8h.7M196.3 477.5h.7M192.8 471.2h.7M193.4 470.9h.7M184.1 477.4h.7M188.5 470.5h.7M181.2 473.5h.7M186.6 481.8h.7M192.6 481.3h.7M188.8 482.2h.7" stroke="#555" stroke-width="0.7" fill="none" opacity="0.65"/>
<rect x="88.3" y="366.2" width="22.8" height="35" fill="none" stroke="#000" stroke-width="1.6"/>
<rect x="178.8" y="366.2" width="22.9" height="35" fill="none" stroke="#000" stroke-width="1.6"/>
<rect x="88.3" y="463.5" width="25" height="25.2" fill="none" stroke="#000" stroke-width="1.6"/>
<rect x="177.3" y="463.5" width="24.4" height="25.2" fill="none" stroke="#000" stroke-width="1.6"/>
<text x="83.3" y="389.4" text-anchor="end" font-size="13.9" style="stroke-width:0.6px">11</text>
<text x="176.3" y="389.6" text-anchor="end" font-size="14" style="stroke-width:0.55px">4.8</text>
<text x="86.4" y="480.8" text-anchor="end" font-size="13.9" style="stroke-width:0.6px">14</text>
<text x="174.8" y="480.8" text-anchor="end" font-size="14" style="stroke-width:0.55px">7.5</text>
<text x="54.7" y="552" text-anchor="start" font-size="14.8">CD8</text>
<line x1="89.5" y1="546.6" x2="205" y2="546.6" stroke="#000" stroke-width="2"/>
<polygon points="203,539.5 216.5,546.6 203,553.7" fill="#000"/>
</svg></body></html>
